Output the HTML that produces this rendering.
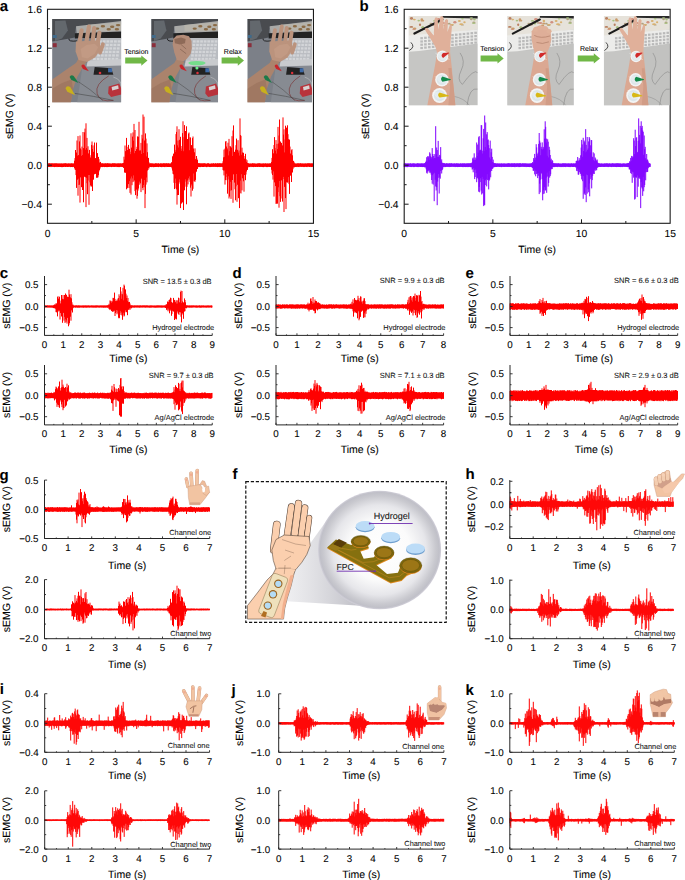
<!DOCTYPE html>
<html><head><meta charset="utf-8"><style>
html,body{margin:0;padding:0;background:#fff;}
svg{display:block;font-family:"Liberation Sans", sans-serif;text-rendering:geometricPrecision;} text{stroke:#000;stroke-width:0.08px;}
</style></head><body>
<svg width="685" height="880" viewBox="0 0 685 880">
<rect width="685" height="880" fill="#fff"/>
<path d="M47.50 163.4V167.0M48.00 163.5V166.8M48.50 163.5V167.0M49.00 163.3V167.0M49.50 163.3V167.0M50.00 163.4V166.9M50.50 163.6V166.7M51.00 163.4V167.1M51.50 163.5V166.7M52.00 163.3V166.9M52.50 163.5V166.6M53.00 163.5V167.0M53.50 163.6V166.8M54.00 163.4V166.6M54.50 163.5V167.1M55.00 163.4V166.8M55.50 163.4V166.9M56.00 163.7V166.7M56.50 163.3V166.8M57.00 163.8V167.1M57.50 163.5V166.8M58.00 163.5V167.0M58.50 163.7V167.0M59.00 163.4V167.0M59.50 163.6V166.9M60.00 163.7V166.9M60.50 163.7V167.0M61.00 163.3V166.8M61.50 163.7V167.1M62.00 163.4V167.1M62.50 163.8V167.1M63.00 163.5V166.8M63.50 163.6V167.0M64.00 163.4V166.7M64.50 163.5V166.7M65.00 163.3V166.8M65.50 163.3V167.0M66.00 163.5V166.7M66.50 163.5V166.7M67.00 163.7V167.0M67.50 163.6V167.0M68.00 163.7V167.0M68.50 163.4V166.8M69.00 163.7V166.8M69.50 163.5V166.7M70.00 163.7V166.6M70.50 163.5V167.1M71.00 163.7V166.6M71.50 163.4V167.0M72.00 163.3V166.9M72.50 163.6V167.1M73.00 163.7V167.0M73.50 163.7V166.8M74.00 163.2V167.1M74.50 160.7V168.1M75.00 158.1V169.5M75.50 150.0V169.9M76.00 156.1V175.1M76.50 152.5V187.9M77.00 140.5V173.3M77.50 155.7V179.7M78.00 136.1V195.7M78.50 155.1V178.7M79.00 156.3V185.0M79.50 141.4V184.6M80.00 135.5V202.6M80.50 148.4V177.4M81.00 149.6V173.6M81.50 155.9V187.2M82.00 146.6V184.5M82.50 155.0V190.0M83.00 132.0V187.7M83.50 148.2V202.3M84.00 148.0V176.4M84.50 132.3V176.5M85.00 128.6V177.1M85.50 149.7V177.2M86.00 123.3V207.1M86.50 148.0V177.8M87.00 137.9V183.2M87.50 149.7V194.2M88.00 146.3V180.6M88.50 153.4V175.0M89.00 156.6V204.8M89.50 149.9V175.0M90.00 155.2V182.3M90.50 157.5V185.4M91.00 158.3V186.5M91.50 144.9V186.4M92.00 141.5V186.0M92.50 149.0V191.0M93.00 145.4V177.3M93.50 151.8V179.7M94.00 157.3V172.9M94.50 142.5V174.3M95.00 158.6V172.2M95.50 158.1V173.9M96.00 159.6V170.8M96.50 142.6V177.8M97.00 156.0V170.5M97.50 153.1V177.7M98.00 157.6V177.3M98.50 156.9V175.2M99.00 159.2V171.4M99.50 162.5V170.0M100.00 163.2V168.6M100.50 161.9V167.1M101.00 163.2V167.1M101.50 163.5V166.9M102.00 163.5V166.9M102.50 163.3V167.1M103.00 163.6V166.9M103.50 163.6V166.8M104.00 163.5V166.9M104.50 163.5V167.1M105.00 163.7V167.0M105.50 163.3V167.0M106.00 163.5V166.8M106.50 163.6V167.1M107.00 163.3V167.0M107.50 163.3V167.1M108.00 163.3V166.8M108.50 163.5V167.0M109.00 163.6V167.0M109.50 163.5V166.8M110.00 163.5V166.7M110.50 163.6V166.8M111.00 163.8V166.7M111.50 163.7V167.1M112.00 163.5V166.8M112.50 163.3V166.7M113.00 163.5V167.0M113.50 163.4V166.8M114.00 163.4V166.9M114.50 163.4V166.9M115.00 163.3V167.0M115.50 163.7V166.7M116.00 163.3V166.7M116.50 163.8V166.7M117.00 163.5V167.1M117.50 163.6V167.0M118.00 163.3V166.7M118.50 163.5V167.1M119.00 163.5V166.9M119.50 163.6V167.1M120.00 163.3V166.7M120.50 163.5V166.8M121.00 163.4V166.7M121.50 163.7V166.8M122.00 163.5V167.0M122.50 163.3V167.0M123.00 163.2V167.1M123.50 162.9V167.8M124.00 156.7V168.0M124.50 159.6V172.5M125.00 145.5V172.3M125.50 151.2V172.8M126.00 151.3V171.6M126.50 137.9V189.3M127.00 146.8V188.4M127.50 150.0V187.8M128.00 152.7V182.6M128.50 144.9V184.1M129.00 149.6V188.0M129.50 148.8V181.1M130.00 151.8V192.9M130.50 154.1V178.5M131.00 133.3V194.6M131.50 147.6V176.5M132.00 152.4V185.2M132.50 136.6V178.4M133.00 132.4V182.1M133.50 140.7V175.4M134.00 123.9V181.3M134.50 153.2V180.2M135.00 130.0V191.1M135.50 151.0V195.1M136.00 151.3V182.0M136.50 149.1V189.6M137.00 146.8V198.7M137.50 136.4V195.9M138.00 144.1V190.6M138.50 136.7V188.5M139.00 121.8V185.0M139.50 150.9V181.6M140.00 149.9V183.7M140.50 150.7V183.0M141.00 142.9V192.1M141.50 154.0V178.7M142.00 134.8V174.9M142.50 138.5V188.0M143.00 114.5V190.2M143.50 153.0V185.0M144.00 116.7V187.3M144.50 140.5V180.0M145.00 146.8V208.1M145.50 133.4V193.9M146.00 138.6V184.6M146.50 156.4V177.5M147.00 143.4V182.3M147.50 152.2V170.5M148.00 157.8V170.0M148.50 158.0V168.1M149.00 162.3V168.4M149.50 163.6V166.8M150.00 163.4V166.8M150.50 163.4V167.0M151.00 163.5V166.6M151.50 163.4V167.1M152.00 163.7V167.0M152.50 163.5V166.8M153.00 163.4V167.1M153.50 163.8V167.1M154.00 163.6V167.1M154.50 163.7V167.0M155.00 163.7V166.8M155.50 163.3V167.0M156.00 163.4V166.9M156.50 163.5V166.9M157.00 163.4V167.0M157.50 163.7V166.8M158.00 163.5V166.9M158.50 163.3V167.1M159.00 163.7V166.8M159.50 163.7V166.6M160.00 163.8V166.7M160.50 163.4V167.0M161.00 163.4V166.8M161.50 163.7V167.1M162.00 163.3V167.1M162.50 163.8V166.8M163.00 163.4V167.0M163.50 163.3V166.9M164.00 163.6V166.6M164.50 163.4V167.1M165.00 163.3V167.0M165.50 163.6V166.7M166.00 163.4V167.1M166.50 163.3V166.7M167.00 163.5V166.9M167.50 163.6V167.0M168.00 163.3V167.0M168.50 163.4V167.0M169.00 163.4V166.9M169.50 163.7V167.0M170.00 163.7V167.0M170.50 163.6V166.9M171.00 163.4V166.9M171.50 162.3V167.1M172.00 162.6V168.4M172.50 156.5V170.6M173.00 155.8V173.8M173.50 153.6V174.3M174.00 155.4V182.8M174.50 144.6V189.1M175.00 149.9V183.1M175.50 151.8V178.6M176.00 134.1V188.4M176.50 131.9V189.4M177.00 126.3V204.6M177.50 145.3V195.1M178.00 140.5V178.7M178.50 147.5V195.0M179.00 129.2V182.0M179.50 139.8V179.4M180.00 142.3V183.6M180.50 136.8V208.1M181.00 146.0V201.9M181.50 150.8V203.6M182.00 148.6V190.8M182.50 133.1V202.4M183.00 121.3V202.1M183.50 151.2V210.0M184.00 137.2V183.2M184.50 125.1V190.3M185.00 132.8V186.7M185.50 131.0V179.3M186.00 152.1V181.7M186.50 126.3V204.3M187.00 152.4V186.8M187.50 139.0V180.6M188.00 150.2V184.4M188.50 133.6V178.1M189.00 132.5V179.6M189.50 150.2V176.4M190.00 137.2V181.9M190.50 137.7V187.7M191.00 147.4V196.5M191.50 145.1V184.4M192.00 154.2V185.7M192.50 138.1V190.7M193.00 136.5V188.8M193.50 148.5V173.5M194.00 152.8V181.3M194.50 152.3V181.1M195.00 148.4V181.8M195.50 159.1V179.9M196.00 160.0V172.1M196.50 156.0V171.4M197.00 158.6V168.5M197.50 160.0V169.0M198.00 163.2V167.1M198.50 163.2V167.1M199.00 163.4V166.8M199.50 163.3V167.1M200.00 163.3V166.6M200.50 163.6V167.1M201.00 163.3V166.7M201.50 163.6V166.8M202.00 163.4V166.6M202.50 163.6V167.0M203.00 163.3V166.6M203.50 163.5V167.0M204.00 163.3V166.8M204.50 163.3V166.7M205.00 163.7V166.7M205.50 163.5V166.7M206.00 163.7V166.7M206.50 163.8V167.1M207.00 163.6V167.1M207.50 163.4V166.7M208.00 163.3V166.6M208.50 163.3V166.6M209.00 163.7V166.9M209.50 163.8V167.0M210.00 163.7V167.1M210.50 163.8V166.9M211.00 163.7V166.8M211.50 163.5V166.8M212.00 163.6V167.0M212.50 163.7V166.7M213.00 163.4V166.8M213.50 163.3V166.8M214.00 163.5V166.6M214.50 163.8V166.7M215.00 163.5V167.0M215.50 163.3V166.8M216.00 163.4V166.8M216.50 163.8V166.8M217.00 163.4V167.0M217.50 163.3V167.1M218.00 163.5V166.9M218.50 163.5V166.9M219.00 163.4V166.9M219.50 163.3V166.8M220.00 163.5V167.1M220.50 163.4V166.9M221.00 163.5V167.0M221.50 163.5V166.7M222.00 163.6V166.9M222.50 163.2V167.1M223.00 161.3V170.1M223.50 157.3V170.5M224.00 149.6V175.4M224.50 156.9V170.5M225.00 148.6V184.6M225.50 141.7V180.0M226.00 141.0V180.2M226.50 146.5V173.8M227.00 148.1V177.1M227.50 149.3V193.7M228.00 142.7V179.5M228.50 155.4V176.3M229.00 138.9V198.5M229.50 151.2V196.6M230.00 146.0V190.7M230.50 146.6V181.8M231.00 153.3V198.9M231.50 147.5V190.3M232.00 136.2V176.2M232.50 156.0V180.0M233.00 130.5V202.8M233.50 125.4V174.3M234.00 155.3V174.2M234.50 151.8V182.6M235.00 154.0V189.3M235.50 149.7V200.3M236.00 145.2V186.3M236.50 138.6V174.0M237.00 154.3V201.8M237.50 149.8V184.8M238.00 140.2V176.3M238.50 152.6V198.2M239.00 150.5V178.1M239.50 155.6V208.1M240.00 118.4V193.0M240.50 135.1V180.6M241.00 135.8V193.5M241.50 154.8V174.2M242.00 147.7V190.4M242.50 152.5V178.3M243.00 152.7V171.6M243.50 152.9V181.3M244.00 156.0V191.7M244.50 159.0V175.0M245.00 158.3V172.6M245.50 153.8V180.2M246.00 159.1V174.5M246.50 161.9V171.5M247.00 160.2V169.4M247.50 163.0V169.9M248.00 163.2V167.5M248.50 163.3V166.8M249.00 163.6V166.8M249.50 163.8V167.1M250.00 163.4V166.6M250.50 163.7V166.7M251.00 163.6V167.1M251.50 163.7V166.7M252.00 163.6V166.9M252.50 163.3V166.9M253.00 163.3V166.9M253.50 163.6V167.1M254.00 163.5V166.9M254.50 163.5V166.8M255.00 163.6V166.6M255.50 163.7V167.0M256.00 163.7V166.7M256.50 163.7V166.8M257.00 163.8V166.8M257.50 163.5V167.0M258.00 163.3V166.7M258.50 163.4V166.7M259.00 163.6V166.9M259.50 163.3V167.0M260.00 163.3V166.6M260.50 163.6V166.9M261.00 163.8V166.6M261.50 163.6V166.9M262.00 163.7V166.6M262.50 163.6V167.0M263.00 163.5V167.1M263.50 163.5V167.1M264.00 163.5V166.9M264.50 163.6V166.6M265.00 163.8V167.0M265.50 163.3V166.6M266.00 163.7V166.8M266.50 163.6V167.1M267.00 163.7V166.8M267.50 163.5V167.1M268.00 163.6V167.0M268.50 163.8V166.8M269.00 163.3V166.7M269.50 163.6V167.0M270.00 163.5V166.9M270.50 163.5V167.0M271.00 163.2V167.1M271.50 161.9V169.8M272.00 157.9V173.5M272.50 149.2V175.0M273.00 153.6V179.6M273.50 153.4V171.4M274.00 145.0V196.6M274.50 137.1V182.4M275.00 147.9V177.9M275.50 150.7V186.1M276.00 140.1V203.9M276.50 153.6V203.6M277.00 143.9V201.2M277.50 149.0V203.7M278.00 126.9V192.1M278.50 143.5V187.3M279.00 135.5V207.7M279.50 119.5V181.0M280.00 143.1V196.2M280.50 141.5V201.9M281.00 151.0V198.5M281.50 142.9V180.4M282.00 153.2V179.4M282.50 145.4V201.6M283.00 117.4V179.0M283.50 134.6V176.9M284.00 129.3V212.0M284.50 152.4V186.9M285.00 139.5V180.9M285.50 125.7V198.1M286.00 149.2V209.1M286.50 127.7V182.3M287.00 127.8V177.8M287.50 125.3V182.5M288.00 134.2V182.5M288.50 139.2V177.1M289.00 147.8V184.1M289.50 139.6V193.9M290.00 146.6V176.0M290.50 153.5V175.3M291.00 157.5V172.4M291.50 150.2V182.0M292.00 149.2V172.8M292.50 155.3V172.2M293.00 160.7V169.2M293.50 161.0V167.3M294.00 161.8V167.5M294.50 163.2V167.1M295.00 163.4V166.8M295.50 163.6V167.0M296.00 163.7V166.8M296.50 163.7V166.9M297.00 163.4V167.1M297.50 163.4V166.7M298.00 163.6V166.9M298.50 163.4V167.0M299.00 163.3V167.1M299.50 163.7V166.7M300.00 163.3V166.7M300.50 163.3V166.7M301.00 163.5V166.7M301.50 163.7V166.8M302.00 163.4V167.0M302.50 163.6V166.7M303.00 163.6V166.7M303.50 163.7V166.9M304.00 163.5V167.1M304.50 163.7V166.9M305.00 163.5V166.7M305.50 163.6V166.7M306.00 163.3V166.8M306.50 163.8V166.9M307.00 163.5V167.1M307.50 163.4V166.7M308.00 163.3V166.6M308.50 163.4V166.6M309.00 163.3V166.7M309.50 163.4V167.0M310.00 163.4V166.7M310.50 163.6V166.7M311.00 163.4V167.1M311.50 163.5V167.0M312.00 163.4V166.7M312.50 163.6V166.8M313.00 163.4V166.8" fill="none" stroke="#ff0000" stroke-width="1.0"/>
<rect x="47.50" y="9.30" width="265.95" height="214.00" fill="none" stroke="#1a1a1a" stroke-width="1.1"/>
<text x="41.90" y="12.90" font-size="10.3" text-anchor="end" font-weight="normal" fill="#000" >1.6</text>
<line x1="47.50" y1="48.20" x2="51.90" y2="48.20" stroke="#1a1a1a" stroke-width="1"/>
<text x="41.90" y="51.90" font-size="10.3" text-anchor="end" font-weight="normal" fill="#000" >1.2</text>
<line x1="47.50" y1="87.20" x2="51.90" y2="87.20" stroke="#1a1a1a" stroke-width="1"/>
<text x="41.90" y="90.90" font-size="10.3" text-anchor="end" font-weight="normal" fill="#000" >0.8</text>
<line x1="47.50" y1="126.20" x2="51.90" y2="126.20" stroke="#1a1a1a" stroke-width="1"/>
<text x="41.90" y="129.90" font-size="10.3" text-anchor="end" font-weight="normal" fill="#000" >0.4</text>
<line x1="47.50" y1="165.20" x2="51.90" y2="165.20" stroke="#1a1a1a" stroke-width="1"/>
<text x="41.90" y="168.90" font-size="10.3" text-anchor="end" font-weight="normal" fill="#000" >0.0</text>
<line x1="47.50" y1="204.20" x2="51.90" y2="204.20" stroke="#1a1a1a" stroke-width="1"/>
<text x="41.90" y="207.90" font-size="10.3" text-anchor="end" font-weight="normal" fill="#000" >−0.4</text>
<line x1="47.50" y1="28.70" x2="49.90" y2="28.70" stroke="#1a1a1a" stroke-width="1"/>
<line x1="47.50" y1="67.70" x2="49.90" y2="67.70" stroke="#1a1a1a" stroke-width="1"/>
<line x1="47.50" y1="106.70" x2="49.90" y2="106.70" stroke="#1a1a1a" stroke-width="1"/>
<line x1="47.50" y1="145.70" x2="49.90" y2="145.70" stroke="#1a1a1a" stroke-width="1"/>
<line x1="47.50" y1="184.70" x2="49.90" y2="184.70" stroke="#1a1a1a" stroke-width="1"/>
<text x="47.50" y="237.40" font-size="10.3" text-anchor="middle" font-weight="normal" fill="#000" >0</text>
<line x1="136.15" y1="223.30" x2="136.15" y2="219.30" stroke="#1a1a1a" stroke-width="1"/>
<text x="136.15" y="237.40" font-size="10.3" text-anchor="middle" font-weight="normal" fill="#000" >5</text>
<line x1="224.80" y1="223.30" x2="224.80" y2="219.30" stroke="#1a1a1a" stroke-width="1"/>
<text x="224.80" y="237.40" font-size="10.3" text-anchor="middle" font-weight="normal" fill="#000" >10</text>
<text x="313.45" y="237.40" font-size="10.3" text-anchor="middle" font-weight="normal" fill="#000" >15</text>
<line x1="91.83" y1="223.30" x2="91.83" y2="221.00" stroke="#1a1a1a" stroke-width="1"/>
<line x1="180.47" y1="223.30" x2="180.47" y2="221.00" stroke="#1a1a1a" stroke-width="1"/>
<line x1="269.12" y1="223.30" x2="269.12" y2="221.00" stroke="#1a1a1a" stroke-width="1"/>
<text x="180.47" y="252.60" font-size="10.4" text-anchor="middle" font-weight="normal" fill="#000" >Time (s)</text>
<text transform="translate(12.50,116.3) rotate(-90)" font-size="10.4" text-anchor="middle">sEMG (V)</text>
<text x="-0.30" y="10.90" font-size="15" text-anchor="start" font-weight="bold" fill="#000" >a</text>
<path d="M404.20 163.5V166.9M404.70 163.5V167.1M405.20 163.3V167.1M405.70 163.5V166.8M406.20 163.5V166.6M406.70 163.7V167.1M407.20 163.7V167.1M407.70 163.4V167.1M408.20 163.8V166.8M408.70 163.4V166.6M409.20 163.7V166.8M409.70 163.7V166.7M410.20 163.4V166.7M410.70 163.3V167.0M411.20 163.8V167.1M411.70 163.7V166.9M412.20 163.5V166.7M412.70 163.5V166.6M413.20 163.7V167.1M413.70 163.3V166.9M414.20 163.4V167.1M414.70 163.7V166.9M415.20 163.7V166.7M415.70 163.7V166.7M416.20 163.8V166.7M416.70 163.6V166.9M417.20 163.3V167.1M417.70 163.4V166.9M418.20 163.3V166.7M418.70 163.7V167.1M419.20 163.5V166.7M419.70 163.6V166.8M420.20 163.6V166.8M420.70 163.6V167.0M421.20 163.4V166.9M421.70 163.5V166.8M422.20 163.4V167.1M422.70 163.7V167.0M423.20 163.4V167.0M423.70 163.8V166.9M424.20 163.2V167.1M424.70 163.2V167.1M425.20 163.2V167.6M425.70 162.0V167.1M426.20 160.7V169.3M426.70 157.2V172.8M427.20 161.5V173.6M427.70 156.2V171.5M428.20 157.6V170.8M428.70 156.3V170.4M429.20 159.8V172.5M429.70 152.3V170.5M430.20 153.6V173.1M430.70 156.3V171.9M431.20 158.9V174.6M431.70 157.2V180.0M432.20 148.1V183.7M432.70 154.0V175.2M433.20 158.7V184.6M433.70 156.0V173.8M434.20 154.1V201.2M434.70 158.0V172.8M435.20 158.1V179.8M435.70 126.2V186.5M436.20 154.2V190.5M436.70 147.5V187.1M437.20 150.0V205.2M437.70 156.9V181.6M438.20 140.9V177.8M438.70 156.6V174.1M439.20 157.4V193.5M439.70 154.9V177.5M440.20 155.6V178.7M440.70 147.1V170.9M441.20 161.2V170.4M441.70 159.4V173.5M442.20 163.0V170.1M442.70 162.7V169.2M443.20 163.2V167.1M443.70 163.2V167.1M444.20 163.2V167.1M444.70 163.3V166.6M445.20 163.6V167.1M445.70 163.8V167.0M446.20 163.3V167.0M446.70 163.3V166.6M447.20 163.5V166.9M447.70 163.6V166.8M448.20 163.4V166.7M448.70 163.8V166.9M449.20 163.3V167.1M449.70 163.4V166.8M450.20 163.3V166.6M450.70 163.7V167.0M451.20 163.3V166.8M451.70 163.3V166.7M452.20 163.5V166.6M452.70 163.7V166.7M453.20 163.8V166.8M453.70 163.5V166.8M454.20 163.4V166.6M454.70 163.5V166.9M455.20 163.6V167.1M455.70 163.7V166.8M456.20 163.5V166.8M456.70 163.3V166.9M457.20 163.5V166.8M457.70 163.6V167.1M458.20 163.4V167.0M458.70 163.7V166.9M459.20 163.7V166.8M459.70 163.8V167.0M460.20 163.3V167.0M460.70 163.5V166.7M461.20 163.6V166.9M461.70 163.6V166.8M462.20 163.7V167.0M462.70 163.3V167.1M463.20 163.5V166.6M463.70 163.6V167.1M464.20 163.3V166.9M464.70 163.5V167.0M465.20 163.7V167.0M465.70 163.6V167.1M466.20 163.5V167.0M466.70 163.5V166.9M467.20 163.5V167.1M467.70 163.4V166.8M468.20 163.5V167.1M468.70 163.4V167.0M469.20 163.3V166.7M469.70 163.5V166.9M470.20 163.5V167.1M470.70 163.2V167.1M471.20 163.2V167.1M471.70 163.2V167.3M472.20 162.1V169.6M472.70 158.4V169.0M473.20 157.5V172.3M473.70 159.6V168.1M474.20 153.3V170.1M474.70 160.1V179.1M475.20 157.5V177.0M475.70 159.8V169.6M476.20 158.5V173.1M476.70 142.5V182.2M477.20 156.0V178.1M477.70 144.5V177.7M478.20 152.6V179.3M478.70 137.2V191.7M479.20 136.1V186.9M479.70 150.3V192.3M480.20 150.6V182.1M480.70 149.7V178.3M481.20 125.1V190.6M481.70 125.3V194.5M482.20 150.7V176.9M482.70 153.5V193.4M483.20 138.3V178.9M483.70 128.9V206.1M484.20 151.1V204.6M484.70 115.5V205.2M485.20 147.1V185.1M485.70 122.5V180.3M486.20 149.9V179.1M486.70 134.3V186.4M487.20 132.1V174.2M487.70 140.1V180.1M488.20 139.5V179.7M488.70 145.1V189.4M489.20 148.2V180.6M489.70 157.4V179.5M490.20 140.6V172.1M490.70 159.3V177.3M491.20 152.3V169.6M491.70 148.7V171.0M492.20 156.9V168.5M492.70 162.0V168.9M493.20 159.6V167.7M493.70 162.8V167.1M494.20 163.2V167.1M494.70 163.2V167.1M495.20 163.3V166.7M495.70 163.3V167.0M496.20 163.7V167.0M496.70 163.5V167.0M497.20 163.5V166.8M497.70 163.5V166.7M498.20 163.5V166.8M498.70 163.7V166.7M499.20 163.6V166.8M499.70 163.5V167.0M500.20 163.7V166.9M500.70 163.6V166.7M501.20 163.7V167.1M501.70 163.3V167.1M502.20 163.7V166.7M502.70 163.7V166.8M503.20 163.6V166.6M503.70 163.6V167.0M504.20 163.3V166.7M504.70 163.8V167.0M505.20 163.6V166.8M505.70 163.7V166.8M506.20 163.7V166.7M506.70 163.7V166.9M507.20 163.4V166.8M507.70 163.6V166.9M508.20 163.3V167.0M508.70 163.3V166.7M509.20 163.4V166.8M509.70 163.5V166.9M510.20 163.5V166.8M510.70 163.8V166.6M511.20 163.3V167.1M511.70 163.5V166.7M512.20 163.3V166.9M512.70 163.5V167.0M513.20 163.7V166.7M513.70 163.4V167.0M514.20 163.3V166.8M514.70 163.3V167.1M515.20 163.5V167.1M515.70 163.7V166.6M516.20 163.4V166.7M516.70 163.5V167.0M517.20 163.4V166.7M517.70 163.4V166.6M518.20 163.5V167.1M518.70 163.5V166.8M519.20 163.3V167.0M519.70 163.4V167.1M520.20 163.3V166.9M520.70 163.3V166.9M521.20 163.7V166.8M521.70 163.7V166.6M522.20 163.5V166.8M522.70 163.3V166.6M523.20 163.4V166.7M523.70 163.6V166.8M524.20 163.3V167.0M524.70 163.5V166.7M525.20 163.8V166.8M525.70 163.3V166.8M526.20 163.4V167.1M526.70 163.8V166.8M527.20 163.6V166.7M527.70 163.6V167.0M528.20 163.7V167.0M528.70 163.6V167.0M529.20 163.7V167.0M529.70 163.6V167.1M530.20 163.3V166.9M530.70 163.8V166.8M531.20 163.3V167.0M531.70 163.2V167.1M532.20 163.2V167.7M532.70 162.0V168.1M533.20 163.2V170.8M533.70 158.1V170.7M534.20 159.7V169.5M534.70 153.9V174.4M535.20 160.3V170.5M535.70 157.6V176.3M536.20 144.2V170.8M536.70 147.4V174.0M537.20 153.7V173.5M537.70 155.7V178.1M538.20 152.5V173.0M538.70 143.9V175.8M539.20 133.0V194.1M539.70 140.7V183.7M540.20 142.6V192.4M540.70 155.2V179.7M541.20 146.8V172.8M541.70 148.8V173.6M542.20 142.4V179.0M542.70 149.5V200.3M543.20 146.9V194.1M543.70 148.5V190.3M544.20 129.3V193.6M544.70 138.7V187.2M545.20 121.3V190.4M545.70 126.8V190.3M546.20 142.6V177.7M546.70 138.6V192.8M547.20 155.8V172.6M547.70 139.3V176.6M548.20 141.7V186.6M548.70 157.4V182.9M549.20 146.8V171.2M549.70 149.8V177.6M550.20 155.0V176.0M550.70 160.1V174.3M551.20 158.7V168.5M551.70 161.7V169.3M552.20 160.1V169.0M552.70 160.9V167.1M553.20 163.2V167.1M553.70 163.2V167.1M554.20 163.3V166.7M554.70 163.4V167.1M555.20 163.4V166.8M555.70 163.4V166.8M556.20 163.6V167.0M556.70 163.4V166.7M557.20 163.4V166.6M557.70 163.7V167.1M558.20 163.3V166.7M558.70 163.4V166.7M559.20 163.5V166.8M559.70 163.8V166.8M560.20 163.5V167.1M560.70 163.7V166.8M561.20 163.8V166.7M561.70 163.7V167.1M562.20 163.3V166.7M562.70 163.5V166.9M563.20 163.5V167.1M563.70 163.3V166.6M564.20 163.6V166.9M564.70 163.4V166.9M565.20 163.3V166.7M565.70 163.5V167.1M566.20 163.7V166.7M566.70 163.5V166.7M567.20 163.5V166.7M567.70 163.7V166.8M568.20 163.4V166.9M568.70 163.5V166.9M569.20 163.6V167.1M569.70 163.5V166.9M570.20 163.8V166.7M570.70 163.5V167.1M571.20 163.4V166.6M571.70 163.4V166.7M572.20 163.5V166.7M572.70 163.8V167.0M573.20 163.5V166.9M573.70 163.4V166.9M574.20 163.6V166.8M574.70 163.5V166.7M575.20 163.7V167.0M575.70 163.2V167.4M576.20 161.0V167.2M576.70 160.7V170.8M577.20 160.9V171.2M577.70 157.0V168.7M578.20 161.5V174.6M578.70 160.5V174.7M579.20 158.1V169.7M579.70 160.3V172.1M580.20 159.8V173.6M580.70 155.3V173.8M581.20 147.6V175.8M581.70 139.9V179.4M582.20 144.4V175.5M582.70 156.8V181.2M583.20 137.8V198.8M583.70 151.0V176.1M584.20 140.6V194.2M584.70 142.2V193.1M585.20 152.4V195.0M585.70 129.1V187.4M586.20 144.9V202.2M586.70 151.5V174.6M587.20 137.0V193.6M587.70 149.8V175.2M588.20 148.4V189.4M588.70 141.4V192.3M589.20 137.0V183.5M589.70 138.4V196.3M590.20 152.5V179.2M590.70 145.3V174.7M591.20 140.0V177.4M591.70 140.2V188.4M592.20 156.7V180.1M592.70 157.2V175.8M593.20 152.3V172.8M593.70 160.1V173.9M594.20 153.4V174.0M594.70 161.1V170.3M595.20 157.5V168.6M595.70 158.7V170.7M596.20 160.2V169.4M596.70 160.9V170.2M597.20 159.5V168.0M597.70 162.5V167.1M598.20 163.2V167.1M598.70 163.2V167.1M599.20 163.5V166.9M599.70 163.4V166.9M600.20 163.5V167.0M600.70 163.8V167.0M601.20 163.7V166.7M601.70 163.4V166.9M602.20 163.6V166.6M602.70 163.8V166.8M603.20 163.7V167.0M603.70 163.7V166.8M604.20 163.6V167.0M604.70 163.4V166.9M605.20 163.7V166.7M605.70 163.5V166.8M606.20 163.4V166.7M606.70 163.4V166.8M607.20 163.6V166.7M607.70 163.4V166.9M608.20 163.5V167.1M608.70 163.8V166.9M609.20 163.6V166.7M609.70 163.3V166.7M610.20 163.6V166.8M610.70 163.7V166.8M611.20 163.8V166.9M611.70 163.5V167.1M612.20 163.3V166.8M612.70 163.3V166.7M613.20 163.7V166.9M613.70 163.4V166.9M614.20 163.8V166.8M614.70 163.5V166.8M615.20 163.4V167.0M615.70 163.7V166.9M616.20 163.4V167.0M616.70 163.4V167.1M617.20 163.4V166.8M617.70 163.3V166.9M618.20 163.5V166.9M618.70 163.4V167.0M619.20 163.5V167.0M619.70 163.6V167.0M620.20 163.3V166.9M620.70 163.7V167.1M621.20 163.7V166.7M621.70 163.8V166.8M622.20 163.6V167.1M622.70 163.7V166.8M623.20 163.4V166.6M623.70 163.6V166.7M624.20 163.4V166.8M624.70 163.7V166.7M625.20 163.7V167.0M625.70 163.7V166.6M626.20 163.7V166.6M626.70 163.4V167.0M627.20 163.5V166.8M627.70 163.2V167.1M628.20 162.9V167.1M628.70 163.0V167.1M629.20 163.2V169.4M629.70 161.3V169.3M630.20 161.8V169.4M630.70 157.9V173.2M631.20 160.9V171.4M631.70 155.9V173.9M632.20 156.3V182.8M632.70 157.7V171.8M633.20 156.8V172.3M633.70 138.2V177.7M634.20 140.6V176.5M634.70 154.1V199.6M635.20 129.7V198.8M635.70 146.0V177.0M636.20 138.0V177.9M636.70 137.2V177.1M637.20 153.1V197.1M637.70 151.9V175.5M638.20 140.8V186.7M638.70 118.4V177.8M639.20 140.4V178.6M639.70 134.9V177.4M640.20 125.9V179.0M640.70 143.4V208.1M641.20 121.3V182.1M641.70 127.8V187.4M642.20 125.9V188.6M642.70 130.5V195.9M643.20 131.8V176.9M643.70 154.8V191.3M644.20 135.5V187.2M644.70 149.1V185.0M645.20 146.8V172.4M645.70 158.2V180.3M646.20 160.4V169.1M646.70 154.0V172.2M647.20 159.5V172.0M647.70 159.8V171.8M648.20 161.5V168.2M648.70 163.2V167.4M649.20 163.2V167.1M649.70 163.4V166.8M650.20 163.7V166.9" fill="none" stroke="#8000ff" stroke-width="1.0"/>
<rect x="404.20" y="9.30" width="265.95" height="214.00" fill="none" stroke="#1a1a1a" stroke-width="1.1"/>
<text x="398.60" y="12.90" font-size="10.3" text-anchor="end" font-weight="normal" fill="#000" >1.6</text>
<line x1="404.20" y1="48.20" x2="408.60" y2="48.20" stroke="#1a1a1a" stroke-width="1"/>
<text x="398.60" y="51.90" font-size="10.3" text-anchor="end" font-weight="normal" fill="#000" >1.2</text>
<line x1="404.20" y1="87.20" x2="408.60" y2="87.20" stroke="#1a1a1a" stroke-width="1"/>
<text x="398.60" y="90.90" font-size="10.3" text-anchor="end" font-weight="normal" fill="#000" >0.8</text>
<line x1="404.20" y1="126.20" x2="408.60" y2="126.20" stroke="#1a1a1a" stroke-width="1"/>
<text x="398.60" y="129.90" font-size="10.3" text-anchor="end" font-weight="normal" fill="#000" >0.4</text>
<line x1="404.20" y1="165.20" x2="408.60" y2="165.20" stroke="#1a1a1a" stroke-width="1"/>
<text x="398.60" y="168.90" font-size="10.3" text-anchor="end" font-weight="normal" fill="#000" >0.0</text>
<line x1="404.20" y1="204.20" x2="408.60" y2="204.20" stroke="#1a1a1a" stroke-width="1"/>
<text x="398.60" y="207.90" font-size="10.3" text-anchor="end" font-weight="normal" fill="#000" >−0.4</text>
<line x1="404.20" y1="28.70" x2="406.60" y2="28.70" stroke="#1a1a1a" stroke-width="1"/>
<line x1="404.20" y1="67.70" x2="406.60" y2="67.70" stroke="#1a1a1a" stroke-width="1"/>
<line x1="404.20" y1="106.70" x2="406.60" y2="106.70" stroke="#1a1a1a" stroke-width="1"/>
<line x1="404.20" y1="145.70" x2="406.60" y2="145.70" stroke="#1a1a1a" stroke-width="1"/>
<line x1="404.20" y1="184.70" x2="406.60" y2="184.70" stroke="#1a1a1a" stroke-width="1"/>
<text x="404.20" y="237.40" font-size="10.3" text-anchor="middle" font-weight="normal" fill="#000" >0</text>
<line x1="492.85" y1="223.30" x2="492.85" y2="219.30" stroke="#1a1a1a" stroke-width="1"/>
<text x="492.85" y="237.40" font-size="10.3" text-anchor="middle" font-weight="normal" fill="#000" >5</text>
<line x1="581.50" y1="223.30" x2="581.50" y2="219.30" stroke="#1a1a1a" stroke-width="1"/>
<text x="581.50" y="237.40" font-size="10.3" text-anchor="middle" font-weight="normal" fill="#000" >10</text>
<text x="670.15" y="237.40" font-size="10.3" text-anchor="middle" font-weight="normal" fill="#000" >15</text>
<line x1="448.52" y1="223.30" x2="448.52" y2="221.00" stroke="#1a1a1a" stroke-width="1"/>
<line x1="537.17" y1="223.30" x2="537.17" y2="221.00" stroke="#1a1a1a" stroke-width="1"/>
<line x1="625.83" y1="223.30" x2="625.83" y2="221.00" stroke="#1a1a1a" stroke-width="1"/>
<text x="537.17" y="252.60" font-size="10.4" text-anchor="middle" font-weight="normal" fill="#000" >Time (s)</text>
<text transform="translate(369.20,116.3) rotate(-90)" font-size="10.4" text-anchor="middle">sEMG (V)</text>
<text x="359.40" y="11.20" font-size="15" text-anchor="start" font-weight="bold" fill="#000" >b</text>
<defs><filter id="soft" x="-5%" y="-5%" width="110%" height="110%"><feGaussianBlur stdDeviation="0.35"/></filter></defs>
<clipPath id="ca1"><rect x="0" y="0" width="69.2" height="83.6"/></clipPath>
<g transform="translate(52.1,18.9) scale(1.0000,1.0000)" clip-path="url(#ca1)"><g filter="url(#soft)">
<rect x="0" y="0" width="69.2" height="83.6" fill="#7c8088"/>
<polygon points="30.9,44.2 69.2,44.2 69.2,83.6 25.1,83.6" fill="#878b92"/>
<polygon points="-0.0,0.0 69.2,0.0 69.2,5.6 23.9,7.9 22.8,18.5 14.6,20.2 -0.0,22.5" fill="#484b50"/>
<polygon points="2.9,2.1 13.4,1.5 15.8,11.5 9.9,19.6 2.9,22.0" fill="#63676d"/>
<rect x="0.6" y="16.1" width="4" height="3" fill="#3f6a8a"/>
<rect x="0.6" y="24.3" width="4" height="4" fill="#8a2d3a"/>
<polygon points="23.9,7.4 69.2,2.1 69.2,14.4 25.1,15.5" fill="#a9a9a7"/>
<polygon points="34.4,6.2 69.2,3.3 69.2,11.5 34.4,12.6" fill="#b6b3ab"/>
<ellipse cx="50.8" cy="7.4" rx="2.2" ry="1.2" fill="#8a6a45"/>
<ellipse cx="60.1" cy="7.9" rx="2.2" ry="1.2" fill="#8a6a45"/>
<ellipse cx="66.0" cy="6.2" rx="2.2" ry="1.2" fill="#8a6a45"/>
<ellipse cx="45.0" cy="9.7" rx="2.2" ry="1.2" fill="#8a6a45"/>
<ellipse cx="56.6" cy="10.3" rx="2.2" ry="1.2" fill="#8a6a45"/>
<ellipse cx="64.8" cy="10.3" rx="2.2" ry="1.2" fill="#8a6a45"/>
<polygon points="22.8,14.4 69.2,12.6 69.2,20.2 30.9,19.0 22.8,19.6" fill="#202124"/>
<polygon points="40.3,19.0 69.2,19.0 69.2,44.2 37.9,46.5 35.6,41.8" fill="#b9bcc1"/>
<rect x="43.2" y="21.4" width="2.8" height="2.3" fill="#d3d5d8"/>
<rect x="46.9" y="21.4" width="2.8" height="2.3" fill="#d3d5d8"/>
<rect x="50.7" y="21.4" width="2.8" height="2.3" fill="#d3d5d8"/>
<rect x="54.4" y="21.4" width="2.8" height="2.3" fill="#d3d5d8"/>
<rect x="58.1" y="21.4" width="2.8" height="2.3" fill="#d3d5d8"/>
<rect x="61.9" y="21.4" width="2.8" height="2.3" fill="#d3d5d8"/>
<rect x="65.6" y="21.4" width="2.8" height="2.3" fill="#d3d5d8"/>
<rect x="42.7" y="24.9" width="2.8" height="2.3" fill="#d3d5d8"/>
<rect x="46.5" y="24.9" width="2.8" height="2.3" fill="#d3d5d8"/>
<rect x="50.2" y="24.9" width="2.8" height="2.3" fill="#d3d5d8"/>
<rect x="53.9" y="24.9" width="2.8" height="2.3" fill="#d3d5d8"/>
<rect x="57.7" y="24.9" width="2.8" height="2.3" fill="#d3d5d8"/>
<rect x="61.4" y="24.9" width="2.8" height="2.3" fill="#d3d5d8"/>
<rect x="65.2" y="24.9" width="2.8" height="2.3" fill="#d3d5d8"/>
<rect x="42.3" y="28.4" width="2.8" height="2.3" fill="#d3d5d8"/>
<rect x="46.0" y="28.4" width="2.8" height="2.3" fill="#d3d5d8"/>
<rect x="49.7" y="28.4" width="2.8" height="2.3" fill="#d3d5d8"/>
<rect x="53.5" y="28.4" width="2.8" height="2.3" fill="#d3d5d8"/>
<rect x="57.2" y="28.4" width="2.8" height="2.3" fill="#d3d5d8"/>
<rect x="61.0" y="28.4" width="2.8" height="2.3" fill="#d3d5d8"/>
<rect x="64.7" y="28.4" width="2.8" height="2.3" fill="#d3d5d8"/>
<rect x="41.8" y="31.9" width="2.8" height="2.3" fill="#d3d5d8"/>
<rect x="45.5" y="31.9" width="2.8" height="2.3" fill="#d3d5d8"/>
<rect x="49.3" y="31.9" width="2.8" height="2.3" fill="#d3d5d8"/>
<rect x="53.0" y="31.9" width="2.8" height="2.3" fill="#d3d5d8"/>
<rect x="56.7" y="31.9" width="2.8" height="2.3" fill="#d3d5d8"/>
<rect x="60.5" y="31.9" width="2.8" height="2.3" fill="#d3d5d8"/>
<rect x="64.2" y="31.9" width="2.8" height="2.3" fill="#d3d5d8"/>
<rect x="41.3" y="35.4" width="2.8" height="2.3" fill="#d3d5d8"/>
<rect x="45.1" y="35.4" width="2.8" height="2.3" fill="#d3d5d8"/>
<rect x="48.8" y="35.4" width="2.8" height="2.3" fill="#d3d5d8"/>
<rect x="52.5" y="35.4" width="2.8" height="2.3" fill="#d3d5d8"/>
<rect x="56.3" y="35.4" width="2.8" height="2.3" fill="#d3d5d8"/>
<rect x="60.0" y="35.4" width="2.8" height="2.3" fill="#d3d5d8"/>
<rect x="63.8" y="35.4" width="2.8" height="2.3" fill="#d3d5d8"/>
<rect x="40.9" y="38.9" width="2.8" height="2.3" fill="#d3d5d8"/>
<rect x="44.6" y="38.9" width="2.8" height="2.3" fill="#d3d5d8"/>
<rect x="48.3" y="38.9" width="2.8" height="2.3" fill="#d3d5d8"/>
<rect x="52.1" y="38.9" width="2.8" height="2.3" fill="#d3d5d8"/>
<rect x="55.8" y="38.9" width="2.8" height="2.3" fill="#d3d5d8"/>
<rect x="59.5" y="38.9" width="2.8" height="2.3" fill="#d3d5d8"/>
<rect x="63.3" y="38.9" width="2.8" height="2.3" fill="#d3d5d8"/>
<polygon points="35.6,41.8 69.2,40.1 69.2,46.5 34.4,47.7" fill="#c9cbce"/>
<polygon points="42.6,48.2 59.0,49.4 61.3,55.8 41.4,55.8" fill="#232323"/>
<circle cx="47.9" cy="54.1" r="1.3" fill="#e0303a"/>
<rect x="56.0" y="49.4" width="4" height="4" fill="#3d6aa8"/>
<polygon points="56.6,67.5 67.1,64.6 69.2,69.8 69.2,75.7 59.0,78.0 56.0,74.5" fill="#b8323a"/>
<polygon points="59.5,68.1 66.0,66.3 66.6,69.8 60.1,71.6" fill="#d8d2d2"/>
<path d="M56.6,57.0 Q42.6,65.2 45.0,74.5 T61.3,81.5" fill="none" stroke="#7a2a2a" stroke-width="0.6"/>
<path d="M61.3,58.2 Q69.2,60.5 69.2,67.5" fill="none" stroke="#cfd0d2" stroke-width="0.5"/>
<path d="M22.8,74.5 Q40.3,76.9 61.3,81.5" fill="none" stroke="#3a3a3a" stroke-width="0.5"/>
<path d="M26.3,62.8 Q37.9,69.8 50.8,81.5" fill="none" stroke="#444" stroke-width="0.5"/>
<path d="M16.9,19.6 Q15.8,23.1 25.1,22.0" fill="none" stroke="#1a1a1a" stroke-width="0.9"/>
<polygon points="-0.0,60.5 8.7,54.7 16.9,48.8 23.9,44.2 26.5,39.5 34.4,43.0 30.9,48.2 25.1,58.2 21.0,69.8 18.7,83.6 -0.0,83.6" fill="#ab836c"/>
<polygon points="-0.0,69.8 9.9,64.0 19.3,60.5 21.0,69.8 18.7,83.6 -0.0,83.6" fill="#a07862"/>
<polygon points="23.9,22.5 47.3,21.4 48.7,30.1 43.2,38.3 35.0,43.0 26.5,41.2 23.5,32.5" fill="#bb937d"/>
<line x1="27.2" y1="24.3" x2="29.5" y2="11.5" stroke="#bb937d" stroke-width="4.2" stroke-linecap="round"/>
<line x1="34.4" y1="22.5" x2="36.8" y2="7.7" stroke="#bb937d" stroke-width="4.2" stroke-linecap="round"/>
<line x1="40.5" y1="23.1" x2="42.1" y2="9.1" stroke="#bb937d" stroke-width="4.2" stroke-linecap="round"/>
<line x1="45.5" y1="24.9" x2="47.3" y2="13.8" stroke="#bb937d" stroke-width="4.2" stroke-linecap="round"/>
<line x1="47.9" y1="33.6" x2="50.8" y2="25.5" stroke="#bb937d" stroke-width="4" stroke-linecap="round"/>
<polygon points="28.6,30.1 34.4,26.0 42.6,24.9 46.1,28.4 42.6,34.8 35.6,39.5 29.8,38.3" fill="#c29a84"/>
<path d="M29.2,47.1 Q29.8,44.7 32.1,45.9 L36.8,52.3 L30.9,50.0 Z" fill="#c8252c"/>
<path d="M17.5,58.2 Q18.7,55.2 21.6,57.0 L26.5,64.0 L19.3,61.1 Z" fill="#1f7a4a"/>
<path d="M13.4,69.3 Q14.6,66.3 18.1,68.1 L23.0,76.3 L15.2,72.8 Z" fill="#c8b01e"/>
</g></g>
<clipPath id="ca2"><rect x="0" y="0" width="69.2" height="83.6"/></clipPath>
<g transform="translate(151.2,18.9) scale(0.9668,1.0000)" clip-path="url(#ca2)"><g filter="url(#soft)">
<rect x="0" y="0" width="69.2" height="83.6" fill="#7c8088"/>
<polygon points="30.9,44.2 69.2,44.2 69.2,83.6 25.1,83.6" fill="#878b92"/>
<polygon points="-0.0,0.0 69.2,0.0 69.2,5.6 23.9,7.9 22.8,18.5 14.6,20.2 -0.0,22.5" fill="#484b50"/>
<polygon points="2.9,2.1 13.4,1.5 15.8,11.5 9.9,19.6 2.9,22.0" fill="#63676d"/>
<rect x="0.6" y="16.1" width="4" height="3" fill="#3f6a8a"/>
<rect x="0.6" y="24.3" width="4" height="4" fill="#8a2d3a"/>
<polygon points="23.9,7.4 69.2,2.1 69.2,14.4 25.1,15.5" fill="#a9a9a7"/>
<polygon points="34.4,6.2 69.2,3.3 69.2,11.5 34.4,12.6" fill="#b6b3ab"/>
<ellipse cx="50.8" cy="7.4" rx="2.2" ry="1.2" fill="#8a6a45"/>
<ellipse cx="60.1" cy="7.9" rx="2.2" ry="1.2" fill="#8a6a45"/>
<ellipse cx="66.0" cy="6.2" rx="2.2" ry="1.2" fill="#8a6a45"/>
<ellipse cx="45.0" cy="9.7" rx="2.2" ry="1.2" fill="#8a6a45"/>
<ellipse cx="56.6" cy="10.3" rx="2.2" ry="1.2" fill="#8a6a45"/>
<ellipse cx="64.8" cy="10.3" rx="2.2" ry="1.2" fill="#8a6a45"/>
<polygon points="22.8,14.4 69.2,12.6 69.2,20.2 30.9,19.0 22.8,19.6" fill="#202124"/>
<polygon points="40.3,19.0 69.2,19.0 69.2,44.2 37.9,46.5 35.6,41.8" fill="#b9bcc1"/>
<rect x="43.2" y="21.4" width="2.8" height="2.3" fill="#d3d5d8"/>
<rect x="46.9" y="21.4" width="2.8" height="2.3" fill="#d3d5d8"/>
<rect x="50.7" y="21.4" width="2.8" height="2.3" fill="#d3d5d8"/>
<rect x="54.4" y="21.4" width="2.8" height="2.3" fill="#d3d5d8"/>
<rect x="58.1" y="21.4" width="2.8" height="2.3" fill="#d3d5d8"/>
<rect x="61.9" y="21.4" width="2.8" height="2.3" fill="#d3d5d8"/>
<rect x="65.6" y="21.4" width="2.8" height="2.3" fill="#d3d5d8"/>
<rect x="42.7" y="24.9" width="2.8" height="2.3" fill="#d3d5d8"/>
<rect x="46.5" y="24.9" width="2.8" height="2.3" fill="#d3d5d8"/>
<rect x="50.2" y="24.9" width="2.8" height="2.3" fill="#d3d5d8"/>
<rect x="53.9" y="24.9" width="2.8" height="2.3" fill="#d3d5d8"/>
<rect x="57.7" y="24.9" width="2.8" height="2.3" fill="#d3d5d8"/>
<rect x="61.4" y="24.9" width="2.8" height="2.3" fill="#d3d5d8"/>
<rect x="65.2" y="24.9" width="2.8" height="2.3" fill="#d3d5d8"/>
<rect x="42.3" y="28.4" width="2.8" height="2.3" fill="#d3d5d8"/>
<rect x="46.0" y="28.4" width="2.8" height="2.3" fill="#d3d5d8"/>
<rect x="49.7" y="28.4" width="2.8" height="2.3" fill="#d3d5d8"/>
<rect x="53.5" y="28.4" width="2.8" height="2.3" fill="#d3d5d8"/>
<rect x="57.2" y="28.4" width="2.8" height="2.3" fill="#d3d5d8"/>
<rect x="61.0" y="28.4" width="2.8" height="2.3" fill="#d3d5d8"/>
<rect x="64.7" y="28.4" width="2.8" height="2.3" fill="#d3d5d8"/>
<rect x="41.8" y="31.9" width="2.8" height="2.3" fill="#d3d5d8"/>
<rect x="45.5" y="31.9" width="2.8" height="2.3" fill="#d3d5d8"/>
<rect x="49.3" y="31.9" width="2.8" height="2.3" fill="#d3d5d8"/>
<rect x="53.0" y="31.9" width="2.8" height="2.3" fill="#d3d5d8"/>
<rect x="56.7" y="31.9" width="2.8" height="2.3" fill="#d3d5d8"/>
<rect x="60.5" y="31.9" width="2.8" height="2.3" fill="#d3d5d8"/>
<rect x="64.2" y="31.9" width="2.8" height="2.3" fill="#d3d5d8"/>
<rect x="41.3" y="35.4" width="2.8" height="2.3" fill="#d3d5d8"/>
<rect x="45.1" y="35.4" width="2.8" height="2.3" fill="#d3d5d8"/>
<rect x="48.8" y="35.4" width="2.8" height="2.3" fill="#d3d5d8"/>
<rect x="52.5" y="35.4" width="2.8" height="2.3" fill="#d3d5d8"/>
<rect x="56.3" y="35.4" width="2.8" height="2.3" fill="#d3d5d8"/>
<rect x="60.0" y="35.4" width="2.8" height="2.3" fill="#d3d5d8"/>
<rect x="63.8" y="35.4" width="2.8" height="2.3" fill="#d3d5d8"/>
<rect x="40.9" y="38.9" width="2.8" height="2.3" fill="#d3d5d8"/>
<rect x="44.6" y="38.9" width="2.8" height="2.3" fill="#d3d5d8"/>
<rect x="48.3" y="38.9" width="2.8" height="2.3" fill="#d3d5d8"/>
<rect x="52.1" y="38.9" width="2.8" height="2.3" fill="#d3d5d8"/>
<rect x="55.8" y="38.9" width="2.8" height="2.3" fill="#d3d5d8"/>
<rect x="59.5" y="38.9" width="2.8" height="2.3" fill="#d3d5d8"/>
<rect x="63.3" y="38.9" width="2.8" height="2.3" fill="#d3d5d8"/>
<polygon points="35.6,41.8 69.2,40.1 69.2,46.5 34.4,47.7" fill="#c9cbce"/>
<polygon points="42.6,48.2 59.0,49.4 61.3,55.8 41.4,55.8" fill="#232323"/>
<circle cx="47.9" cy="54.1" r="1.3" fill="#e0303a"/>
<rect x="56.0" y="49.4" width="4" height="4" fill="#3d6aa8"/>
<polygon points="56.6,67.5 67.1,64.6 69.2,69.8 69.2,75.7 59.0,78.0 56.0,74.5" fill="#b8323a"/>
<polygon points="59.5,68.1 66.0,66.3 66.6,69.8 60.1,71.6" fill="#d8d2d2"/>
<path d="M56.6,57.0 Q42.6,65.2 45.0,74.5 T61.3,81.5" fill="none" stroke="#7a2a2a" stroke-width="0.6"/>
<path d="M61.3,58.2 Q69.2,60.5 69.2,67.5" fill="none" stroke="#cfd0d2" stroke-width="0.5"/>
<path d="M22.8,74.5 Q40.3,76.9 61.3,81.5" fill="none" stroke="#3a3a3a" stroke-width="0.5"/>
<path d="M26.3,62.8 Q37.9,69.8 50.8,81.5" fill="none" stroke="#444" stroke-width="0.5"/>
<path d="M16.9,19.6 Q15.8,23.1 25.1,22.0" fill="none" stroke="#1a1a1a" stroke-width="0.9"/>
<polygon points="-0.0,60.5 8.7,54.7 16.9,48.8 23.9,44.2 26.5,39.5 34.4,43.0 30.9,48.2 25.1,58.2 21.0,69.8 18.7,83.6 -0.0,83.6" fill="#ab836c"/>
<polygon points="-0.0,69.8 9.9,64.0 19.3,60.5 21.0,69.8 18.7,83.6 -0.0,83.6" fill="#a07862"/>
<polygon points="26.5,41.2 23.9,33.6 22.2,25.5 22.8,20.2 26.3,16.7 33.3,15.9 39.1,17.3 41.7,22.0 42.0,29.0 40.9,34.8 36.8,40.1 33.3,42.4" fill="#b48c78"/>
<polygon points="23.9,20.2 30.9,18.5 35.6,20.2 35.0,24.3 29.8,25.7 24.5,24.3" fill="#8e6a58"/>
<path d="M30.9,25.7 L36.2,30.1 M29.8,30.1 L36.2,34.8" stroke="#6e5040" stroke-width="0.5"/>
<ellipse cx="47.3" cy="44.2" rx="9" ry="2.2" fill="#5fe07a" opacity="0.8"/>
<circle cx="47.3" cy="49.1" r="1.6" fill="#6cf08a"/>
<path d="M29.2,47.1 Q29.8,44.7 32.1,45.9 L36.8,52.3 L30.9,50.0 Z" fill="#c8252c"/>
<path d="M17.5,58.2 Q18.7,55.2 21.6,57.0 L26.5,64.0 L19.3,61.1 Z" fill="#1f7a4a"/>
<path d="M13.4,69.3 Q14.6,66.3 18.1,68.1 L23.0,76.3 L15.2,72.8 Z" fill="#c8b01e"/>
</g></g>
<clipPath id="ca3"><rect x="0" y="0" width="69.2" height="83.6"/></clipPath>
<g transform="translate(247.3,18.9) scale(0.9364,1.0000)" clip-path="url(#ca3)"><g filter="url(#soft)">
<rect x="0" y="0" width="69.2" height="83.6" fill="#7c8088"/>
<polygon points="30.9,44.2 69.2,44.2 69.2,83.6 25.1,83.6" fill="#878b92"/>
<polygon points="-0.0,0.0 69.2,0.0 69.2,5.6 23.9,7.9 22.8,18.5 14.6,20.2 -0.0,22.5" fill="#484b50"/>
<polygon points="2.9,2.1 13.4,1.5 15.8,11.5 9.9,19.6 2.9,22.0" fill="#63676d"/>
<rect x="0.6" y="16.1" width="4" height="3" fill="#3f6a8a"/>
<rect x="0.6" y="24.3" width="4" height="4" fill="#8a2d3a"/>
<polygon points="23.9,7.4 69.2,2.1 69.2,14.4 25.1,15.5" fill="#a9a9a7"/>
<polygon points="34.4,6.2 69.2,3.3 69.2,11.5 34.4,12.6" fill="#b6b3ab"/>
<ellipse cx="50.8" cy="7.4" rx="2.2" ry="1.2" fill="#8a6a45"/>
<ellipse cx="60.1" cy="7.9" rx="2.2" ry="1.2" fill="#8a6a45"/>
<ellipse cx="66.0" cy="6.2" rx="2.2" ry="1.2" fill="#8a6a45"/>
<ellipse cx="45.0" cy="9.7" rx="2.2" ry="1.2" fill="#8a6a45"/>
<ellipse cx="56.6" cy="10.3" rx="2.2" ry="1.2" fill="#8a6a45"/>
<ellipse cx="64.8" cy="10.3" rx="2.2" ry="1.2" fill="#8a6a45"/>
<polygon points="22.8,14.4 69.2,12.6 69.2,20.2 30.9,19.0 22.8,19.6" fill="#202124"/>
<polygon points="40.3,19.0 69.2,19.0 69.2,44.2 37.9,46.5 35.6,41.8" fill="#b9bcc1"/>
<rect x="43.2" y="21.4" width="2.8" height="2.3" fill="#d3d5d8"/>
<rect x="46.9" y="21.4" width="2.8" height="2.3" fill="#d3d5d8"/>
<rect x="50.7" y="21.4" width="2.8" height="2.3" fill="#d3d5d8"/>
<rect x="54.4" y="21.4" width="2.8" height="2.3" fill="#d3d5d8"/>
<rect x="58.1" y="21.4" width="2.8" height="2.3" fill="#d3d5d8"/>
<rect x="61.9" y="21.4" width="2.8" height="2.3" fill="#d3d5d8"/>
<rect x="65.6" y="21.4" width="2.8" height="2.3" fill="#d3d5d8"/>
<rect x="42.7" y="24.9" width="2.8" height="2.3" fill="#d3d5d8"/>
<rect x="46.5" y="24.9" width="2.8" height="2.3" fill="#d3d5d8"/>
<rect x="50.2" y="24.9" width="2.8" height="2.3" fill="#d3d5d8"/>
<rect x="53.9" y="24.9" width="2.8" height="2.3" fill="#d3d5d8"/>
<rect x="57.7" y="24.9" width="2.8" height="2.3" fill="#d3d5d8"/>
<rect x="61.4" y="24.9" width="2.8" height="2.3" fill="#d3d5d8"/>
<rect x="65.2" y="24.9" width="2.8" height="2.3" fill="#d3d5d8"/>
<rect x="42.3" y="28.4" width="2.8" height="2.3" fill="#d3d5d8"/>
<rect x="46.0" y="28.4" width="2.8" height="2.3" fill="#d3d5d8"/>
<rect x="49.7" y="28.4" width="2.8" height="2.3" fill="#d3d5d8"/>
<rect x="53.5" y="28.4" width="2.8" height="2.3" fill="#d3d5d8"/>
<rect x="57.2" y="28.4" width="2.8" height="2.3" fill="#d3d5d8"/>
<rect x="61.0" y="28.4" width="2.8" height="2.3" fill="#d3d5d8"/>
<rect x="64.7" y="28.4" width="2.8" height="2.3" fill="#d3d5d8"/>
<rect x="41.8" y="31.9" width="2.8" height="2.3" fill="#d3d5d8"/>
<rect x="45.5" y="31.9" width="2.8" height="2.3" fill="#d3d5d8"/>
<rect x="49.3" y="31.9" width="2.8" height="2.3" fill="#d3d5d8"/>
<rect x="53.0" y="31.9" width="2.8" height="2.3" fill="#d3d5d8"/>
<rect x="56.7" y="31.9" width="2.8" height="2.3" fill="#d3d5d8"/>
<rect x="60.5" y="31.9" width="2.8" height="2.3" fill="#d3d5d8"/>
<rect x="64.2" y="31.9" width="2.8" height="2.3" fill="#d3d5d8"/>
<rect x="41.3" y="35.4" width="2.8" height="2.3" fill="#d3d5d8"/>
<rect x="45.1" y="35.4" width="2.8" height="2.3" fill="#d3d5d8"/>
<rect x="48.8" y="35.4" width="2.8" height="2.3" fill="#d3d5d8"/>
<rect x="52.5" y="35.4" width="2.8" height="2.3" fill="#d3d5d8"/>
<rect x="56.3" y="35.4" width="2.8" height="2.3" fill="#d3d5d8"/>
<rect x="60.0" y="35.4" width="2.8" height="2.3" fill="#d3d5d8"/>
<rect x="63.8" y="35.4" width="2.8" height="2.3" fill="#d3d5d8"/>
<rect x="40.9" y="38.9" width="2.8" height="2.3" fill="#d3d5d8"/>
<rect x="44.6" y="38.9" width="2.8" height="2.3" fill="#d3d5d8"/>
<rect x="48.3" y="38.9" width="2.8" height="2.3" fill="#d3d5d8"/>
<rect x="52.1" y="38.9" width="2.8" height="2.3" fill="#d3d5d8"/>
<rect x="55.8" y="38.9" width="2.8" height="2.3" fill="#d3d5d8"/>
<rect x="59.5" y="38.9" width="2.8" height="2.3" fill="#d3d5d8"/>
<rect x="63.3" y="38.9" width="2.8" height="2.3" fill="#d3d5d8"/>
<polygon points="35.6,41.8 69.2,40.1 69.2,46.5 34.4,47.7" fill="#c9cbce"/>
<polygon points="42.6,48.2 59.0,49.4 61.3,55.8 41.4,55.8" fill="#232323"/>
<circle cx="47.9" cy="54.1" r="1.3" fill="#e0303a"/>
<rect x="56.0" y="49.4" width="4" height="4" fill="#3d6aa8"/>
<polygon points="56.6,67.5 67.1,64.6 69.2,69.8 69.2,75.7 59.0,78.0 56.0,74.5" fill="#b8323a"/>
<polygon points="59.5,68.1 66.0,66.3 66.6,69.8 60.1,71.6" fill="#d8d2d2"/>
<path d="M56.6,57.0 Q42.6,65.2 45.0,74.5 T61.3,81.5" fill="none" stroke="#7a2a2a" stroke-width="0.6"/>
<path d="M61.3,58.2 Q69.2,60.5 69.2,67.5" fill="none" stroke="#cfd0d2" stroke-width="0.5"/>
<path d="M22.8,74.5 Q40.3,76.9 61.3,81.5" fill="none" stroke="#3a3a3a" stroke-width="0.5"/>
<path d="M26.3,62.8 Q37.9,69.8 50.8,81.5" fill="none" stroke="#444" stroke-width="0.5"/>
<path d="M16.9,19.6 Q15.8,23.1 25.1,22.0" fill="none" stroke="#1a1a1a" stroke-width="0.9"/>
<polygon points="-0.0,60.5 8.7,54.7 16.9,48.8 23.9,44.2 26.5,39.5 34.4,43.0 30.9,48.2 25.1,58.2 21.0,69.8 18.7,83.6 -0.0,83.6" fill="#ab836c"/>
<polygon points="-0.0,69.8 9.9,64.0 19.3,60.5 21.0,69.8 18.7,83.6 -0.0,83.6" fill="#a07862"/>
<polygon points="23.9,22.5 47.3,21.4 48.7,30.1 43.2,38.3 35.0,43.0 26.5,41.2 23.5,32.5" fill="#bb937d"/>
<line x1="27.2" y1="24.3" x2="29.5" y2="11.5" stroke="#bb937d" stroke-width="4.2" stroke-linecap="round"/>
<line x1="34.4" y1="22.5" x2="36.8" y2="7.7" stroke="#bb937d" stroke-width="4.2" stroke-linecap="round"/>
<line x1="40.5" y1="23.1" x2="42.1" y2="9.1" stroke="#bb937d" stroke-width="4.2" stroke-linecap="round"/>
<line x1="45.5" y1="24.9" x2="47.3" y2="13.8" stroke="#bb937d" stroke-width="4.2" stroke-linecap="round"/>
<line x1="47.9" y1="33.6" x2="50.8" y2="25.5" stroke="#bb937d" stroke-width="4" stroke-linecap="round"/>
<polygon points="28.6,30.1 34.4,26.0 42.6,24.9 46.1,28.4 42.6,34.8 35.6,39.5 29.8,38.3" fill="#c29a84"/>
<path d="M29.2,47.1 Q29.8,44.7 32.1,45.9 L36.8,52.3 L30.9,50.0 Z" fill="#c8252c"/>
<path d="M17.5,58.2 Q18.7,55.2 21.6,57.0 L26.5,64.0 L19.3,61.1 Z" fill="#1f7a4a"/>
<path d="M13.4,69.3 Q14.6,66.3 18.1,68.1 L23.0,76.3 L15.2,72.8 Z" fill="#c8b01e"/>
</g></g>
<path d="M125.2,57.6 H141.3 V55.4 L147.5,60.6 L141.3,65.8 V63.6 H125.2 Z" fill="#70b847"/>
<text x="136.40" y="53.60" font-size="7" text-anchor="middle" font-weight="normal" fill="#000" >Tension</text>
<path d="M221.6,57.6 H237.8 V55.4 L244.0,60.6 L237.8,65.8 V63.6 H221.6 Z" fill="#70b847"/>
<text x="232.80" y="53.60" font-size="7" text-anchor="middle" font-weight="normal" fill="#000" >Relax</text>
<clipPath id="cb1"><rect x="0" y="0" width="69.1" height="89.3"/></clipPath>
<g transform="translate(408.6,16.1) scale(1.0014,1.0000)" clip-path="url(#cb1)"><g filter="url(#soft)">
<rect x="0" y="0" width="69.1" height="89.3" fill="#c2c2c0"/>
<polygon points="-0.0,34.4 30.3,34.4 28.0,89.3 -0.0,89.3" fill="#c6c6c4"/>
<polygon points="-0.0,-0.0 69.1,-0.0 69.1,13.4 9.3,20.4 -0.0,21.0" fill="#e6e2da"/>
<polygon points="33.8,-0.0 69.1,-0.0 69.1,2.3 33.8,1.7" fill="#2a2a2a"/>
<ellipse cx="43.0" cy="8.9" rx="1.9" ry="1.1" fill="#b0a080"/>
<ellipse cx="62.6" cy="2.0" rx="1.8" ry="0.8" fill="#a8c080"/>
<ellipse cx="5.7" cy="3.5" rx="1.5" ry="0.8" fill="#d8b070"/>
<ellipse cx="37.9" cy="7.4" rx="1.7" ry="0.9" fill="#c99a6a"/>
<ellipse cx="14.2" cy="11.4" rx="1.2" ry="1.2" fill="#a8c080"/>
<ellipse cx="11.4" cy="8.7" rx="1.1" ry="1.3" fill="#b98060"/>
<ellipse cx="2.7" cy="10.8" rx="1.9" ry="0.9" fill="#b98060"/>
<ellipse cx="65.2" cy="6.3" rx="1.6" ry="0.8" fill="#b0a080"/>
<ellipse cx="65.7" cy="3.4" rx="1.3" ry="0.9" fill="#a8c080"/>
<ellipse cx="13.2" cy="3.4" rx="1.3" ry="1.2" fill="#c99a6a"/>
<ellipse cx="40.6" cy="7.6" rx="1.3" ry="0.9" fill="#b0a080"/>
<ellipse cx="55.8" cy="6.1" rx="1.2" ry="1.0" fill="#d8b070"/>
<ellipse cx="13.8" cy="4.6" rx="1.9" ry="0.9" fill="#c99a6a"/>
<ellipse cx="28.7" cy="7.4" rx="1.4" ry="1.0" fill="#a8c080"/>
<ellipse cx="2.9" cy="2.3" rx="1.6" ry="1.3" fill="#b98060"/>
<ellipse cx="10.1" cy="4.5" rx="1.3" ry="0.9" fill="#a8c080"/>
<ellipse cx="36.6" cy="9.5" rx="1.6" ry="1.2" fill="#c99a6a"/>
<ellipse cx="26.3" cy="4.8" rx="1.9" ry="0.8" fill="#a8c080"/>
<ellipse cx="24.6" cy="8.2" rx="1.3" ry="1.3" fill="#b98060"/>
<ellipse cx="38.0" cy="4.8" rx="1.3" ry="1.2" fill="#d8b070"/>
<ellipse cx="43.3" cy="8.7" rx="2.0" ry="0.8" fill="#d8b070"/>
<ellipse cx="5.5" cy="13.1" rx="1.9" ry="0.7" fill="#d09080"/>
<ellipse cx="50.7" cy="4.9" rx="1.5" ry="1.0" fill="#d8b070"/>
<ellipse cx="6.0" cy="12.3" rx="1.8" ry="0.9" fill="#c99a6a"/>
<ellipse cx="15.8" cy="12.5" rx="1.9" ry="1.1" fill="#d09080"/>
<ellipse cx="53.8" cy="2.7" rx="1.4" ry="0.7" fill="#a8c080"/>
<ellipse cx="29.8" cy="3.2" rx="1.9" ry="1.3" fill="#d09080"/>
<ellipse cx="32.0" cy="6.7" rx="1.3" ry="0.9" fill="#b0a080"/>
<ellipse cx="33.1" cy="10.9" rx="1.4" ry="1.3" fill="#c99a6a"/>
<ellipse cx="65.1" cy="7.1" rx="1.9" ry="0.8" fill="#a8c080"/>
<ellipse cx="34.5" cy="6.9" rx="1.9" ry="0.9" fill="#d09080"/>
<ellipse cx="53.7" cy="8.8" rx="1.6" ry="0.7" fill="#b0a080"/>
<ellipse cx="22.3" cy="7.7" rx="1.3" ry="1.0" fill="#b0a080"/>
<ellipse cx="52.6" cy="8.1" rx="2.0" ry="0.9" fill="#d8b070"/>
<ellipse cx="14.0" cy="11.2" rx="1.5" ry="0.9" fill="#a8c080"/>
<ellipse cx="46.2" cy="6.1" rx="1.6" ry="1.2" fill="#d09080"/>
<ellipse cx="25.1" cy="8.5" rx="1.9" ry="0.9" fill="#b0a080"/>
<ellipse cx="62.6" cy="3.2" rx="1.4" ry="0.9" fill="#b0a080"/>
<polygon points="-0.0,19.3 69.1,13.4 69.1,27.4 10.5,35.0 -0.0,35.6" fill="#ececea"/>
<rect x="11.7" y="21.0" width="2.6" height="2.2" fill="#b9b9b9"/>
<rect x="15.5" y="20.6" width="2.6" height="2.2" fill="#b9b9b9"/>
<rect x="19.4" y="20.2" width="2.6" height="2.2" fill="#b9b9b9"/>
<rect x="23.2" y="19.9" width="2.6" height="2.2" fill="#b9b9b9"/>
<rect x="27.1" y="19.5" width="2.6" height="2.2" fill="#b9b9b9"/>
<rect x="30.9" y="19.1" width="2.6" height="2.2" fill="#b9b9b9"/>
<rect x="34.8" y="18.7" width="2.6" height="2.2" fill="#b9b9b9"/>
<rect x="38.6" y="18.3" width="2.6" height="2.2" fill="#b9b9b9"/>
<rect x="42.5" y="17.9" width="2.6" height="2.2" fill="#b9b9b9"/>
<rect x="46.3" y="17.5" width="2.6" height="2.2" fill="#b9b9b9"/>
<rect x="50.2" y="17.2" width="2.6" height="2.2" fill="#b9b9b9"/>
<rect x="54.0" y="16.8" width="2.6" height="2.2" fill="#b9b9b9"/>
<rect x="57.9" y="16.4" width="2.6" height="2.2" fill="#b9b9b9"/>
<rect x="61.8" y="16.0" width="2.6" height="2.2" fill="#b9b9b9"/>
<rect x="65.6" y="15.6" width="2.6" height="2.2" fill="#b9b9b9"/>
<rect x="11.7" y="24.3" width="2.6" height="2.2" fill="#b9b9b9"/>
<rect x="15.5" y="23.9" width="2.6" height="2.2" fill="#b9b9b9"/>
<rect x="19.4" y="23.5" width="2.6" height="2.2" fill="#b9b9b9"/>
<rect x="23.2" y="23.1" width="2.6" height="2.2" fill="#b9b9b9"/>
<rect x="27.1" y="22.7" width="2.6" height="2.2" fill="#b9b9b9"/>
<rect x="30.9" y="22.4" width="2.6" height="2.2" fill="#b9b9b9"/>
<rect x="34.8" y="22.0" width="2.6" height="2.2" fill="#b9b9b9"/>
<rect x="38.6" y="21.6" width="2.6" height="2.2" fill="#b9b9b9"/>
<rect x="42.5" y="21.2" width="2.6" height="2.2" fill="#b9b9b9"/>
<rect x="46.3" y="20.8" width="2.6" height="2.2" fill="#b9b9b9"/>
<rect x="50.2" y="20.4" width="2.6" height="2.2" fill="#b9b9b9"/>
<rect x="54.0" y="20.0" width="2.6" height="2.2" fill="#b9b9b9"/>
<rect x="57.9" y="19.7" width="2.6" height="2.2" fill="#b9b9b9"/>
<rect x="61.8" y="19.3" width="2.6" height="2.2" fill="#b9b9b9"/>
<rect x="65.6" y="18.9" width="2.6" height="2.2" fill="#b9b9b9"/>
<rect x="11.7" y="27.5" width="2.6" height="2.2" fill="#b9b9b9"/>
<rect x="15.5" y="27.2" width="2.6" height="2.2" fill="#b9b9b9"/>
<rect x="19.4" y="26.8" width="2.6" height="2.2" fill="#b9b9b9"/>
<rect x="23.2" y="26.4" width="2.6" height="2.2" fill="#b9b9b9"/>
<rect x="27.1" y="26.0" width="2.6" height="2.2" fill="#b9b9b9"/>
<rect x="30.9" y="25.6" width="2.6" height="2.2" fill="#b9b9b9"/>
<rect x="34.8" y="25.2" width="2.6" height="2.2" fill="#b9b9b9"/>
<rect x="38.6" y="24.9" width="2.6" height="2.2" fill="#b9b9b9"/>
<rect x="42.5" y="24.5" width="2.6" height="2.2" fill="#b9b9b9"/>
<rect x="46.3" y="24.1" width="2.6" height="2.2" fill="#b9b9b9"/>
<rect x="50.2" y="23.7" width="2.6" height="2.2" fill="#b9b9b9"/>
<rect x="54.0" y="23.3" width="2.6" height="2.2" fill="#b9b9b9"/>
<rect x="57.9" y="22.9" width="2.6" height="2.2" fill="#b9b9b9"/>
<rect x="61.8" y="22.5" width="2.6" height="2.2" fill="#b9b9b9"/>
<rect x="65.6" y="22.2" width="2.6" height="2.2" fill="#b9b9b9"/>
<rect x="11.7" y="30.8" width="2.6" height="2.2" fill="#b9b9b9"/>
<rect x="15.5" y="30.4" width="2.6" height="2.2" fill="#b9b9b9"/>
<rect x="19.4" y="30.0" width="2.6" height="2.2" fill="#b9b9b9"/>
<rect x="23.2" y="29.7" width="2.6" height="2.2" fill="#b9b9b9"/>
<rect x="27.1" y="29.3" width="2.6" height="2.2" fill="#b9b9b9"/>
<rect x="30.9" y="28.9" width="2.6" height="2.2" fill="#b9b9b9"/>
<rect x="34.8" y="28.5" width="2.6" height="2.2" fill="#b9b9b9"/>
<rect x="38.6" y="28.1" width="2.6" height="2.2" fill="#b9b9b9"/>
<rect x="42.5" y="27.7" width="2.6" height="2.2" fill="#b9b9b9"/>
<rect x="46.3" y="27.4" width="2.6" height="2.2" fill="#b9b9b9"/>
<rect x="50.2" y="27.0" width="2.6" height="2.2" fill="#b9b9b9"/>
<rect x="54.0" y="26.6" width="2.6" height="2.2" fill="#b9b9b9"/>
<rect x="57.9" y="26.2" width="2.6" height="2.2" fill="#b9b9b9"/>
<rect x="61.8" y="25.8" width="2.6" height="2.2" fill="#b9b9b9"/>
<rect x="65.6" y="25.4" width="2.6" height="2.2" fill="#b9b9b9"/>
<path d="M5.8,17.5 L33.8,3.5" stroke="#1c1c1c" stroke-width="2.2" stroke-linecap="round"/>
<path d="M2.3,26.3 Q7.0,30.9 0.6,34.4" fill="none" stroke="#1c1c1c" stroke-width="0.8"/>
<path d="M51.4,36.8 Q57.2,45.0 52.5,54.3 T53.7,68.3 Q65.4,52.0 69.1,56.6" fill="none" stroke="#7d7d7d" stroke-width="0.5"/>
<path d="M44.4,80.0 Q56.0,82.3 60.7,89.3" fill="none" stroke="#8a8a8a" stroke-width="0.5"/>
<path d="M58.4,89.3 Q60.7,70.6 69.1,73.0" fill="none" stroke="#7a7a7a" stroke-width="0.5"/>
<polygon points="18.7,89.3 22.2,70.6 25.9,52.0 28.6,36.2 41.4,36.2 43.2,52.0 44.9,70.6 46.7,89.3" fill="#dba892"/>
<polygon points="39.7,89.3 41.4,70.6 39.7,52.0 42.6,52.0 44.9,70.6 46.7,89.3" fill="#d19c86"/>
<polygon points="28.6,36.8 26.8,30.9 22.7,23.9 16.9,14.6 16.3,12.3 18.7,11.7 25.1,19.3 25.9,2.9 27.1,1.2 28.9,1.7 29.8,13.4 31.7,0.6 33.3,-0.0 34.8,1.2 35.0,13.4 36.4,4.1 37.9,2.9 39.4,4.1 38.7,15.8 41.4,8.7 42.9,8.7 43.2,11.1 42.0,25.1 41.4,36.8" fill="#e0b09a"/>
<circle cx="33.8" cy="40.3" r="5.8" fill="#f3f4f4"/>
<circle cx="33.8" cy="40.3" r="4.6" fill="#dde6ea"/>
<line x1="26.9" y1="36.8" x2="32.9" y2="43.8" stroke="#f6f8f8" stroke-width="0.4"/>
<line x1="28.2" y1="36.8" x2="34.2" y2="43.8" stroke="#f6f8f8" stroke-width="0.4"/>
<line x1="29.5" y1="36.8" x2="35.5" y2="43.8" stroke="#f6f8f8" stroke-width="0.4"/>
<line x1="30.8" y1="36.8" x2="36.8" y2="43.8" stroke="#f6f8f8" stroke-width="0.4"/>
<line x1="32.1" y1="36.8" x2="38.1" y2="43.8" stroke="#f6f8f8" stroke-width="0.4"/>
<line x1="33.4" y1="36.8" x2="39.4" y2="43.8" stroke="#f6f8f8" stroke-width="0.4"/>
<line x1="34.7" y1="36.8" x2="40.7" y2="43.8" stroke="#f6f8f8" stroke-width="0.4"/>
<circle cx="33.3" cy="63.6" r="6.8" fill="#f3f4f4"/>
<circle cx="33.3" cy="63.6" r="5.3" fill="#dde6ea"/>
<line x1="26.4" y1="60.1" x2="32.4" y2="67.1" stroke="#f6f8f8" stroke-width="0.4"/>
<line x1="27.7" y1="60.1" x2="33.7" y2="67.1" stroke="#f6f8f8" stroke-width="0.4"/>
<line x1="29.0" y1="60.1" x2="35.0" y2="67.1" stroke="#f6f8f8" stroke-width="0.4"/>
<line x1="30.3" y1="60.1" x2="36.3" y2="67.1" stroke="#f6f8f8" stroke-width="0.4"/>
<line x1="31.6" y1="60.1" x2="37.6" y2="67.1" stroke="#f6f8f8" stroke-width="0.4"/>
<line x1="32.9" y1="60.1" x2="38.9" y2="67.1" stroke="#f6f8f8" stroke-width="0.4"/>
<line x1="34.2" y1="60.1" x2="40.2" y2="67.1" stroke="#f6f8f8" stroke-width="0.4"/>
<circle cx="30.9" cy="79.4" r="7.4" fill="#f3f4f4"/>
<circle cx="30.9" cy="79.4" r="5.7" fill="#dde6ea"/>
<line x1="24.0" y1="75.9" x2="30.0" y2="82.9" stroke="#f6f8f8" stroke-width="0.4"/>
<line x1="25.3" y1="75.9" x2="31.3" y2="82.9" stroke="#f6f8f8" stroke-width="0.4"/>
<line x1="26.6" y1="75.9" x2="32.6" y2="82.9" stroke="#f6f8f8" stroke-width="0.4"/>
<line x1="27.9" y1="75.9" x2="33.9" y2="82.9" stroke="#f6f8f8" stroke-width="0.4"/>
<line x1="29.2" y1="75.9" x2="35.2" y2="82.9" stroke="#f6f8f8" stroke-width="0.4"/>
<line x1="30.5" y1="75.9" x2="36.5" y2="82.9" stroke="#f6f8f8" stroke-width="0.4"/>
<line x1="31.8" y1="75.9" x2="37.8" y2="82.9" stroke="#f6f8f8" stroke-width="0.4"/>
<path d="M34.4,36.8 Q31.5,39.3 34.4,41.9 L40.3,37.1 L40.3,36.4 Z" fill="#d22a2a"/>
<path d="M33.8,60.5 Q30.9,63.1 33.8,65.6 L42.0,63.8 L42.0,63.1 Z" fill="#138a4a"/>
<path d="M30.9,76.3 Q28.0,78.8 30.9,81.4 L40.3,80.1 L40.3,79.4 Z" fill="#d8b818"/>
</g></g>
<clipPath id="cb2"><rect x="0" y="0" width="69.1" height="89.3"/></clipPath>
<g transform="translate(507.2,16.1) scale(0.9653,1.0011)" clip-path="url(#cb2)"><g filter="url(#soft)">
<rect x="0" y="0" width="69.1" height="89.3" fill="#c2c2c0"/>
<polygon points="-0.0,34.4 30.3,34.4 28.0,89.3 -0.0,89.3" fill="#c6c6c4"/>
<polygon points="-0.0,-0.0 69.1,-0.0 69.1,13.4 9.3,20.4 -0.0,21.0" fill="#e6e2da"/>
<polygon points="33.8,-0.0 69.1,-0.0 69.1,2.3 33.8,1.7" fill="#2a2a2a"/>
<ellipse cx="43.0" cy="8.9" rx="1.9" ry="1.1" fill="#b0a080"/>
<ellipse cx="62.6" cy="2.0" rx="1.8" ry="0.8" fill="#a8c080"/>
<ellipse cx="5.7" cy="3.5" rx="1.5" ry="0.8" fill="#d8b070"/>
<ellipse cx="37.9" cy="7.4" rx="1.7" ry="0.9" fill="#c99a6a"/>
<ellipse cx="14.2" cy="11.4" rx="1.2" ry="1.2" fill="#a8c080"/>
<ellipse cx="11.4" cy="8.7" rx="1.1" ry="1.3" fill="#b98060"/>
<ellipse cx="2.7" cy="10.8" rx="1.9" ry="0.9" fill="#b98060"/>
<ellipse cx="65.2" cy="6.3" rx="1.6" ry="0.8" fill="#b0a080"/>
<ellipse cx="65.7" cy="3.4" rx="1.3" ry="0.9" fill="#a8c080"/>
<ellipse cx="13.2" cy="3.4" rx="1.3" ry="1.2" fill="#c99a6a"/>
<ellipse cx="40.6" cy="7.6" rx="1.3" ry="0.9" fill="#b0a080"/>
<ellipse cx="55.8" cy="6.1" rx="1.2" ry="1.0" fill="#d8b070"/>
<ellipse cx="13.8" cy="4.6" rx="1.9" ry="0.9" fill="#c99a6a"/>
<ellipse cx="28.7" cy="7.4" rx="1.4" ry="1.0" fill="#a8c080"/>
<ellipse cx="2.9" cy="2.3" rx="1.6" ry="1.3" fill="#b98060"/>
<ellipse cx="10.1" cy="4.5" rx="1.3" ry="0.9" fill="#a8c080"/>
<ellipse cx="36.6" cy="9.5" rx="1.6" ry="1.2" fill="#c99a6a"/>
<ellipse cx="26.3" cy="4.8" rx="1.9" ry="0.8" fill="#a8c080"/>
<ellipse cx="24.6" cy="8.2" rx="1.3" ry="1.3" fill="#b98060"/>
<ellipse cx="38.0" cy="4.8" rx="1.3" ry="1.2" fill="#d8b070"/>
<ellipse cx="43.3" cy="8.7" rx="2.0" ry="0.8" fill="#d8b070"/>
<ellipse cx="5.5" cy="13.1" rx="1.9" ry="0.7" fill="#d09080"/>
<ellipse cx="50.7" cy="4.9" rx="1.5" ry="1.0" fill="#d8b070"/>
<ellipse cx="6.0" cy="12.3" rx="1.8" ry="0.9" fill="#c99a6a"/>
<ellipse cx="15.8" cy="12.5" rx="1.9" ry="1.1" fill="#d09080"/>
<ellipse cx="53.8" cy="2.7" rx="1.4" ry="0.7" fill="#a8c080"/>
<ellipse cx="29.8" cy="3.2" rx="1.9" ry="1.3" fill="#d09080"/>
<ellipse cx="32.0" cy="6.7" rx="1.3" ry="0.9" fill="#b0a080"/>
<ellipse cx="33.1" cy="10.9" rx="1.4" ry="1.3" fill="#c99a6a"/>
<ellipse cx="65.1" cy="7.1" rx="1.9" ry="0.8" fill="#a8c080"/>
<ellipse cx="34.5" cy="6.9" rx="1.9" ry="0.9" fill="#d09080"/>
<ellipse cx="53.7" cy="8.8" rx="1.6" ry="0.7" fill="#b0a080"/>
<ellipse cx="22.3" cy="7.7" rx="1.3" ry="1.0" fill="#b0a080"/>
<ellipse cx="52.6" cy="8.1" rx="2.0" ry="0.9" fill="#d8b070"/>
<ellipse cx="14.0" cy="11.2" rx="1.5" ry="0.9" fill="#a8c080"/>
<ellipse cx="46.2" cy="6.1" rx="1.6" ry="1.2" fill="#d09080"/>
<ellipse cx="25.1" cy="8.5" rx="1.9" ry="0.9" fill="#b0a080"/>
<ellipse cx="62.6" cy="3.2" rx="1.4" ry="0.9" fill="#b0a080"/>
<polygon points="-0.0,19.3 69.1,13.4 69.1,27.4 10.5,35.0 -0.0,35.6" fill="#ececea"/>
<rect x="11.7" y="21.0" width="2.6" height="2.2" fill="#b9b9b9"/>
<rect x="15.5" y="20.6" width="2.6" height="2.2" fill="#b9b9b9"/>
<rect x="19.4" y="20.2" width="2.6" height="2.2" fill="#b9b9b9"/>
<rect x="23.2" y="19.9" width="2.6" height="2.2" fill="#b9b9b9"/>
<rect x="27.1" y="19.5" width="2.6" height="2.2" fill="#b9b9b9"/>
<rect x="30.9" y="19.1" width="2.6" height="2.2" fill="#b9b9b9"/>
<rect x="34.8" y="18.7" width="2.6" height="2.2" fill="#b9b9b9"/>
<rect x="38.6" y="18.3" width="2.6" height="2.2" fill="#b9b9b9"/>
<rect x="42.5" y="17.9" width="2.6" height="2.2" fill="#b9b9b9"/>
<rect x="46.3" y="17.5" width="2.6" height="2.2" fill="#b9b9b9"/>
<rect x="50.2" y="17.2" width="2.6" height="2.2" fill="#b9b9b9"/>
<rect x="54.0" y="16.8" width="2.6" height="2.2" fill="#b9b9b9"/>
<rect x="57.9" y="16.4" width="2.6" height="2.2" fill="#b9b9b9"/>
<rect x="61.8" y="16.0" width="2.6" height="2.2" fill="#b9b9b9"/>
<rect x="65.6" y="15.6" width="2.6" height="2.2" fill="#b9b9b9"/>
<rect x="11.7" y="24.3" width="2.6" height="2.2" fill="#b9b9b9"/>
<rect x="15.5" y="23.9" width="2.6" height="2.2" fill="#b9b9b9"/>
<rect x="19.4" y="23.5" width="2.6" height="2.2" fill="#b9b9b9"/>
<rect x="23.2" y="23.1" width="2.6" height="2.2" fill="#b9b9b9"/>
<rect x="27.1" y="22.7" width="2.6" height="2.2" fill="#b9b9b9"/>
<rect x="30.9" y="22.4" width="2.6" height="2.2" fill="#b9b9b9"/>
<rect x="34.8" y="22.0" width="2.6" height="2.2" fill="#b9b9b9"/>
<rect x="38.6" y="21.6" width="2.6" height="2.2" fill="#b9b9b9"/>
<rect x="42.5" y="21.2" width="2.6" height="2.2" fill="#b9b9b9"/>
<rect x="46.3" y="20.8" width="2.6" height="2.2" fill="#b9b9b9"/>
<rect x="50.2" y="20.4" width="2.6" height="2.2" fill="#b9b9b9"/>
<rect x="54.0" y="20.0" width="2.6" height="2.2" fill="#b9b9b9"/>
<rect x="57.9" y="19.7" width="2.6" height="2.2" fill="#b9b9b9"/>
<rect x="61.8" y="19.3" width="2.6" height="2.2" fill="#b9b9b9"/>
<rect x="65.6" y="18.9" width="2.6" height="2.2" fill="#b9b9b9"/>
<rect x="11.7" y="27.5" width="2.6" height="2.2" fill="#b9b9b9"/>
<rect x="15.5" y="27.2" width="2.6" height="2.2" fill="#b9b9b9"/>
<rect x="19.4" y="26.8" width="2.6" height="2.2" fill="#b9b9b9"/>
<rect x="23.2" y="26.4" width="2.6" height="2.2" fill="#b9b9b9"/>
<rect x="27.1" y="26.0" width="2.6" height="2.2" fill="#b9b9b9"/>
<rect x="30.9" y="25.6" width="2.6" height="2.2" fill="#b9b9b9"/>
<rect x="34.8" y="25.2" width="2.6" height="2.2" fill="#b9b9b9"/>
<rect x="38.6" y="24.9" width="2.6" height="2.2" fill="#b9b9b9"/>
<rect x="42.5" y="24.5" width="2.6" height="2.2" fill="#b9b9b9"/>
<rect x="46.3" y="24.1" width="2.6" height="2.2" fill="#b9b9b9"/>
<rect x="50.2" y="23.7" width="2.6" height="2.2" fill="#b9b9b9"/>
<rect x="54.0" y="23.3" width="2.6" height="2.2" fill="#b9b9b9"/>
<rect x="57.9" y="22.9" width="2.6" height="2.2" fill="#b9b9b9"/>
<rect x="61.8" y="22.5" width="2.6" height="2.2" fill="#b9b9b9"/>
<rect x="65.6" y="22.2" width="2.6" height="2.2" fill="#b9b9b9"/>
<rect x="11.7" y="30.8" width="2.6" height="2.2" fill="#b9b9b9"/>
<rect x="15.5" y="30.4" width="2.6" height="2.2" fill="#b9b9b9"/>
<rect x="19.4" y="30.0" width="2.6" height="2.2" fill="#b9b9b9"/>
<rect x="23.2" y="29.7" width="2.6" height="2.2" fill="#b9b9b9"/>
<rect x="27.1" y="29.3" width="2.6" height="2.2" fill="#b9b9b9"/>
<rect x="30.9" y="28.9" width="2.6" height="2.2" fill="#b9b9b9"/>
<rect x="34.8" y="28.5" width="2.6" height="2.2" fill="#b9b9b9"/>
<rect x="38.6" y="28.1" width="2.6" height="2.2" fill="#b9b9b9"/>
<rect x="42.5" y="27.7" width="2.6" height="2.2" fill="#b9b9b9"/>
<rect x="46.3" y="27.4" width="2.6" height="2.2" fill="#b9b9b9"/>
<rect x="50.2" y="27.0" width="2.6" height="2.2" fill="#b9b9b9"/>
<rect x="54.0" y="26.6" width="2.6" height="2.2" fill="#b9b9b9"/>
<rect x="57.9" y="26.2" width="2.6" height="2.2" fill="#b9b9b9"/>
<rect x="61.8" y="25.8" width="2.6" height="2.2" fill="#b9b9b9"/>
<rect x="65.6" y="25.4" width="2.6" height="2.2" fill="#b9b9b9"/>
<path d="M5.8,17.5 L33.8,3.5" stroke="#1c1c1c" stroke-width="2.2" stroke-linecap="round"/>
<path d="M2.3,26.3 Q7.0,30.9 0.6,34.4" fill="none" stroke="#1c1c1c" stroke-width="0.8"/>
<path d="M51.4,36.8 Q57.2,45.0 52.5,54.3 T53.7,68.3 Q65.4,52.0 69.1,56.6" fill="none" stroke="#7d7d7d" stroke-width="0.5"/>
<path d="M44.4,80.0 Q56.0,82.3 60.7,89.3" fill="none" stroke="#8a8a8a" stroke-width="0.5"/>
<path d="M58.4,89.3 Q60.7,70.6 69.1,73.0" fill="none" stroke="#7a7a7a" stroke-width="0.5"/>
<polygon points="18.7,89.3 22.2,70.6 25.9,52.0 28.6,36.2 41.4,36.2 43.2,52.0 44.9,70.6 46.7,89.3" fill="#dba892"/>
<polygon points="39.7,89.3 41.4,70.6 39.7,52.0 42.6,52.0 44.9,70.6 46.7,89.3" fill="#d19c86"/>
<polygon points="28.6,36.8 26.6,30.4 25.1,22.2 25.4,15.2 28.6,10.8 35.0,9.4 41.1,10.6 44.9,15.2 45.8,22.8 44.1,30.4 41.4,36.8" fill="#deae98"/>
<ellipse cx="29.4" cy="13.4" rx="2.6" ry="2.2" fill="#e0b29a"/>
<ellipse cx="34.4" cy="11.7" rx="2.6" ry="2.2" fill="#e0b29a"/>
<ellipse cx="39.4" cy="12.3" rx="2.6" ry="2.2" fill="#e0b29a"/>
<ellipse cx="43.4" cy="15.2" rx="2.6" ry="2.2" fill="#e0b29a"/>
<path d="M28.0,19.3 Q35.0,22.8 44.4,19.8 M30.3,26.3 Q36.2,28.6 43.2,25.7" fill="none" stroke="#a87560" stroke-width="0.6"/>
<circle cx="33.8" cy="40.3" r="5.8" fill="#f3f4f4"/>
<circle cx="33.8" cy="40.3" r="4.6" fill="#dde6ea"/>
<line x1="26.9" y1="36.8" x2="32.9" y2="43.8" stroke="#f6f8f8" stroke-width="0.4"/>
<line x1="28.2" y1="36.8" x2="34.2" y2="43.8" stroke="#f6f8f8" stroke-width="0.4"/>
<line x1="29.5" y1="36.8" x2="35.5" y2="43.8" stroke="#f6f8f8" stroke-width="0.4"/>
<line x1="30.8" y1="36.8" x2="36.8" y2="43.8" stroke="#f6f8f8" stroke-width="0.4"/>
<line x1="32.1" y1="36.8" x2="38.1" y2="43.8" stroke="#f6f8f8" stroke-width="0.4"/>
<line x1="33.4" y1="36.8" x2="39.4" y2="43.8" stroke="#f6f8f8" stroke-width="0.4"/>
<line x1="34.7" y1="36.8" x2="40.7" y2="43.8" stroke="#f6f8f8" stroke-width="0.4"/>
<circle cx="33.3" cy="63.6" r="6.8" fill="#f3f4f4"/>
<circle cx="33.3" cy="63.6" r="5.3" fill="#dde6ea"/>
<line x1="26.4" y1="60.1" x2="32.4" y2="67.1" stroke="#f6f8f8" stroke-width="0.4"/>
<line x1="27.7" y1="60.1" x2="33.7" y2="67.1" stroke="#f6f8f8" stroke-width="0.4"/>
<line x1="29.0" y1="60.1" x2="35.0" y2="67.1" stroke="#f6f8f8" stroke-width="0.4"/>
<line x1="30.3" y1="60.1" x2="36.3" y2="67.1" stroke="#f6f8f8" stroke-width="0.4"/>
<line x1="31.6" y1="60.1" x2="37.6" y2="67.1" stroke="#f6f8f8" stroke-width="0.4"/>
<line x1="32.9" y1="60.1" x2="38.9" y2="67.1" stroke="#f6f8f8" stroke-width="0.4"/>
<line x1="34.2" y1="60.1" x2="40.2" y2="67.1" stroke="#f6f8f8" stroke-width="0.4"/>
<circle cx="30.9" cy="79.4" r="7.4" fill="#f3f4f4"/>
<circle cx="30.9" cy="79.4" r="5.7" fill="#dde6ea"/>
<line x1="24.0" y1="75.9" x2="30.0" y2="82.9" stroke="#f6f8f8" stroke-width="0.4"/>
<line x1="25.3" y1="75.9" x2="31.3" y2="82.9" stroke="#f6f8f8" stroke-width="0.4"/>
<line x1="26.6" y1="75.9" x2="32.6" y2="82.9" stroke="#f6f8f8" stroke-width="0.4"/>
<line x1="27.9" y1="75.9" x2="33.9" y2="82.9" stroke="#f6f8f8" stroke-width="0.4"/>
<line x1="29.2" y1="75.9" x2="35.2" y2="82.9" stroke="#f6f8f8" stroke-width="0.4"/>
<line x1="30.5" y1="75.9" x2="36.5" y2="82.9" stroke="#f6f8f8" stroke-width="0.4"/>
<line x1="31.8" y1="75.9" x2="37.8" y2="82.9" stroke="#f6f8f8" stroke-width="0.4"/>
<path d="M34.4,36.8 Q31.5,39.3 34.4,41.9 L40.3,37.1 L40.3,36.4 Z" fill="#d22a2a"/>
<path d="M33.8,60.5 Q30.9,63.1 33.8,65.6 L42.0,63.8 L42.0,63.1 Z" fill="#138a4a"/>
<path d="M30.9,76.3 Q28.0,78.8 30.9,81.4 L40.3,80.1 L40.3,79.4 Z" fill="#d8b818"/>
</g></g>
<clipPath id="cb3"><rect x="0" y="0" width="69.1" height="89.3"/></clipPath>
<g transform="translate(603.8,16.1) scale(0.9551,1.0011)" clip-path="url(#cb3)"><g filter="url(#soft)">
<rect x="0" y="0" width="69.1" height="89.3" fill="#c2c2c0"/>
<polygon points="-0.0,34.4 30.3,34.4 28.0,89.3 -0.0,89.3" fill="#c6c6c4"/>
<polygon points="-0.0,-0.0 69.1,-0.0 69.1,13.4 9.3,20.4 -0.0,21.0" fill="#e6e2da"/>
<polygon points="33.8,-0.0 69.1,-0.0 69.1,2.3 33.8,1.7" fill="#2a2a2a"/>
<ellipse cx="43.0" cy="8.9" rx="1.9" ry="1.1" fill="#b0a080"/>
<ellipse cx="62.6" cy="2.0" rx="1.8" ry="0.8" fill="#a8c080"/>
<ellipse cx="5.7" cy="3.5" rx="1.5" ry="0.8" fill="#d8b070"/>
<ellipse cx="37.9" cy="7.4" rx="1.7" ry="0.9" fill="#c99a6a"/>
<ellipse cx="14.2" cy="11.4" rx="1.2" ry="1.2" fill="#a8c080"/>
<ellipse cx="11.4" cy="8.7" rx="1.1" ry="1.3" fill="#b98060"/>
<ellipse cx="2.7" cy="10.8" rx="1.9" ry="0.9" fill="#b98060"/>
<ellipse cx="65.2" cy="6.3" rx="1.6" ry="0.8" fill="#b0a080"/>
<ellipse cx="65.7" cy="3.4" rx="1.3" ry="0.9" fill="#a8c080"/>
<ellipse cx="13.2" cy="3.4" rx="1.3" ry="1.2" fill="#c99a6a"/>
<ellipse cx="40.6" cy="7.6" rx="1.3" ry="0.9" fill="#b0a080"/>
<ellipse cx="55.8" cy="6.1" rx="1.2" ry="1.0" fill="#d8b070"/>
<ellipse cx="13.8" cy="4.6" rx="1.9" ry="0.9" fill="#c99a6a"/>
<ellipse cx="28.7" cy="7.4" rx="1.4" ry="1.0" fill="#a8c080"/>
<ellipse cx="2.9" cy="2.3" rx="1.6" ry="1.3" fill="#b98060"/>
<ellipse cx="10.1" cy="4.5" rx="1.3" ry="0.9" fill="#a8c080"/>
<ellipse cx="36.6" cy="9.5" rx="1.6" ry="1.2" fill="#c99a6a"/>
<ellipse cx="26.3" cy="4.8" rx="1.9" ry="0.8" fill="#a8c080"/>
<ellipse cx="24.6" cy="8.2" rx="1.3" ry="1.3" fill="#b98060"/>
<ellipse cx="38.0" cy="4.8" rx="1.3" ry="1.2" fill="#d8b070"/>
<ellipse cx="43.3" cy="8.7" rx="2.0" ry="0.8" fill="#d8b070"/>
<ellipse cx="5.5" cy="13.1" rx="1.9" ry="0.7" fill="#d09080"/>
<ellipse cx="50.7" cy="4.9" rx="1.5" ry="1.0" fill="#d8b070"/>
<ellipse cx="6.0" cy="12.3" rx="1.8" ry="0.9" fill="#c99a6a"/>
<ellipse cx="15.8" cy="12.5" rx="1.9" ry="1.1" fill="#d09080"/>
<ellipse cx="53.8" cy="2.7" rx="1.4" ry="0.7" fill="#a8c080"/>
<ellipse cx="29.8" cy="3.2" rx="1.9" ry="1.3" fill="#d09080"/>
<ellipse cx="32.0" cy="6.7" rx="1.3" ry="0.9" fill="#b0a080"/>
<ellipse cx="33.1" cy="10.9" rx="1.4" ry="1.3" fill="#c99a6a"/>
<ellipse cx="65.1" cy="7.1" rx="1.9" ry="0.8" fill="#a8c080"/>
<ellipse cx="34.5" cy="6.9" rx="1.9" ry="0.9" fill="#d09080"/>
<ellipse cx="53.7" cy="8.8" rx="1.6" ry="0.7" fill="#b0a080"/>
<ellipse cx="22.3" cy="7.7" rx="1.3" ry="1.0" fill="#b0a080"/>
<ellipse cx="52.6" cy="8.1" rx="2.0" ry="0.9" fill="#d8b070"/>
<ellipse cx="14.0" cy="11.2" rx="1.5" ry="0.9" fill="#a8c080"/>
<ellipse cx="46.2" cy="6.1" rx="1.6" ry="1.2" fill="#d09080"/>
<ellipse cx="25.1" cy="8.5" rx="1.9" ry="0.9" fill="#b0a080"/>
<ellipse cx="62.6" cy="3.2" rx="1.4" ry="0.9" fill="#b0a080"/>
<polygon points="-0.0,19.3 69.1,13.4 69.1,27.4 10.5,35.0 -0.0,35.6" fill="#ececea"/>
<rect x="11.7" y="21.0" width="2.6" height="2.2" fill="#b9b9b9"/>
<rect x="15.5" y="20.6" width="2.6" height="2.2" fill="#b9b9b9"/>
<rect x="19.4" y="20.2" width="2.6" height="2.2" fill="#b9b9b9"/>
<rect x="23.2" y="19.9" width="2.6" height="2.2" fill="#b9b9b9"/>
<rect x="27.1" y="19.5" width="2.6" height="2.2" fill="#b9b9b9"/>
<rect x="30.9" y="19.1" width="2.6" height="2.2" fill="#b9b9b9"/>
<rect x="34.8" y="18.7" width="2.6" height="2.2" fill="#b9b9b9"/>
<rect x="38.6" y="18.3" width="2.6" height="2.2" fill="#b9b9b9"/>
<rect x="42.5" y="17.9" width="2.6" height="2.2" fill="#b9b9b9"/>
<rect x="46.3" y="17.5" width="2.6" height="2.2" fill="#b9b9b9"/>
<rect x="50.2" y="17.2" width="2.6" height="2.2" fill="#b9b9b9"/>
<rect x="54.0" y="16.8" width="2.6" height="2.2" fill="#b9b9b9"/>
<rect x="57.9" y="16.4" width="2.6" height="2.2" fill="#b9b9b9"/>
<rect x="61.8" y="16.0" width="2.6" height="2.2" fill="#b9b9b9"/>
<rect x="65.6" y="15.6" width="2.6" height="2.2" fill="#b9b9b9"/>
<rect x="11.7" y="24.3" width="2.6" height="2.2" fill="#b9b9b9"/>
<rect x="15.5" y="23.9" width="2.6" height="2.2" fill="#b9b9b9"/>
<rect x="19.4" y="23.5" width="2.6" height="2.2" fill="#b9b9b9"/>
<rect x="23.2" y="23.1" width="2.6" height="2.2" fill="#b9b9b9"/>
<rect x="27.1" y="22.7" width="2.6" height="2.2" fill="#b9b9b9"/>
<rect x="30.9" y="22.4" width="2.6" height="2.2" fill="#b9b9b9"/>
<rect x="34.8" y="22.0" width="2.6" height="2.2" fill="#b9b9b9"/>
<rect x="38.6" y="21.6" width="2.6" height="2.2" fill="#b9b9b9"/>
<rect x="42.5" y="21.2" width="2.6" height="2.2" fill="#b9b9b9"/>
<rect x="46.3" y="20.8" width="2.6" height="2.2" fill="#b9b9b9"/>
<rect x="50.2" y="20.4" width="2.6" height="2.2" fill="#b9b9b9"/>
<rect x="54.0" y="20.0" width="2.6" height="2.2" fill="#b9b9b9"/>
<rect x="57.9" y="19.7" width="2.6" height="2.2" fill="#b9b9b9"/>
<rect x="61.8" y="19.3" width="2.6" height="2.2" fill="#b9b9b9"/>
<rect x="65.6" y="18.9" width="2.6" height="2.2" fill="#b9b9b9"/>
<rect x="11.7" y="27.5" width="2.6" height="2.2" fill="#b9b9b9"/>
<rect x="15.5" y="27.2" width="2.6" height="2.2" fill="#b9b9b9"/>
<rect x="19.4" y="26.8" width="2.6" height="2.2" fill="#b9b9b9"/>
<rect x="23.2" y="26.4" width="2.6" height="2.2" fill="#b9b9b9"/>
<rect x="27.1" y="26.0" width="2.6" height="2.2" fill="#b9b9b9"/>
<rect x="30.9" y="25.6" width="2.6" height="2.2" fill="#b9b9b9"/>
<rect x="34.8" y="25.2" width="2.6" height="2.2" fill="#b9b9b9"/>
<rect x="38.6" y="24.9" width="2.6" height="2.2" fill="#b9b9b9"/>
<rect x="42.5" y="24.5" width="2.6" height="2.2" fill="#b9b9b9"/>
<rect x="46.3" y="24.1" width="2.6" height="2.2" fill="#b9b9b9"/>
<rect x="50.2" y="23.7" width="2.6" height="2.2" fill="#b9b9b9"/>
<rect x="54.0" y="23.3" width="2.6" height="2.2" fill="#b9b9b9"/>
<rect x="57.9" y="22.9" width="2.6" height="2.2" fill="#b9b9b9"/>
<rect x="61.8" y="22.5" width="2.6" height="2.2" fill="#b9b9b9"/>
<rect x="65.6" y="22.2" width="2.6" height="2.2" fill="#b9b9b9"/>
<rect x="11.7" y="30.8" width="2.6" height="2.2" fill="#b9b9b9"/>
<rect x="15.5" y="30.4" width="2.6" height="2.2" fill="#b9b9b9"/>
<rect x="19.4" y="30.0" width="2.6" height="2.2" fill="#b9b9b9"/>
<rect x="23.2" y="29.7" width="2.6" height="2.2" fill="#b9b9b9"/>
<rect x="27.1" y="29.3" width="2.6" height="2.2" fill="#b9b9b9"/>
<rect x="30.9" y="28.9" width="2.6" height="2.2" fill="#b9b9b9"/>
<rect x="34.8" y="28.5" width="2.6" height="2.2" fill="#b9b9b9"/>
<rect x="38.6" y="28.1" width="2.6" height="2.2" fill="#b9b9b9"/>
<rect x="42.5" y="27.7" width="2.6" height="2.2" fill="#b9b9b9"/>
<rect x="46.3" y="27.4" width="2.6" height="2.2" fill="#b9b9b9"/>
<rect x="50.2" y="27.0" width="2.6" height="2.2" fill="#b9b9b9"/>
<rect x="54.0" y="26.6" width="2.6" height="2.2" fill="#b9b9b9"/>
<rect x="57.9" y="26.2" width="2.6" height="2.2" fill="#b9b9b9"/>
<rect x="61.8" y="25.8" width="2.6" height="2.2" fill="#b9b9b9"/>
<rect x="65.6" y="25.4" width="2.6" height="2.2" fill="#b9b9b9"/>
<path d="M5.8,17.5 L33.8,3.5" stroke="#1c1c1c" stroke-width="2.2" stroke-linecap="round"/>
<path d="M2.3,26.3 Q7.0,30.9 0.6,34.4" fill="none" stroke="#1c1c1c" stroke-width="0.8"/>
<path d="M51.4,36.8 Q57.2,45.0 52.5,54.3 T53.7,68.3 Q65.4,52.0 69.1,56.6" fill="none" stroke="#7d7d7d" stroke-width="0.5"/>
<path d="M44.4,80.0 Q56.0,82.3 60.7,89.3" fill="none" stroke="#8a8a8a" stroke-width="0.5"/>
<path d="M58.4,89.3 Q60.7,70.6 69.1,73.0" fill="none" stroke="#7a7a7a" stroke-width="0.5"/>
<polygon points="18.7,89.3 22.2,70.6 25.9,52.0 28.6,36.2 41.4,36.2 43.2,52.0 44.9,70.6 46.7,89.3" fill="#dba892"/>
<polygon points="39.7,89.3 41.4,70.6 39.7,52.0 42.6,52.0 44.9,70.6 46.7,89.3" fill="#d19c86"/>
<polygon points="28.6,36.8 26.8,30.9 22.7,23.9 16.9,14.6 16.3,12.3 18.7,11.7 25.1,19.3 25.9,2.9 27.1,1.2 28.9,1.7 29.8,13.4 31.7,0.6 33.3,-0.0 34.8,1.2 35.0,13.4 36.4,4.1 37.9,2.9 39.4,4.1 38.7,15.8 41.4,8.7 42.9,8.7 43.2,11.1 42.0,25.1 41.4,36.8" fill="#e0b09a"/>
<circle cx="33.8" cy="40.3" r="5.8" fill="#f3f4f4"/>
<circle cx="33.8" cy="40.3" r="4.6" fill="#dde6ea"/>
<line x1="26.9" y1="36.8" x2="32.9" y2="43.8" stroke="#f6f8f8" stroke-width="0.4"/>
<line x1="28.2" y1="36.8" x2="34.2" y2="43.8" stroke="#f6f8f8" stroke-width="0.4"/>
<line x1="29.5" y1="36.8" x2="35.5" y2="43.8" stroke="#f6f8f8" stroke-width="0.4"/>
<line x1="30.8" y1="36.8" x2="36.8" y2="43.8" stroke="#f6f8f8" stroke-width="0.4"/>
<line x1="32.1" y1="36.8" x2="38.1" y2="43.8" stroke="#f6f8f8" stroke-width="0.4"/>
<line x1="33.4" y1="36.8" x2="39.4" y2="43.8" stroke="#f6f8f8" stroke-width="0.4"/>
<line x1="34.7" y1="36.8" x2="40.7" y2="43.8" stroke="#f6f8f8" stroke-width="0.4"/>
<circle cx="33.3" cy="63.6" r="6.8" fill="#f3f4f4"/>
<circle cx="33.3" cy="63.6" r="5.3" fill="#dde6ea"/>
<line x1="26.4" y1="60.1" x2="32.4" y2="67.1" stroke="#f6f8f8" stroke-width="0.4"/>
<line x1="27.7" y1="60.1" x2="33.7" y2="67.1" stroke="#f6f8f8" stroke-width="0.4"/>
<line x1="29.0" y1="60.1" x2="35.0" y2="67.1" stroke="#f6f8f8" stroke-width="0.4"/>
<line x1="30.3" y1="60.1" x2="36.3" y2="67.1" stroke="#f6f8f8" stroke-width="0.4"/>
<line x1="31.6" y1="60.1" x2="37.6" y2="67.1" stroke="#f6f8f8" stroke-width="0.4"/>
<line x1="32.9" y1="60.1" x2="38.9" y2="67.1" stroke="#f6f8f8" stroke-width="0.4"/>
<line x1="34.2" y1="60.1" x2="40.2" y2="67.1" stroke="#f6f8f8" stroke-width="0.4"/>
<circle cx="30.9" cy="79.4" r="7.4" fill="#f3f4f4"/>
<circle cx="30.9" cy="79.4" r="5.7" fill="#dde6ea"/>
<line x1="24.0" y1="75.9" x2="30.0" y2="82.9" stroke="#f6f8f8" stroke-width="0.4"/>
<line x1="25.3" y1="75.9" x2="31.3" y2="82.9" stroke="#f6f8f8" stroke-width="0.4"/>
<line x1="26.6" y1="75.9" x2="32.6" y2="82.9" stroke="#f6f8f8" stroke-width="0.4"/>
<line x1="27.9" y1="75.9" x2="33.9" y2="82.9" stroke="#f6f8f8" stroke-width="0.4"/>
<line x1="29.2" y1="75.9" x2="35.2" y2="82.9" stroke="#f6f8f8" stroke-width="0.4"/>
<line x1="30.5" y1="75.9" x2="36.5" y2="82.9" stroke="#f6f8f8" stroke-width="0.4"/>
<line x1="31.8" y1="75.9" x2="37.8" y2="82.9" stroke="#f6f8f8" stroke-width="0.4"/>
<path d="M34.4,36.8 Q31.5,39.3 34.4,41.9 L40.3,37.1 L40.3,36.4 Z" fill="#d22a2a"/>
<path d="M33.8,60.5 Q30.9,63.1 33.8,65.6 L42.0,63.8 L42.0,63.1 Z" fill="#138a4a"/>
<path d="M30.9,76.3 Q28.0,78.8 30.9,81.4 L40.3,80.1 L40.3,79.4 Z" fill="#d8b818"/>
</g></g>
<path d="M480.6,55.4 H497.5 V53.2 L503.7,58.4 L497.5,63.6 V61.4 H480.6 Z" fill="#70b847"/>
<text x="492.40" y="50.60" font-size="7" text-anchor="middle" font-weight="normal" fill="#000" >Tension</text>
<path d="M577.7,55.4 H593.8 V53.2 L600.0,58.4 L593.8,63.6 V61.4 H577.7 Z" fill="#70b847"/>
<text x="589.00" y="50.60" font-size="7" text-anchor="middle" font-weight="normal" fill="#000" >Relax</text>
<path d="M44.50 305.5V307.5M45.00 305.7V307.5M45.50 305.4V307.4M46.00 305.6V307.3M46.50 305.6V307.4M47.00 305.5V307.3M47.50 305.4V307.4M48.00 305.6V307.5M48.50 305.6V307.4M49.00 305.5V307.3M49.50 305.6V307.4M50.00 305.4V307.6M50.50 305.6V307.4M51.00 305.7V307.4M51.50 305.5V307.5M52.00 305.6V307.4M52.50 305.7V307.5M53.00 305.3V307.9M53.50 305.4V308.1M54.00 304.9V307.6M54.50 304.7V308.0M55.00 304.4V308.7M55.50 304.8V308.6M56.00 303.3V312.1M56.50 304.0V312.3M57.00 303.1V310.5M57.50 297.1V316.4M58.00 296.2V311.5M58.50 298.7V310.4M59.00 303.2V311.3M59.50 296.7V310.5M60.00 300.6V319.5M60.50 303.7V313.1M61.00 303.2V310.6M61.50 295.0V316.5M62.00 301.3V315.4M62.50 298.8V322.8M63.00 295.0V312.3M63.50 299.2V312.9M64.00 302.5V320.6M64.50 295.0V316.9M65.00 298.5V322.9M65.50 293.5V319.3M66.00 299.2V322.2M66.50 294.8V320.3M67.00 302.1V323.6M67.50 296.7V317.9M68.00 297.0V313.8M68.50 297.1V326.3M69.00 289.7V324.7M69.50 294.4V323.0M70.00 299.1V312.5M70.50 297.4V316.7M71.00 294.2V320.7M71.50 298.3V310.4M72.00 302.3V309.8M72.50 304.8V312.5M73.00 304.6V308.2M73.50 305.4V307.6M74.00 305.7V307.3M74.50 305.7V307.3M75.00 305.5V307.4M75.50 305.5V307.5M76.00 305.7V307.6M76.50 305.4V307.3M77.00 305.5V307.4M77.50 305.6V307.6M78.00 305.7V307.4M78.50 305.4V307.5M79.00 305.6V307.6M79.50 305.5V307.5M80.00 305.7V307.5M80.50 305.6V307.3M81.00 305.7V307.4M81.50 305.7V307.4M82.00 305.5V307.4M82.50 305.6V307.4M83.00 305.6V307.5M83.50 305.6V307.6M84.00 305.4V307.5M84.50 305.7V307.3M85.00 305.5V307.5M85.50 305.5V307.4M86.00 305.6V307.5M86.50 305.6V307.5M87.00 305.5V307.5M87.50 305.7V307.3M88.00 305.4V307.5M88.50 305.5V307.3M89.00 305.7V307.4M89.50 305.6V307.5M90.00 305.7V307.4M90.50 305.7V307.3M91.00 305.5V307.4M91.50 305.5V307.4M92.00 305.6V307.3M92.50 305.6V307.5M93.00 305.5V307.3M93.50 305.7V307.5M94.00 305.5V307.5M94.50 305.7V307.4M95.00 305.6V307.5M95.50 305.6V307.5M96.00 305.4V307.4M96.50 305.6V307.5M97.00 305.4V307.4M97.50 305.6V307.3M98.00 305.5V307.3M98.50 305.7V307.4M99.00 305.6V307.5M99.50 305.6V307.5M100.00 305.7V307.3M100.50 305.5V307.3M101.00 305.6V307.5M101.50 305.5V307.4M102.00 305.7V307.4M102.50 305.5V307.4M103.00 305.7V307.5M103.50 305.6V307.6M104.00 305.4V307.5M104.50 305.6V307.5M105.00 305.6V307.4M105.50 305.6V307.6M106.00 305.5V307.3M106.50 305.6V307.4M107.00 305.4V307.6M107.50 305.4V307.6M108.00 305.1V307.6M108.50 305.1V307.6M109.00 303.8V309.1M109.50 304.8V309.2M110.00 300.4V310.1M110.50 301.4V309.3M111.00 300.8V309.1M111.50 302.9V311.1M112.00 301.5V310.3M112.50 301.5V311.6M113.00 297.8V312.0M113.50 298.1V310.9M114.00 299.6V310.7M114.50 292.6V310.6M115.00 298.9V316.0M115.50 301.1V313.2M116.00 300.9V312.3M116.50 301.1V310.0M117.00 299.7V314.3M117.50 300.8V310.5M118.00 298.5V313.2M118.50 298.1V317.7M119.00 294.3V318.4M119.50 300.4V317.9M120.00 296.0V312.8M120.50 287.1V310.9M121.00 291.4V314.9M121.50 298.8V312.4M122.00 293.8V315.5M122.50 294.4V319.8M123.00 287.8V314.9M123.50 300.3V312.8M124.00 284.6V316.5M124.50 285.8V315.6M125.00 296.8V312.3M125.50 289.4V310.0M126.00 293.7V311.4M126.50 298.0V312.2M127.00 295.5V309.4M127.50 300.9V315.2M128.00 298.0V308.9M128.50 302.1V309.8M129.00 303.2V309.4M129.50 301.9V308.2M130.00 303.5V309.8M130.50 305.4V307.7M131.00 305.2V308.5M131.50 305.4V308.1M132.00 305.4V307.6M132.50 305.5V307.4M133.00 305.6V307.4M133.50 305.7V307.4M134.00 305.5V307.6M134.50 305.5V307.5M135.00 305.5V307.3M135.50 305.6V307.4M136.00 305.5V307.3M136.50 305.6V307.4M137.00 305.5V307.5M137.50 305.5V307.3M138.00 305.5V307.5M138.50 305.6V307.4M139.00 305.6V307.3M139.50 305.5V307.6M140.00 305.6V307.5M140.50 305.5V307.3M141.00 305.4V307.5M141.50 305.7V307.3M142.00 305.7V307.4M142.50 305.5V307.4M143.00 305.4V307.4M143.50 305.6V307.3M144.00 305.4V307.3M144.50 305.5V307.4M145.00 305.6V307.4M145.50 305.6V307.5M146.00 305.4V307.5M146.50 305.5V307.3M147.00 305.5V307.4M147.50 305.5V307.3M148.00 305.6V307.5M148.50 305.7V307.4M149.00 305.7V307.3M149.50 305.7V307.6M150.00 305.4V307.5M150.50 305.6V307.5M151.00 305.5V307.4M151.50 305.5V307.5M152.00 305.7V307.3M152.50 305.6V307.3M153.00 305.6V307.4M153.50 305.7V307.4M154.00 305.6V307.4M154.50 305.6V307.5M155.00 305.7V307.5M155.50 305.7V307.6M156.00 305.5V307.4M156.50 305.6V307.5M157.00 305.5V307.5M157.50 305.5V307.4M158.00 305.4V307.5M158.50 305.5V307.4M159.00 305.6V307.4M159.50 305.5V307.4M160.00 305.6V307.4M160.50 305.5V307.4M161.00 305.7V307.5M161.50 305.5V307.5M162.00 305.5V307.5M162.50 305.6V307.5M163.00 305.7V307.3M163.50 305.6V307.4M164.00 305.6V307.3M164.50 305.5V307.4M165.00 305.4V307.6M165.50 305.4V308.0M166.00 304.5V307.6M166.50 304.3V309.7M167.00 305.3V310.1M167.50 301.5V308.4M168.00 304.3V311.3M168.50 302.1V308.6M169.00 300.2V310.0M169.50 299.6V313.3M170.00 302.7V311.0M170.50 297.7V309.8M171.00 298.1V309.4M171.50 302.0V315.8M172.00 303.0V313.9M172.50 303.1V310.7M173.00 302.3V310.6M173.50 297.9V311.6M174.00 300.1V310.4M174.50 299.9V320.0M175.00 302.0V319.2M175.50 302.3V318.5M176.00 300.4V309.6M176.50 303.6V319.4M177.00 300.3V310.4M177.50 303.5V311.5M178.00 300.5V313.4M178.50 297.7V313.8M179.00 302.7V314.9M179.50 302.3V312.1M180.00 298.2V310.5M180.50 292.0V312.4M181.00 290.6V316.7M181.50 303.1V322.4M182.00 291.0V314.7M182.50 301.4V313.4M183.00 303.1V308.9M183.50 302.4V318.8M184.00 304.0V309.4M184.50 298.4V311.5M185.00 300.0V311.2M185.50 302.3V308.0M186.00 305.4V307.6M186.50 305.4V308.3M187.00 305.4V307.5M187.50 305.5V307.3M188.00 305.6V307.4M188.50 305.7V307.4M189.00 305.4V307.4M189.50 305.6V307.6M190.00 305.5V307.3M190.50 305.6V307.5M191.00 305.7V307.4M191.50 305.5V307.5M192.00 305.5V307.5M192.50 305.6V307.4M193.00 305.5V307.4M193.50 305.5V307.3M194.00 305.6V307.3M194.50 305.6V307.3M195.00 305.7V307.3M195.50 305.6V307.4M196.00 305.6V307.6M196.50 305.5V307.5M197.00 305.7V307.4M197.50 305.7V307.5M198.00 305.6V307.4M198.50 305.7V307.3M199.00 305.6V307.4M199.50 305.4V307.5M200.00 305.6V307.4M200.50 305.7V307.6M201.00 305.6V307.5M201.50 305.5V307.5M202.00 305.7V307.4M202.50 305.6V307.3M203.00 305.5V307.4M203.50 305.5V307.4M204.00 305.7V307.4M204.50 305.7V307.3M205.00 305.7V307.5M205.50 305.7V307.4M206.00 305.6V307.4M206.50 305.7V307.5M207.00 305.6V307.5M207.50 305.5V307.3M208.00 305.7V307.4M208.50 305.5V307.4M209.00 305.6V307.5M209.50 305.7V307.4M210.00 305.6V307.3M210.50 305.7V307.3M211.00 305.5V307.4M211.50 305.5V307.6M212.00 305.6V307.5" fill="none" stroke="#ff0000" stroke-width="1.0"/>
<path d="M44.50,276.00V335.40H212.26" fill="none" stroke="#262626" stroke-width="1"/>
<line x1="44.50" y1="284.60" x2="47.10" y2="284.60" stroke="#262626" stroke-width="0.9"/>
<text x="38.50" y="288.00" font-size="9.8" text-anchor="end" font-weight="normal" fill="#000" >0.5</text>
<line x1="44.50" y1="295.55" x2="46.00" y2="295.55" stroke="#262626" stroke-width="0.9"/>
<line x1="44.50" y1="306.50" x2="47.10" y2="306.50" stroke="#262626" stroke-width="0.9"/>
<text x="38.50" y="309.90" font-size="9.8" text-anchor="end" font-weight="normal" fill="#000" >0.0</text>
<line x1="44.50" y1="317.05" x2="46.00" y2="317.05" stroke="#262626" stroke-width="0.9"/>
<line x1="44.50" y1="327.60" x2="47.10" y2="327.60" stroke="#262626" stroke-width="0.9"/>
<text x="38.50" y="331.00" font-size="9.8" text-anchor="end" font-weight="normal" fill="#000" >−0.5</text>
<line x1="44.50" y1="335.40" x2="44.50" y2="333.30" stroke="#262626" stroke-width="0.9"/>
<text x="44.50" y="347.80" font-size="9.8" text-anchor="middle" font-weight="normal" fill="#000" >0</text>
<line x1="53.82" y1="335.40" x2="53.82" y2="334.40" stroke="#262626" stroke-width="0.9"/>
<line x1="63.14" y1="335.40" x2="63.14" y2="333.30" stroke="#262626" stroke-width="0.9"/>
<text x="63.14" y="347.80" font-size="9.8" text-anchor="middle" font-weight="normal" fill="#000" >1</text>
<line x1="72.46" y1="335.40" x2="72.46" y2="334.40" stroke="#262626" stroke-width="0.9"/>
<line x1="81.78" y1="335.40" x2="81.78" y2="333.30" stroke="#262626" stroke-width="0.9"/>
<text x="81.78" y="347.80" font-size="9.8" text-anchor="middle" font-weight="normal" fill="#000" >2</text>
<line x1="91.10" y1="335.40" x2="91.10" y2="334.40" stroke="#262626" stroke-width="0.9"/>
<line x1="100.42" y1="335.40" x2="100.42" y2="333.30" stroke="#262626" stroke-width="0.9"/>
<text x="100.42" y="347.80" font-size="9.8" text-anchor="middle" font-weight="normal" fill="#000" >3</text>
<line x1="109.74" y1="335.40" x2="109.74" y2="334.40" stroke="#262626" stroke-width="0.9"/>
<line x1="119.06" y1="335.40" x2="119.06" y2="333.30" stroke="#262626" stroke-width="0.9"/>
<text x="119.06" y="347.80" font-size="9.8" text-anchor="middle" font-weight="normal" fill="#000" >4</text>
<line x1="128.38" y1="335.40" x2="128.38" y2="334.40" stroke="#262626" stroke-width="0.9"/>
<line x1="137.70" y1="335.40" x2="137.70" y2="333.30" stroke="#262626" stroke-width="0.9"/>
<text x="137.70" y="347.80" font-size="9.8" text-anchor="middle" font-weight="normal" fill="#000" >5</text>
<line x1="147.02" y1="335.40" x2="147.02" y2="334.40" stroke="#262626" stroke-width="0.9"/>
<line x1="156.34" y1="335.40" x2="156.34" y2="333.30" stroke="#262626" stroke-width="0.9"/>
<text x="156.34" y="347.80" font-size="9.8" text-anchor="middle" font-weight="normal" fill="#000" >6</text>
<line x1="165.66" y1="335.40" x2="165.66" y2="334.40" stroke="#262626" stroke-width="0.9"/>
<line x1="174.98" y1="335.40" x2="174.98" y2="333.30" stroke="#262626" stroke-width="0.9"/>
<text x="174.98" y="347.80" font-size="9.8" text-anchor="middle" font-weight="normal" fill="#000" >7</text>
<line x1="184.30" y1="335.40" x2="184.30" y2="334.40" stroke="#262626" stroke-width="0.9"/>
<line x1="193.62" y1="335.40" x2="193.62" y2="333.30" stroke="#262626" stroke-width="0.9"/>
<text x="193.62" y="347.80" font-size="9.8" text-anchor="middle" font-weight="normal" fill="#000" >8</text>
<line x1="202.94" y1="335.40" x2="202.94" y2="334.40" stroke="#262626" stroke-width="0.9"/>
<line x1="212.26" y1="335.40" x2="212.26" y2="333.30" stroke="#262626" stroke-width="0.9"/>
<text x="212.26" y="347.80" font-size="9.8" text-anchor="middle" font-weight="normal" fill="#000" >9</text>
<text x="128.38" y="362.30" font-size="10.5" text-anchor="middle" font-weight="normal" fill="#000" >Time (s)</text>
<text transform="translate(10.00,305.70) rotate(-90)" font-size="10.5" text-anchor="middle">sEMG (V)</text>
<text x="211.60" y="283.60" font-size="7.5" text-anchor="end" font-weight="normal" fill="#1a1a1a" >SNR = 13.5 ± 0.3 dB</text>
<text x="214.20" y="330.40" font-size="7.4" text-anchor="end" font-weight="normal" fill="#1a1a1a" >Hydrogel electrode</text>
<path d="M44.50 393.1V398.1M45.00 392.7V398.6M45.50 393.0V397.9M46.00 392.9V398.2M46.50 393.1V398.0M47.00 393.1V398.3M47.50 393.3V398.2M48.00 392.6V398.4M48.50 393.2V398.1M49.00 393.3V398.4M49.50 392.9V397.9M50.00 393.0V398.3M50.50 392.9V398.1M51.00 393.2V398.1M51.50 392.6V398.0M52.00 393.0V398.2M52.50 393.3V398.1M53.00 393.3V398.0M53.50 393.1V398.1M54.00 391.9V398.6M54.50 392.6V400.4M55.00 392.6V398.6M55.50 389.1V398.6M56.00 386.6V399.4M56.50 387.4V402.7M57.00 388.6V406.9M57.50 389.5V404.4M58.00 387.9V404.6M58.50 386.4V405.1M59.00 391.3V407.1M59.50 381.5V407.8M60.00 388.0V401.6M60.50 390.9V399.9M61.00 390.2V400.3M61.50 387.3V404.4M62.00 379.7V407.1M62.50 387.1V401.9M63.00 384.6V410.2M63.50 386.7V408.2M64.00 389.8V408.0M64.50 387.9V399.7M65.00 388.0V400.1M65.50 387.0V406.6M66.00 387.7V405.9M66.50 391.8V404.9M67.00 383.7V399.8M67.50 387.4V401.4M68.00 389.0V400.3M68.50 385.3V398.6M69.00 391.4V398.6M69.50 392.6V399.6M70.00 392.6V398.6M70.50 392.6V398.6M71.00 392.6V398.6M71.50 393.3V397.8M72.00 392.9V398.1M72.50 393.4V398.2M73.00 393.1V398.0M73.50 393.0V398.2M74.00 393.0V398.6M74.50 392.7V398.0M75.00 392.7V398.0M75.50 392.6V397.8M76.00 393.2V398.6M76.50 392.9V398.4M77.00 393.3V397.9M77.50 392.6V397.8M78.00 393.3V398.1M78.50 392.7V398.3M79.00 392.6V398.4M79.50 393.1V398.5M80.00 393.2V397.8M80.50 392.6V398.5M81.00 392.9V398.2M81.50 393.3V398.0M82.00 393.4V397.8M82.50 393.0V398.5M83.00 392.6V398.2M83.50 392.9V398.2M84.00 392.8V398.4M84.50 392.6V398.5M85.00 392.9V398.3M85.50 393.3V398.2M86.00 393.1V397.9M86.50 393.3V398.1M87.00 393.3V398.3M87.50 393.2V398.6M88.00 392.9V398.2M88.50 393.1V398.1M89.00 393.3V398.6M89.50 392.7V398.3M90.00 392.9V397.9M90.50 393.0V397.9M91.00 393.2V398.3M91.50 393.3V398.0M92.00 392.8V398.2M92.50 392.7V397.9M93.00 393.4V398.6M93.50 392.9V398.4M94.00 393.0V397.9M94.50 392.6V398.2M95.00 392.7V397.9M95.50 393.2V398.2M96.00 393.2V398.5M96.50 393.2V397.8M97.00 393.3V398.0M97.50 392.6V398.5M98.00 392.9V398.1M98.50 393.4V398.5M99.00 393.3V397.9M99.50 393.1V398.5M100.00 393.3V397.8M100.50 392.7V397.8M101.00 392.8V397.9M101.50 393.2V397.9M102.00 393.1V398.5M102.50 392.7V398.2M103.00 393.4V397.9M103.50 393.2V398.4M104.00 392.7V397.8M104.50 393.2V398.6M105.00 393.3V397.8M105.50 393.2V398.5M106.00 393.2V398.4M106.50 393.3V398.3M107.00 393.3V398.3M107.50 392.8V398.5M108.00 393.1V398.6M108.50 393.1V398.6M109.00 392.7V398.6M109.50 393.3V398.0M110.00 392.8V398.5M110.50 392.6V399.3M111.00 392.6V398.6M111.50 389.6V403.1M112.00 385.8V402.2M112.50 390.7V403.5M113.00 391.5V410.9M113.50 392.0V400.4M114.00 384.0V398.8M114.50 387.2V398.6M115.00 392.1V400.0M115.50 392.2V398.7M116.00 388.5V406.8M116.50 391.8V399.5M117.00 389.0V399.3M117.50 392.0V400.6M118.00 391.8V400.1M118.50 388.0V401.3M119.00 389.0V401.2M119.50 390.5V415.3M120.00 384.9V407.5M120.50 378.5V416.6M121.00 378.0V409.0M121.50 386.9V416.7M122.00 386.2V403.7M122.50 389.3V402.8M123.00 391.5V403.8M123.50 386.4V403.6M124.00 391.0V398.6M124.50 392.6V398.6M125.00 392.6V398.6M125.50 392.6V398.6M126.00 392.6V397.8M126.50 392.7V397.9M127.00 392.6V398.4M127.50 393.2V398.4M128.00 393.0V398.1M128.50 392.9V398.2M129.00 392.9V398.4M129.50 393.4V398.3M130.00 392.8V398.5M130.50 393.0V398.2M131.00 393.3V397.9M131.50 392.7V397.8M132.00 392.7V397.9M132.50 393.1V398.3M133.00 393.4V398.1M133.50 392.8V398.1M134.00 393.3V397.8M134.50 392.6V397.9M135.00 392.9V398.3M135.50 393.2V398.2M136.00 392.9V397.9M136.50 393.2V398.5M137.00 393.3V398.2M137.50 393.0V398.4M138.00 392.7V398.4M138.50 392.9V398.2M139.00 393.4V398.3M139.50 393.1V398.4M140.00 393.1V397.9M140.50 393.1V398.5M141.00 393.0V398.3M141.50 393.4V398.0M142.00 393.2V398.2M142.50 393.3V398.6M143.00 393.2V397.8M143.50 393.2V398.2M144.00 392.9V398.5M144.50 393.4V398.6M145.00 392.7V398.2M145.50 392.9V398.0M146.00 393.3V397.8M146.50 392.6V398.5M147.00 393.1V398.3M147.50 393.0V398.3M148.00 393.3V398.4M148.50 393.3V398.3M149.00 392.9V398.5M149.50 392.9V397.9M150.00 392.7V398.1M150.50 393.0V398.4M151.00 392.6V397.9M151.50 393.0V398.0M152.00 392.7V398.1M152.50 392.7V398.4M153.00 393.1V398.4M153.50 392.9V397.9M154.00 393.2V397.9M154.50 392.7V398.1M155.00 393.2V398.4M155.50 392.6V397.9M156.00 392.9V398.0M156.50 392.8V398.4M157.00 392.8V398.3M157.50 393.3V398.5M158.00 393.3V398.3M158.50 392.6V398.0M159.00 393.0V398.3M159.50 392.9V398.0M160.00 393.1V398.5M160.50 392.8V397.9M161.00 392.9V398.5M161.50 392.9V398.5M162.00 393.2V398.0M162.50 392.7V398.0M163.00 393.3V397.9M163.50 392.7V398.5M164.00 393.3V398.4M164.50 393.3V398.3M165.00 393.4V398.3M165.50 392.8V398.2M166.00 392.9V397.9M166.50 393.0V398.4M167.00 393.1V398.4M167.50 392.9V398.4M168.00 392.8V398.0M168.50 392.7V398.5M169.00 393.1V398.4M169.50 393.1V398.3M170.00 393.2V398.2M170.50 393.2V398.5M171.00 392.9V398.3M171.50 393.0V398.2M172.00 392.6V398.6M172.50 392.6V398.6M173.00 392.4V398.6M173.50 391.6V399.2M174.00 387.1V404.2M174.50 392.2V400.7M175.00 389.5V409.7M175.50 385.3V402.7M176.00 387.5V401.4M176.50 386.9V405.1M177.00 388.9V405.1M177.50 388.1V403.9M178.00 390.2V402.1M178.50 382.9V410.3M179.00 383.8V406.4M179.50 390.7V409.4M180.00 388.9V401.1M180.50 391.1V401.5M181.00 383.1V407.3M181.50 382.4V410.7M182.00 380.6V411.9M182.50 387.4V414.1M183.00 380.6V405.9M183.50 390.5V399.2M184.00 390.9V403.1M184.50 391.5V402.6M185.00 392.6V401.3M185.50 392.5V398.6M186.00 392.6V399.4M186.50 393.4V398.2M187.00 393.2V398.3M187.50 393.3V398.0M188.00 392.8V398.3M188.50 393.3V398.6M189.00 393.4V398.1M189.50 392.8V398.3M190.00 392.9V398.5M190.50 393.4V398.2M191.00 393.2V398.3M191.50 393.0V398.3M192.00 392.8V398.2M192.50 393.1V398.2M193.00 393.3V398.5M193.50 393.1V398.2M194.00 392.7V398.5M194.50 392.6V398.4M195.00 393.0V398.1M195.50 392.8V398.3M196.00 393.4V398.2M196.50 392.9V398.1M197.00 392.7V398.4M197.50 392.7V398.0M198.00 392.9V398.2M198.50 393.1V398.0M199.00 393.4V398.5M199.50 393.2V398.1M200.00 393.2V398.2M200.50 393.0V398.5M201.00 393.4V398.1M201.50 392.7V398.4M202.00 393.4V398.1M202.50 392.6V398.6M203.00 393.2V398.4M203.50 393.2V397.8M204.00 392.7V397.9M204.50 392.6V398.1M205.00 392.7V398.2M205.50 392.7V398.4M206.00 393.3V397.8M206.50 393.3V398.3M207.00 393.3V397.8M207.50 393.1V397.8M208.00 393.2V398.3M208.50 393.2V398.4M209.00 393.2V398.1M209.50 393.1V398.5M210.00 393.4V398.5M210.50 393.4V398.6M211.00 393.0V398.4M211.50 393.0V398.3M212.00 392.9V397.9" fill="none" stroke="#ff0000" stroke-width="1.0"/>
<path d="M44.50,365.00V424.90H212.26" fill="none" stroke="#262626" stroke-width="1"/>
<line x1="44.50" y1="373.80" x2="47.10" y2="373.80" stroke="#262626" stroke-width="0.9"/>
<text x="38.50" y="377.20" font-size="9.8" text-anchor="end" font-weight="normal" fill="#000" >0.5</text>
<line x1="44.50" y1="384.70" x2="46.00" y2="384.70" stroke="#262626" stroke-width="0.9"/>
<line x1="44.50" y1="395.60" x2="47.10" y2="395.60" stroke="#262626" stroke-width="0.9"/>
<text x="38.50" y="399.00" font-size="9.8" text-anchor="end" font-weight="normal" fill="#000" >0.0</text>
<line x1="44.50" y1="406.15" x2="46.00" y2="406.15" stroke="#262626" stroke-width="0.9"/>
<line x1="44.50" y1="416.70" x2="47.10" y2="416.70" stroke="#262626" stroke-width="0.9"/>
<text x="38.50" y="420.10" font-size="9.8" text-anchor="end" font-weight="normal" fill="#000" >−0.5</text>
<line x1="44.50" y1="424.90" x2="44.50" y2="422.80" stroke="#262626" stroke-width="0.9"/>
<text x="44.50" y="437.40" font-size="9.8" text-anchor="middle" font-weight="normal" fill="#000" >0</text>
<line x1="53.82" y1="424.90" x2="53.82" y2="423.90" stroke="#262626" stroke-width="0.9"/>
<line x1="63.14" y1="424.90" x2="63.14" y2="422.80" stroke="#262626" stroke-width="0.9"/>
<text x="63.14" y="437.40" font-size="9.8" text-anchor="middle" font-weight="normal" fill="#000" >1</text>
<line x1="72.46" y1="424.90" x2="72.46" y2="423.90" stroke="#262626" stroke-width="0.9"/>
<line x1="81.78" y1="424.90" x2="81.78" y2="422.80" stroke="#262626" stroke-width="0.9"/>
<text x="81.78" y="437.40" font-size="9.8" text-anchor="middle" font-weight="normal" fill="#000" >2</text>
<line x1="91.10" y1="424.90" x2="91.10" y2="423.90" stroke="#262626" stroke-width="0.9"/>
<line x1="100.42" y1="424.90" x2="100.42" y2="422.80" stroke="#262626" stroke-width="0.9"/>
<text x="100.42" y="437.40" font-size="9.8" text-anchor="middle" font-weight="normal" fill="#000" >3</text>
<line x1="109.74" y1="424.90" x2="109.74" y2="423.90" stroke="#262626" stroke-width="0.9"/>
<line x1="119.06" y1="424.90" x2="119.06" y2="422.80" stroke="#262626" stroke-width="0.9"/>
<text x="119.06" y="437.40" font-size="9.8" text-anchor="middle" font-weight="normal" fill="#000" >4</text>
<line x1="128.38" y1="424.90" x2="128.38" y2="423.90" stroke="#262626" stroke-width="0.9"/>
<line x1="137.70" y1="424.90" x2="137.70" y2="422.80" stroke="#262626" stroke-width="0.9"/>
<text x="137.70" y="437.40" font-size="9.8" text-anchor="middle" font-weight="normal" fill="#000" >5</text>
<line x1="147.02" y1="424.90" x2="147.02" y2="423.90" stroke="#262626" stroke-width="0.9"/>
<line x1="156.34" y1="424.90" x2="156.34" y2="422.80" stroke="#262626" stroke-width="0.9"/>
<text x="156.34" y="437.40" font-size="9.8" text-anchor="middle" font-weight="normal" fill="#000" >6</text>
<line x1="165.66" y1="424.90" x2="165.66" y2="423.90" stroke="#262626" stroke-width="0.9"/>
<line x1="174.98" y1="424.90" x2="174.98" y2="422.80" stroke="#262626" stroke-width="0.9"/>
<text x="174.98" y="437.40" font-size="9.8" text-anchor="middle" font-weight="normal" fill="#000" >7</text>
<line x1="184.30" y1="424.90" x2="184.30" y2="423.90" stroke="#262626" stroke-width="0.9"/>
<line x1="193.62" y1="424.90" x2="193.62" y2="422.80" stroke="#262626" stroke-width="0.9"/>
<text x="193.62" y="437.40" font-size="9.8" text-anchor="middle" font-weight="normal" fill="#000" >8</text>
<line x1="202.94" y1="424.90" x2="202.94" y2="423.90" stroke="#262626" stroke-width="0.9"/>
<line x1="212.26" y1="424.90" x2="212.26" y2="422.80" stroke="#262626" stroke-width="0.9"/>
<text x="212.26" y="437.40" font-size="9.8" text-anchor="middle" font-weight="normal" fill="#000" >9</text>
<text x="128.38" y="453.30" font-size="10.5" text-anchor="middle" font-weight="normal" fill="#000" >Time (s)</text>
<text transform="translate(10.00,394.95) rotate(-90)" font-size="10.5" text-anchor="middle">sEMG (V)</text>
<text x="213.60" y="377.80" font-size="7.5" text-anchor="end" font-weight="normal" fill="#1a1a1a" >SNR = 9.7 ± 0.3 dB</text>
<text x="214.20" y="420.00" font-size="7.4" text-anchor="end" font-weight="normal" fill="#1a1a1a" >Ag/AgCl electrode</text>
<path d="M276.00 304.6V308.5M276.50 304.5V308.5M277.00 304.4V308.1M277.50 304.9V308.4M278.00 304.6V308.4M278.50 304.5V308.2M279.00 304.5V308.3M279.50 304.7V308.2M280.00 304.8V308.4M280.50 304.6V308.6M281.00 304.8V308.5M281.50 304.9V308.4M282.00 304.9V308.6M282.50 304.4V308.2M283.00 304.5V308.2M283.50 304.8V308.1M284.00 304.7V308.1M284.50 304.5V308.4M285.00 304.7V308.5M285.50 304.8V308.2M286.00 304.7V308.0M286.50 304.4V308.1M287.00 304.9V308.5M287.50 304.5V308.3M288.00 304.7V308.1M288.50 305.0V308.4M289.00 304.8V308.1M289.50 304.4V308.1M290.00 304.7V308.5M290.50 304.5V308.1M291.00 304.5V308.4M291.50 304.6V308.6M292.00 304.5V308.4M292.50 304.5V308.3M293.00 304.6V308.5M293.50 304.6V308.3M294.00 304.9V308.5M294.50 304.7V308.3M295.00 304.8V308.4M295.50 304.7V308.6M296.00 304.6V308.4M296.50 304.5V308.3M297.00 304.6V308.5M297.50 304.5V308.5M298.00 304.4V308.4M298.50 304.6V308.2M299.00 304.8V308.3M299.50 304.7V308.6M300.00 304.9V308.3M300.50 304.5V308.3M301.00 304.4V308.1M301.50 304.5V308.3M302.00 304.6V308.1M302.50 304.7V308.5M303.00 304.5V308.4M303.50 304.7V308.1M304.00 304.5V308.3M304.50 304.5V308.4M305.00 304.7V308.6M305.50 304.9V308.6M306.00 304.9V308.6M306.50 304.6V308.3M307.00 304.4V308.6M307.50 304.4V308.6M308.00 302.7V310.0M308.50 304.4V309.3M309.00 304.3V311.4M309.50 303.9V309.7M310.00 303.1V309.4M310.50 298.7V309.8M311.00 298.4V308.6M311.50 301.1V309.6M312.00 301.8V310.0M312.50 303.9V309.3M313.00 297.0V308.6M313.50 303.5V310.5M314.00 302.4V310.8M314.50 303.2V310.8M315.00 299.5V313.4M315.50 301.0V313.0M316.00 301.3V309.6M316.50 301.1V308.8M317.00 302.5V308.6M317.50 302.7V310.4M318.00 304.0V309.6M318.50 302.3V308.8M319.00 304.4V309.0M319.50 303.2V309.1M320.00 303.5V309.1M320.50 304.4V308.6M321.00 304.8V308.2M321.50 304.6V308.3M322.00 304.9V308.2M322.50 304.4V308.3M323.00 304.5V308.3M323.50 304.9V308.4M324.00 304.8V308.1M324.50 304.6V308.5M325.00 304.9V308.6M325.50 304.9V308.1M326.00 304.8V308.5M326.50 304.5V308.5M327.00 304.7V308.6M327.50 304.9V308.6M328.00 304.9V308.1M328.50 304.5V308.5M329.00 304.5V308.2M329.50 304.4V308.4M330.00 304.8V308.1M330.50 304.4V308.1M331.00 304.8V308.3M331.50 304.4V308.5M332.00 304.4V308.4M332.50 304.9V308.5M333.00 304.8V308.6M333.50 304.4V308.1M334.00 304.5V308.2M334.50 304.9V308.6M335.00 304.7V308.2M335.50 304.6V308.1M336.00 304.7V308.4M336.50 304.4V308.1M337.00 304.4V308.1M337.50 304.8V308.2M338.00 304.9V308.1M338.50 304.6V308.3M339.00 304.8V308.4M339.50 304.9V308.5M340.00 304.4V308.3M340.50 304.7V308.3M341.00 304.7V308.3M341.50 304.8V308.2M342.00 304.5V308.3M342.50 304.9V308.1M343.00 304.4V308.3M343.50 304.5V308.4M344.00 304.6V308.3M344.50 304.6V308.3M345.00 304.6V308.6M345.50 304.9V308.2M346.00 304.4V308.6M346.50 304.5V308.6M347.00 304.9V308.5M347.50 304.9V308.6M348.00 304.7V308.3M348.50 304.6V308.2M349.00 304.6V308.6M349.50 304.7V308.3M350.00 304.4V308.6M350.50 304.2V308.6M351.00 303.6V308.6M351.50 304.4V308.6M352.00 301.8V309.1M352.50 304.4V309.1M353.00 299.4V311.3M353.50 303.3V316.7M354.00 303.6V310.4M354.50 298.0V311.5M355.00 303.4V312.9M355.50 299.8V312.1M356.00 300.7V311.3M356.50 300.3V313.2M357.00 301.1V312.8M357.50 299.7V318.3M358.00 295.8V311.7M358.50 300.0V310.9M359.00 298.1V320.3M359.50 301.3V318.8M360.00 303.2V314.0M360.50 296.4V316.9M361.00 296.7V310.9M361.50 302.1V311.7M362.00 300.8V310.1M362.50 303.7V310.4M363.00 301.7V311.1M363.50 300.6V317.9M364.00 298.3V317.3M364.50 298.3V313.3M365.00 301.1V317.3M365.50 304.1V311.5M366.00 304.4V313.8M366.50 304.4V310.6M367.00 304.4V309.9M367.50 304.4V308.6M368.00 304.4V308.6M368.50 304.4V309.3M369.00 304.8V308.4M369.50 304.8V308.3M370.00 304.7V308.3M370.50 304.7V308.2M371.00 304.9V308.3M371.50 304.4V308.6M372.00 304.9V308.4M372.50 304.9V308.2M373.00 304.4V308.3M373.50 304.9V308.4M374.00 304.6V308.4M374.50 304.4V308.4M375.00 304.7V308.2M375.50 304.6V308.5M376.00 304.6V308.3M376.50 304.8V308.6M377.00 304.4V308.4M377.50 304.5V308.2M378.00 304.9V308.1M378.50 304.6V308.6M379.00 304.5V308.5M379.50 304.4V308.3M380.00 304.7V308.2M380.50 304.5V308.5M381.00 304.6V308.5M381.50 304.4V308.1M382.00 304.8V308.3M382.50 304.5V308.2M383.00 304.7V308.4M383.50 304.8V308.5M384.00 304.9V308.3M384.50 304.6V308.6M385.00 304.6V308.4M385.50 304.6V308.4M386.00 304.7V308.2M386.50 304.9V308.6M387.00 304.5V308.4M387.50 304.5V308.2M388.00 304.8V308.4M388.50 304.7V308.4M389.00 304.4V308.3M389.50 304.7V308.5M390.00 304.4V308.4M390.50 304.6V308.6M391.00 304.4V308.1M391.50 304.4V308.1M392.00 304.6V308.3M392.50 304.4V308.2M393.00 304.9V308.6M393.50 304.7V308.3M394.00 304.7V308.2M394.50 304.9V308.4M395.00 304.8V308.3M395.50 304.4V308.6M396.00 304.8V308.2M396.50 304.9V308.4M397.00 304.8V308.1M397.50 304.4V308.4M398.00 304.4V308.2M398.50 304.8V308.4M399.00 304.5V308.2M399.50 304.6V308.4M400.00 304.7V308.2M400.50 304.7V308.1M401.00 304.9V308.1M401.50 304.5V308.2M402.00 304.5V308.1M402.50 304.4V308.1M403.00 304.5V308.4M403.50 304.4V308.6M404.00 304.9V308.1M404.50 304.8V308.1M405.00 304.4V308.1M405.50 304.5V308.6M406.00 304.5V308.6M406.50 304.4V308.6M407.00 304.4V308.6M407.50 302.3V309.9M408.00 299.8V310.7M408.50 304.0V308.9M409.00 297.3V309.1M409.50 302.9V314.8M410.00 296.6V311.2M410.50 296.0V310.4M411.00 296.3V311.8M411.50 300.3V312.9M412.00 298.1V310.1M412.50 301.7V311.6M413.00 296.9V315.5M413.50 296.0V309.5M414.00 302.1V313.1M414.50 296.2V309.9M415.00 293.6V310.2M415.50 300.8V315.2M416.00 298.0V312.5M416.50 295.2V310.3M417.00 295.8V317.9M417.50 295.5V317.0M418.00 302.6V312.5M418.50 301.7V311.1M419.00 294.8V313.4M419.50 295.4V314.7M420.00 301.1V312.6M420.50 291.0V309.7M421.00 296.6V312.0M421.50 301.9V318.5M422.00 301.0V311.3M422.50 304.4V309.1M423.00 303.7V309.4M423.50 304.0V308.6M424.00 303.9V309.8M424.50 304.4V308.6M425.00 304.5V308.1M425.50 304.5V308.1M426.00 304.8V308.3M426.50 304.6V308.4M427.00 304.7V308.6M427.50 304.9V308.2M428.00 304.7V308.4M428.50 304.6V308.6M429.00 304.7V308.4M429.50 304.5V308.1M430.00 304.7V308.3M430.50 304.6V308.4M431.00 304.9V308.2M431.50 304.8V308.1M432.00 304.5V308.6M432.50 304.5V308.2M433.00 304.6V308.1M433.50 304.8V308.2M434.00 304.6V308.4M434.50 304.6V308.1M435.00 304.6V308.5M435.50 304.4V308.3M436.00 304.7V308.6M436.50 304.9V308.4M437.00 304.9V308.5M437.50 304.5V308.1M438.00 304.9V308.6M438.50 304.8V308.4M439.00 304.6V308.3M439.50 304.9V308.5M440.00 304.8V308.3M440.50 304.5V308.6M441.00 304.8V308.2M441.50 304.5V308.3M442.00 304.4V308.3M442.50 304.9V308.2M443.00 304.4V308.4M443.50 304.4V308.5" fill="none" stroke="#ff0000" stroke-width="1.0"/>
<path d="M276.00,276.00V335.40H443.60" fill="none" stroke="#262626" stroke-width="1"/>
<line x1="276.00" y1="284.60" x2="278.60" y2="284.60" stroke="#262626" stroke-width="0.9"/>
<text x="270.00" y="288.00" font-size="9.8" text-anchor="end" font-weight="normal" fill="#000" >0.5</text>
<line x1="276.00" y1="295.55" x2="277.50" y2="295.55" stroke="#262626" stroke-width="0.9"/>
<line x1="276.00" y1="306.50" x2="278.60" y2="306.50" stroke="#262626" stroke-width="0.9"/>
<text x="270.00" y="309.90" font-size="9.8" text-anchor="end" font-weight="normal" fill="#000" >0.0</text>
<line x1="276.00" y1="317.05" x2="277.50" y2="317.05" stroke="#262626" stroke-width="0.9"/>
<line x1="276.00" y1="327.60" x2="278.60" y2="327.60" stroke="#262626" stroke-width="0.9"/>
<text x="270.00" y="331.00" font-size="9.8" text-anchor="end" font-weight="normal" fill="#000" >−0.5</text>
<line x1="276.00" y1="335.40" x2="276.00" y2="333.30" stroke="#262626" stroke-width="0.9"/>
<text x="276.00" y="347.80" font-size="9.8" text-anchor="middle" font-weight="normal" fill="#000" >0</text>
<line x1="286.48" y1="335.40" x2="286.48" y2="334.40" stroke="#262626" stroke-width="0.9"/>
<line x1="296.95" y1="335.40" x2="296.95" y2="333.30" stroke="#262626" stroke-width="0.9"/>
<text x="296.95" y="347.80" font-size="9.8" text-anchor="middle" font-weight="normal" fill="#000" >1</text>
<line x1="307.43" y1="335.40" x2="307.43" y2="334.40" stroke="#262626" stroke-width="0.9"/>
<line x1="317.90" y1="335.40" x2="317.90" y2="333.30" stroke="#262626" stroke-width="0.9"/>
<text x="317.90" y="347.80" font-size="9.8" text-anchor="middle" font-weight="normal" fill="#000" >2</text>
<line x1="328.38" y1="335.40" x2="328.38" y2="334.40" stroke="#262626" stroke-width="0.9"/>
<line x1="338.85" y1="335.40" x2="338.85" y2="333.30" stroke="#262626" stroke-width="0.9"/>
<text x="338.85" y="347.80" font-size="9.8" text-anchor="middle" font-weight="normal" fill="#000" >3</text>
<line x1="349.33" y1="335.40" x2="349.33" y2="334.40" stroke="#262626" stroke-width="0.9"/>
<line x1="359.80" y1="335.40" x2="359.80" y2="333.30" stroke="#262626" stroke-width="0.9"/>
<text x="359.80" y="347.80" font-size="9.8" text-anchor="middle" font-weight="normal" fill="#000" >4</text>
<line x1="370.28" y1="335.40" x2="370.28" y2="334.40" stroke="#262626" stroke-width="0.9"/>
<line x1="380.75" y1="335.40" x2="380.75" y2="333.30" stroke="#262626" stroke-width="0.9"/>
<text x="380.75" y="347.80" font-size="9.8" text-anchor="middle" font-weight="normal" fill="#000" >5</text>
<line x1="391.23" y1="335.40" x2="391.23" y2="334.40" stroke="#262626" stroke-width="0.9"/>
<line x1="401.70" y1="335.40" x2="401.70" y2="333.30" stroke="#262626" stroke-width="0.9"/>
<text x="401.70" y="347.80" font-size="9.8" text-anchor="middle" font-weight="normal" fill="#000" >6</text>
<line x1="412.18" y1="335.40" x2="412.18" y2="334.40" stroke="#262626" stroke-width="0.9"/>
<line x1="422.65" y1="335.40" x2="422.65" y2="333.30" stroke="#262626" stroke-width="0.9"/>
<text x="422.65" y="347.80" font-size="9.8" text-anchor="middle" font-weight="normal" fill="#000" >7</text>
<line x1="433.12" y1="335.40" x2="433.12" y2="334.40" stroke="#262626" stroke-width="0.9"/>
<line x1="443.60" y1="335.40" x2="443.60" y2="333.30" stroke="#262626" stroke-width="0.9"/>
<text x="443.60" y="347.80" font-size="9.8" text-anchor="middle" font-weight="normal" fill="#000" >8</text>
<text x="359.80" y="362.30" font-size="10.5" text-anchor="middle" font-weight="normal" fill="#000" >Time (s)</text>
<text transform="translate(241.50,305.70) rotate(-90)" font-size="10.5" text-anchor="middle">sEMG (V)</text>
<text x="444.60" y="283.20" font-size="7.5" text-anchor="end" font-weight="normal" fill="#1a1a1a" >SNR = 9.9 ± 0.3 dB</text>
<text x="445.40" y="330.40" font-size="7.4" text-anchor="end" font-weight="normal" fill="#1a1a1a" >Hydrogel electrode</text>
<path d="M276.00 392.0V399.2M276.50 392.5V398.4M277.00 391.9V398.7M277.50 392.6V399.1M278.00 392.4V399.2M278.50 392.2V399.2M279.00 392.8V399.2M279.50 392.4V399.0M280.00 392.6V398.5M280.50 392.6V398.4M281.00 391.9V398.4M281.50 392.7V398.9M282.00 392.7V398.5M282.50 392.7V398.5M283.00 392.9V399.0M283.50 392.3V398.6M284.00 392.0V398.8M284.50 392.7V399.3M285.00 392.7V399.1M285.50 392.1V398.3M286.00 392.1V398.7M286.50 392.4V399.2M287.00 392.5V398.5M287.50 392.9V399.2M288.00 392.5V399.0M288.50 392.3V399.3M289.00 392.0V399.2M289.50 392.4V399.2M290.00 392.6V398.4M290.50 392.3V398.3M291.00 391.9V398.6M291.50 392.5V398.6M292.00 392.6V398.8M292.50 392.1V398.3M293.00 392.6V398.5M293.50 391.9V398.7M294.00 392.5V399.2M294.50 392.5V398.7M295.00 392.5V398.5M295.50 392.2V398.6M296.00 392.4V398.9M296.50 392.1V399.0M297.00 392.4V399.2M297.50 392.0V399.2M298.00 392.2V398.7M298.50 392.6V399.2M299.00 392.4V399.0M299.50 392.5V398.6M300.00 392.9V399.0M300.50 392.6V398.8M301.00 392.2V399.1M301.50 392.0V398.9M302.00 392.7V399.2M302.50 392.9V398.7M303.00 392.0V399.1M303.50 392.3V399.2M304.00 392.8V398.3M304.50 392.6V399.2M305.00 392.9V398.6M305.50 392.4V398.5M306.00 392.0V398.4M306.50 392.8V399.3M307.00 392.9V398.5M307.50 392.5V399.2M308.00 392.6V398.9M308.50 391.9V400.6M309.00 390.1V400.5M309.50 391.9V399.3M310.00 391.9V399.3M310.50 389.1V399.9M311.00 388.3V405.6M311.50 389.9V403.2M312.00 389.9V410.9M312.50 390.8V400.1M313.00 390.4V408.4M313.50 388.6V399.7M314.00 383.6V409.9M314.50 386.0V410.0M315.00 380.1V403.1M315.50 391.2V408.2M316.00 384.5V413.7M316.50 386.5V405.8M317.00 382.9V404.7M317.50 384.6V407.9M318.00 385.1V402.2M318.50 391.5V405.7M319.00 390.5V400.8M319.50 385.3V402.1M320.00 387.2V401.2M320.50 386.5V409.2M321.00 387.0V399.5M321.50 391.3V400.9M322.00 391.9V402.1M322.50 391.9V400.3M323.00 391.5V399.6M323.50 391.9V399.3M324.00 392.8V398.7M324.50 392.8V398.7M325.00 392.9V398.8M325.50 392.1V399.2M326.00 392.0V398.5M326.50 392.1V398.6M327.00 392.2V398.8M327.50 392.2V398.7M328.00 391.9V398.7M328.50 392.1V398.4M329.00 392.2V398.5M329.50 392.5V398.7M330.00 392.2V398.9M330.50 392.7V399.2M331.00 392.9V398.8M331.50 392.8V398.4M332.00 392.7V399.2M332.50 392.9V399.0M333.00 392.3V399.1M333.50 392.1V398.4M334.00 392.0V398.4M334.50 392.8V398.5M335.00 392.2V398.9M335.50 392.2V398.5M336.00 392.4V398.6M336.50 391.9V398.9M337.00 392.2V398.7M337.50 392.8V398.4M338.00 392.7V399.0M338.50 392.7V398.8M339.00 392.6V398.4M339.50 392.6V398.8M340.00 392.0V399.1M340.50 392.5V398.6M341.00 392.7V398.6M341.50 392.4V399.3M342.00 392.9V398.5M342.50 392.5V398.8M343.00 392.9V398.3M343.50 392.4V398.3M344.00 392.1V399.0M344.50 392.5V399.3M345.00 392.4V399.2M345.50 392.7V398.3M346.00 392.5V398.8M346.50 392.2V398.4M347.00 392.2V398.6M347.50 392.0V399.1M348.00 392.1V398.3M348.50 392.9V398.3M349.00 392.5V398.3M349.50 392.8V398.3M350.00 391.9V398.7M350.50 392.7V398.4M351.00 392.6V398.4M351.50 392.1V399.2M352.00 392.1V398.3M352.50 392.3V399.1M353.00 392.5V399.1M353.50 392.9V398.8M354.00 392.2V398.7M354.50 392.8V399.3M355.00 392.1V398.6M355.50 392.2V398.4M356.00 391.9V399.3M356.50 391.0V399.5M357.00 390.5V399.3M357.50 391.9V407.3M358.00 388.9V410.8M358.50 391.6V401.0M359.00 385.3V411.2M359.50 391.9V408.3M360.00 389.5V408.5M360.50 385.7V410.6M361.00 391.9V413.7M361.50 382.7V402.0M362.00 384.7V413.5M362.50 388.8V401.8M363.00 390.2V401.9M363.50 388.1V411.3M364.00 387.9V399.7M364.50 391.9V410.4M365.00 390.7V401.6M365.50 391.9V401.4M366.00 391.9V402.3M366.50 391.9V399.3M367.00 391.5V400.4M367.50 391.9V399.3M368.00 392.4V398.8M368.50 392.5V398.9M369.00 392.4V399.1M369.50 392.6V398.7M370.00 392.9V399.0M370.50 392.9V399.2M371.00 392.4V398.9M371.50 392.5V398.8M372.00 392.8V398.4M372.50 392.4V398.6M373.00 392.4V398.8M373.50 391.9V398.9M374.00 392.9V398.9M374.50 392.6V398.5M375.00 392.6V399.2M375.50 392.1V398.7M376.00 392.0V398.8M376.50 392.8V399.0M377.00 392.0V399.0M377.50 392.6V398.8M378.00 392.8V398.5M378.50 392.9V399.3M379.00 392.2V398.8M379.50 392.2V399.0M380.00 392.5V398.5M380.50 392.4V398.8M381.00 392.5V398.5M381.50 392.3V398.9M382.00 392.7V398.4M382.50 392.2V399.3M383.00 392.2V399.1M383.50 392.2V398.7M384.00 392.3V398.7M384.50 391.9V398.4M385.00 391.9V398.4M385.50 392.6V398.9M386.00 392.0V399.2M386.50 392.1V398.9M387.00 392.2V398.6M387.50 392.9V398.9M388.00 392.7V398.7M388.50 392.1V399.3M389.00 392.8V399.2M389.50 392.7V398.8M390.00 392.1V399.0M390.50 392.5V399.2M391.00 392.8V399.1M391.50 391.9V399.1M392.00 392.8V398.7M392.50 392.8V398.6M393.00 392.5V398.4M393.50 392.5V399.1M394.00 392.3V398.6M394.50 392.8V398.4M395.00 392.1V398.5M395.50 392.4V398.5M396.00 392.2V398.4M396.50 392.4V398.7M397.00 392.4V398.5M397.50 392.2V399.3M398.00 392.7V398.3M398.50 392.6V398.6M399.00 392.0V398.3M399.50 392.9V398.8M400.00 392.5V398.5M400.50 392.2V398.7M401.00 391.9V398.5M401.50 392.4V398.4M402.00 392.8V399.3M402.50 391.6V399.4M403.00 391.9V399.3M403.50 391.6V400.7M404.00 388.6V403.4M404.50 391.9V402.7M405.00 388.2V402.0M405.50 391.9V403.8M406.00 391.4V399.3M406.50 391.5V400.8M407.00 389.3V403.1M407.50 384.0V408.7M408.00 383.9V406.4M408.50 385.2V409.0M409.00 381.8V407.6M409.50 391.2V407.3M410.00 390.6V411.1M410.50 389.9V409.7M411.00 387.1V400.7M411.50 386.4V404.3M412.00 390.5V402.5M412.50 391.1V402.5M413.00 391.8V399.3M413.50 387.6V399.3M414.00 390.3V400.9M414.50 391.7V399.3M415.00 391.9V399.3M415.50 391.9V398.5M416.00 392.8V398.5M416.50 392.0V398.6M417.00 392.1V399.3M417.50 392.6V399.1M418.00 392.8V398.3M418.50 392.2V398.6M419.00 392.7V398.8M419.50 392.1V398.7M420.00 392.4V399.0M420.50 392.8V398.8M421.00 392.9V398.5M421.50 392.8V398.4M422.00 392.0V398.3M422.50 392.4V398.3M423.00 392.9V399.2M423.50 392.4V399.2M424.00 392.3V398.9M424.50 392.1V398.3M425.00 392.7V399.0M425.50 391.9V398.5M426.00 392.5V399.0M426.50 392.3V399.0M427.00 392.9V398.5M427.50 392.2V399.0M428.00 392.3V399.1M428.50 392.1V398.3M429.00 392.6V398.3M429.50 392.8V399.0M430.00 392.5V399.2M430.50 392.9V398.7M431.00 391.9V398.6M431.50 392.2V399.2M432.00 392.1V398.6M432.50 392.5V399.1M433.00 392.4V398.7M433.50 392.0V398.5M434.00 392.2V398.6M434.50 392.3V399.0M435.00 392.0V399.1M435.50 392.4V398.9M436.00 392.2V399.0M436.50 392.0V398.3M437.00 392.9V399.3M437.50 392.3V398.4M438.00 392.6V398.4M438.50 392.6V398.4M439.00 392.2V398.4M439.50 392.5V398.3M440.00 392.5V398.5M440.50 392.4V398.5M441.00 392.7V398.6M441.50 392.0V399.3M442.00 392.8V399.0M442.50 392.9V398.6M443.00 392.1V399.0M443.50 392.2V398.8" fill="none" stroke="#ff0000" stroke-width="1.0"/>
<path d="M276.00,365.00V424.90H443.60" fill="none" stroke="#262626" stroke-width="1"/>
<line x1="276.00" y1="373.80" x2="278.60" y2="373.80" stroke="#262626" stroke-width="0.9"/>
<text x="270.00" y="377.20" font-size="9.8" text-anchor="end" font-weight="normal" fill="#000" >0.5</text>
<line x1="276.00" y1="384.70" x2="277.50" y2="384.70" stroke="#262626" stroke-width="0.9"/>
<line x1="276.00" y1="395.60" x2="278.60" y2="395.60" stroke="#262626" stroke-width="0.9"/>
<text x="270.00" y="399.00" font-size="9.8" text-anchor="end" font-weight="normal" fill="#000" >0.0</text>
<line x1="276.00" y1="406.15" x2="277.50" y2="406.15" stroke="#262626" stroke-width="0.9"/>
<line x1="276.00" y1="416.70" x2="278.60" y2="416.70" stroke="#262626" stroke-width="0.9"/>
<text x="270.00" y="420.10" font-size="9.8" text-anchor="end" font-weight="normal" fill="#000" >−0.5</text>
<line x1="276.00" y1="424.90" x2="276.00" y2="422.80" stroke="#262626" stroke-width="0.9"/>
<text x="276.00" y="437.40" font-size="9.8" text-anchor="middle" font-weight="normal" fill="#000" >0</text>
<line x1="286.48" y1="424.90" x2="286.48" y2="423.90" stroke="#262626" stroke-width="0.9"/>
<line x1="296.95" y1="424.90" x2="296.95" y2="422.80" stroke="#262626" stroke-width="0.9"/>
<text x="296.95" y="437.40" font-size="9.8" text-anchor="middle" font-weight="normal" fill="#000" >1</text>
<line x1="307.43" y1="424.90" x2="307.43" y2="423.90" stroke="#262626" stroke-width="0.9"/>
<line x1="317.90" y1="424.90" x2="317.90" y2="422.80" stroke="#262626" stroke-width="0.9"/>
<text x="317.90" y="437.40" font-size="9.8" text-anchor="middle" font-weight="normal" fill="#000" >2</text>
<line x1="328.38" y1="424.90" x2="328.38" y2="423.90" stroke="#262626" stroke-width="0.9"/>
<line x1="338.85" y1="424.90" x2="338.85" y2="422.80" stroke="#262626" stroke-width="0.9"/>
<text x="338.85" y="437.40" font-size="9.8" text-anchor="middle" font-weight="normal" fill="#000" >3</text>
<line x1="349.33" y1="424.90" x2="349.33" y2="423.90" stroke="#262626" stroke-width="0.9"/>
<line x1="359.80" y1="424.90" x2="359.80" y2="422.80" stroke="#262626" stroke-width="0.9"/>
<text x="359.80" y="437.40" font-size="9.8" text-anchor="middle" font-weight="normal" fill="#000" >4</text>
<line x1="370.28" y1="424.90" x2="370.28" y2="423.90" stroke="#262626" stroke-width="0.9"/>
<line x1="380.75" y1="424.90" x2="380.75" y2="422.80" stroke="#262626" stroke-width="0.9"/>
<text x="380.75" y="437.40" font-size="9.8" text-anchor="middle" font-weight="normal" fill="#000" >5</text>
<line x1="391.23" y1="424.90" x2="391.23" y2="423.90" stroke="#262626" stroke-width="0.9"/>
<line x1="401.70" y1="424.90" x2="401.70" y2="422.80" stroke="#262626" stroke-width="0.9"/>
<text x="401.70" y="437.40" font-size="9.8" text-anchor="middle" font-weight="normal" fill="#000" >6</text>
<line x1="412.18" y1="424.90" x2="412.18" y2="423.90" stroke="#262626" stroke-width="0.9"/>
<line x1="422.65" y1="424.90" x2="422.65" y2="422.80" stroke="#262626" stroke-width="0.9"/>
<text x="422.65" y="437.40" font-size="9.8" text-anchor="middle" font-weight="normal" fill="#000" >7</text>
<line x1="433.12" y1="424.90" x2="433.12" y2="423.90" stroke="#262626" stroke-width="0.9"/>
<line x1="443.60" y1="424.90" x2="443.60" y2="422.80" stroke="#262626" stroke-width="0.9"/>
<text x="443.60" y="437.40" font-size="9.8" text-anchor="middle" font-weight="normal" fill="#000" >8</text>
<text x="359.80" y="453.30" font-size="10.5" text-anchor="middle" font-weight="normal" fill="#000" >Time (s)</text>
<text transform="translate(241.50,394.95) rotate(-90)" font-size="10.5" text-anchor="middle">sEMG (V)</text>
<text x="444.60" y="377.80" font-size="7.5" text-anchor="end" font-weight="normal" fill="#1a1a1a" >SNR = 7.1 ± 0.3 dB</text>
<text x="445.40" y="420.00" font-size="7.4" text-anchor="end" font-weight="normal" fill="#1a1a1a" >Ag/AgCl electrode</text>
<path d="M510.00 303.4V309.8M510.50 303.2V309.7M511.00 303.3V309.5M511.50 303.7V309.0M512.00 303.4V309.1M512.50 303.3V309.7M513.00 303.9V309.7M513.50 303.4V309.6M514.00 304.0V309.1M514.50 304.0V309.8M515.00 303.9V309.3M515.50 303.4V309.3M516.00 303.5V309.5M516.50 303.8V309.7M517.00 303.5V309.6M517.50 303.4V309.5M518.00 304.0V309.7M518.50 303.2V309.0M519.00 303.8V309.1M519.50 304.0V309.4M520.00 303.7V309.0M520.50 303.7V309.5M521.00 304.0V309.5M521.50 303.5V309.7M522.00 303.2V309.7M522.50 303.8V309.0M523.00 303.8V309.0M523.50 303.3V309.2M524.00 303.6V309.6M524.50 303.7V309.8M525.00 303.5V309.4M525.50 304.0V309.1M526.00 303.5V309.3M526.50 303.6V309.7M527.00 303.5V309.7M527.50 303.8V308.9M528.00 303.9V309.7M528.50 303.9V309.0M529.00 304.1V309.8M529.50 303.9V309.0M530.00 303.8V308.9M530.50 303.4V309.5M531.00 303.7V309.6M531.50 304.1V309.6M532.00 303.5V309.6M532.50 304.0V309.8M533.00 303.2V309.3M533.50 303.8V309.4M534.00 303.5V309.3M534.50 303.6V309.8M535.00 303.5V309.2M535.50 303.3V309.6M536.00 304.1V309.3M536.50 303.8V309.2M537.00 303.8V309.7M537.50 303.6V309.1M538.00 303.2V309.8M538.50 303.2V309.8M539.00 301.1V309.8M539.50 301.5V309.8M540.00 299.1V313.8M540.50 302.8V312.8M541.00 303.2V311.9M541.50 303.2V311.6M542.00 300.0V315.8M542.50 301.9V313.5M543.00 297.9V313.8M543.50 303.2V316.0M544.00 301.9V310.0M544.50 303.2V313.0M545.00 301.0V310.8M545.50 303.2V314.8M546.00 303.2V309.8M546.50 300.8V310.5M547.00 303.2V309.8M547.50 303.2V309.8M548.00 303.3V308.9M548.50 303.3V309.3M549.00 303.4V309.2M549.50 303.2V309.5M550.00 303.6V309.0M550.50 303.6V309.1M551.00 303.5V309.2M551.50 303.9V309.0M552.00 303.9V309.0M552.50 303.9V309.4M553.00 303.3V309.6M553.50 303.8V309.7M554.00 303.8V309.3M554.50 303.6V309.4M555.00 303.7V309.5M555.50 303.9V309.1M556.00 303.8V309.3M556.50 303.9V309.4M557.00 304.0V309.3M557.50 303.7V309.4M558.00 304.0V309.5M558.50 303.7V309.7M559.00 304.0V309.3M559.50 303.4V309.8M560.00 303.4V309.7M560.50 303.7V309.1M561.00 303.9V309.5M561.50 303.5V309.3M562.00 303.9V309.7M562.50 303.8V309.1M563.00 303.3V309.6M563.50 303.5V309.6M564.00 303.5V309.5M564.50 303.8V309.0M565.00 303.3V309.0M565.50 303.4V309.2M566.00 303.4V309.7M566.50 303.4V308.9M567.00 303.3V309.1M567.50 303.9V309.8M568.00 303.3V309.0M568.50 303.3V309.1M569.00 303.5V309.6M569.50 304.1V309.1M570.00 304.0V309.0M570.50 303.3V308.9M571.00 303.8V309.7M571.50 304.1V309.3M572.00 303.3V309.7M572.50 303.4V308.9M573.00 304.1V309.6M573.50 303.7V309.3M574.00 303.5V309.6M574.50 303.9V309.8M575.00 303.8V309.7M575.50 304.0V308.9M576.00 303.6V309.6M576.50 303.5V308.9M577.00 303.3V309.7M577.50 303.3V309.5M578.00 304.1V309.3M578.50 303.9V309.1M579.00 303.7V309.7M579.50 303.5V309.8M580.00 303.8V309.0M580.50 303.4V309.7M581.00 303.6V309.1M581.50 303.2V309.8M582.00 302.8V310.2M582.50 303.2V309.8M583.00 302.7V314.4M583.50 303.2V309.8M584.00 300.8V310.7M584.50 302.7V318.2M585.00 298.9V314.2M585.50 299.3V312.7M586.00 303.2V312.0M586.50 296.8V313.8M587.00 297.9V313.8M587.50 303.2V316.2M588.00 303.0V315.8M588.50 296.2V321.1M589.00 303.1V310.8M589.50 303.2V316.9M590.00 302.0V310.0M590.50 302.2V312.5M591.00 303.2V313.6M591.50 302.8V312.1M592.00 303.2V311.7M592.50 301.0V311.2M593.00 302.7V313.3M593.50 302.8V311.8M594.00 303.2V309.8M594.50 303.2V309.8M595.00 303.3V309.2M595.50 303.4V309.0M596.00 303.6V308.9M596.50 303.6V309.6M597.00 303.9V309.5M597.50 303.4V309.3M598.00 303.9V309.5M598.50 303.3V309.8M599.00 303.2V309.7M599.50 303.8V309.6M600.00 303.4V309.3M600.50 303.3V309.0M601.00 303.4V309.5M601.50 303.9V309.0M602.00 303.5V309.0M602.50 303.8V309.7M603.00 303.4V309.2M603.50 303.7V309.1M604.00 303.4V309.4M604.50 303.5V309.1M605.00 303.3V309.1M605.50 303.5V309.8M606.00 303.3V308.9M606.50 303.6V309.5M607.00 303.7V309.1M607.50 303.9V309.2M608.00 303.5V309.4M608.50 303.3V309.1M609.00 303.5V309.8M609.50 303.8V309.2M610.00 303.8V309.0M610.50 303.9V309.6M611.00 303.8V309.1M611.50 303.3V308.9M612.00 303.8V309.1M612.50 303.8V309.0M613.00 303.5V309.1M613.50 303.5V309.0M614.00 303.3V309.0M614.50 303.4V309.0M615.00 303.7V309.4M615.50 304.0V309.4M616.00 303.5V309.3M616.50 303.4V309.4M617.00 304.1V309.6M617.50 303.2V309.0M618.00 304.0V309.4M618.50 303.5V309.3M619.00 304.0V309.3M619.50 303.8V309.4M620.00 303.3V309.3M620.50 303.2V309.7M621.00 303.9V309.3M621.50 304.0V309.0M622.00 303.6V308.9M622.50 303.4V309.5M623.00 303.2V309.6M623.50 303.3V309.2M624.00 303.2V309.1M624.50 303.3V309.7M625.00 303.4V309.6M625.50 303.9V309.6M626.00 303.9V309.1M626.50 304.0V309.6M627.00 303.4V309.3M627.50 304.1V309.0M628.00 303.4V309.5M628.50 303.9V309.7M629.00 303.6V308.9M629.50 303.2V309.2M630.00 303.7V309.7M630.50 303.3V309.1M631.00 303.3V309.1M631.50 304.1V309.0M632.00 304.0V309.4M632.50 303.9V309.7M633.00 303.8V309.0M633.50 303.7V309.0M634.00 304.1V309.7M634.50 304.0V309.0M635.00 303.9V309.0M635.50 303.7V309.5M636.00 303.8V309.4M636.50 304.1V309.0M637.00 303.2V309.8M637.50 303.2V309.8M638.00 302.0V310.3M638.50 301.2V312.2M639.00 299.8V315.8M639.50 298.7V311.9M640.00 299.6V313.7M640.50 300.8V310.6M641.00 298.0V313.8M641.50 301.0V319.8M642.00 294.5V315.4M642.50 303.2V313.6M643.00 297.4V318.8M643.50 297.1V313.2M644.00 299.4V310.9M644.50 301.2V313.1M645.00 301.1V312.9M645.50 302.6V311.0M646.00 303.2V309.8M646.50 303.2V309.8M647.00 303.2V309.8M647.50 303.8V309.2M648.00 303.2V309.7M648.50 303.9V309.5M649.00 303.2V309.7M649.50 303.7V309.6M650.00 303.9V309.6M650.50 303.9V309.6M651.00 303.8V309.7M651.50 304.0V309.2M652.00 303.9V309.3M652.50 304.1V309.0M653.00 303.9V308.9M653.50 303.5V309.7M654.00 303.2V309.3M654.50 303.8V309.4M655.00 303.8V308.9M655.50 303.8V309.6M656.00 303.9V309.1M656.50 303.8V309.6M657.00 303.8V309.2M657.50 303.9V309.0M658.00 303.3V309.8M658.50 303.4V309.4M659.00 303.8V309.5M659.50 303.6V309.1M660.00 303.5V309.7M660.50 303.5V309.2M661.00 303.2V309.7M661.50 303.5V309.2M662.00 303.9V309.7M662.50 303.9V309.0M663.00 303.9V309.7M663.50 303.4V309.7M664.00 303.3V309.6M664.50 303.6V309.6M665.00 303.6V309.8M665.50 303.8V308.9M666.00 303.4V309.4M666.50 303.3V309.3M667.00 303.6V309.0M667.50 303.7V309.0M668.00 304.1V309.0M668.50 303.5V309.7M669.00 304.1V309.6M669.50 303.6V309.3M670.00 304.1V309.8M670.50 303.5V309.0M671.00 303.7V309.2M671.50 303.8V309.0M672.00 303.2V309.3M672.50 304.0V309.1M673.00 303.8V309.8M673.50 303.6V309.3M674.00 303.3V308.9M674.50 303.5V308.9M675.00 303.6V309.5M675.50 303.5V309.5M676.00 303.7V309.8M676.50 303.4V308.9M677.00 304.1V309.0M677.50 303.7V309.0" fill="none" stroke="#ff0000" stroke-width="1.0"/>
<path d="M510.00,276.00V335.40H677.67" fill="none" stroke="#262626" stroke-width="1"/>
<line x1="510.00" y1="284.60" x2="512.60" y2="284.60" stroke="#262626" stroke-width="0.9"/>
<text x="504.00" y="288.00" font-size="9.8" text-anchor="end" font-weight="normal" fill="#000" >0.5</text>
<line x1="510.00" y1="295.55" x2="511.50" y2="295.55" stroke="#262626" stroke-width="0.9"/>
<line x1="510.00" y1="306.50" x2="512.60" y2="306.50" stroke="#262626" stroke-width="0.9"/>
<text x="504.00" y="309.90" font-size="9.8" text-anchor="end" font-weight="normal" fill="#000" >0.0</text>
<line x1="510.00" y1="317.05" x2="511.50" y2="317.05" stroke="#262626" stroke-width="0.9"/>
<line x1="510.00" y1="327.60" x2="512.60" y2="327.60" stroke="#262626" stroke-width="0.9"/>
<text x="504.00" y="331.00" font-size="9.8" text-anchor="end" font-weight="normal" fill="#000" >−0.5</text>
<line x1="510.00" y1="335.40" x2="510.00" y2="333.30" stroke="#262626" stroke-width="0.9"/>
<text x="510.00" y="347.80" font-size="9.8" text-anchor="middle" font-weight="normal" fill="#000" >0</text>
<line x1="519.32" y1="335.40" x2="519.32" y2="334.40" stroke="#262626" stroke-width="0.9"/>
<line x1="528.63" y1="335.40" x2="528.63" y2="333.30" stroke="#262626" stroke-width="0.9"/>
<text x="528.63" y="347.80" font-size="9.8" text-anchor="middle" font-weight="normal" fill="#000" >1</text>
<line x1="537.95" y1="335.40" x2="537.95" y2="334.40" stroke="#262626" stroke-width="0.9"/>
<line x1="547.26" y1="335.40" x2="547.26" y2="333.30" stroke="#262626" stroke-width="0.9"/>
<text x="547.26" y="347.80" font-size="9.8" text-anchor="middle" font-weight="normal" fill="#000" >2</text>
<line x1="556.58" y1="335.40" x2="556.58" y2="334.40" stroke="#262626" stroke-width="0.9"/>
<line x1="565.89" y1="335.40" x2="565.89" y2="333.30" stroke="#262626" stroke-width="0.9"/>
<text x="565.89" y="347.80" font-size="9.8" text-anchor="middle" font-weight="normal" fill="#000" >3</text>
<line x1="575.21" y1="335.40" x2="575.21" y2="334.40" stroke="#262626" stroke-width="0.9"/>
<line x1="584.52" y1="335.40" x2="584.52" y2="333.30" stroke="#262626" stroke-width="0.9"/>
<text x="584.52" y="347.80" font-size="9.8" text-anchor="middle" font-weight="normal" fill="#000" >4</text>
<line x1="593.84" y1="335.40" x2="593.84" y2="334.40" stroke="#262626" stroke-width="0.9"/>
<line x1="603.15" y1="335.40" x2="603.15" y2="333.30" stroke="#262626" stroke-width="0.9"/>
<text x="603.15" y="347.80" font-size="9.8" text-anchor="middle" font-weight="normal" fill="#000" >5</text>
<line x1="612.47" y1="335.40" x2="612.47" y2="334.40" stroke="#262626" stroke-width="0.9"/>
<line x1="621.78" y1="335.40" x2="621.78" y2="333.30" stroke="#262626" stroke-width="0.9"/>
<text x="621.78" y="347.80" font-size="9.8" text-anchor="middle" font-weight="normal" fill="#000" >6</text>
<line x1="631.10" y1="335.40" x2="631.10" y2="334.40" stroke="#262626" stroke-width="0.9"/>
<line x1="640.41" y1="335.40" x2="640.41" y2="333.30" stroke="#262626" stroke-width="0.9"/>
<text x="640.41" y="347.80" font-size="9.8" text-anchor="middle" font-weight="normal" fill="#000" >7</text>
<line x1="649.73" y1="335.40" x2="649.73" y2="334.40" stroke="#262626" stroke-width="0.9"/>
<line x1="659.04" y1="335.40" x2="659.04" y2="333.30" stroke="#262626" stroke-width="0.9"/>
<text x="659.04" y="347.80" font-size="9.8" text-anchor="middle" font-weight="normal" fill="#000" >8</text>
<line x1="668.36" y1="335.40" x2="668.36" y2="334.40" stroke="#262626" stroke-width="0.9"/>
<line x1="677.67" y1="335.40" x2="677.67" y2="333.30" stroke="#262626" stroke-width="0.9"/>
<text x="677.67" y="347.80" font-size="9.8" text-anchor="middle" font-weight="normal" fill="#000" >9</text>
<text x="593.84" y="362.30" font-size="10.5" text-anchor="middle" font-weight="normal" fill="#000" >Time (s)</text>
<text transform="translate(475.50,305.70) rotate(-90)" font-size="10.5" text-anchor="middle">sEMG (V)</text>
<text x="678.80" y="283.20" font-size="7.5" text-anchor="end" font-weight="normal" fill="#1a1a1a" >SNR = 6.6 ± 0.3 dB</text>
<text x="679.20" y="330.40" font-size="7.4" text-anchor="end" font-weight="normal" fill="#1a1a1a" >Hydrogel electrode</text>
<path d="M510.00 391.0V400.8M510.50 390.3V400.2M511.00 391.1V400.3M511.50 390.7V399.7M512.00 391.5V401.2M512.50 390.9V400.3M513.00 390.7V400.5M513.50 390.5V400.5M514.00 391.5V399.7M514.50 391.2V400.2M515.00 390.0V400.4M515.50 391.4V400.9M516.00 391.1V400.3M516.50 390.6V400.8M517.00 391.2V400.3M517.50 391.6V401.1M518.00 390.2V400.9M518.50 391.3V400.6M519.00 390.9V399.9M519.50 391.2V401.0M520.00 390.6V400.6M520.50 391.4V400.5M521.00 390.2V399.9M521.50 391.2V401.1M522.00 391.1V400.3M522.50 390.1V400.8M523.00 391.1V400.1M523.50 391.2V399.7M524.00 390.8V399.9M524.50 391.2V400.9M525.00 391.4V399.8M525.50 391.5V400.6M526.00 391.2V400.0M526.50 390.8V400.8M527.00 390.1V399.7M527.50 391.0V399.6M528.00 391.0V400.7M528.50 391.0V400.3M529.00 391.1V401.2M529.50 390.3V401.0M530.00 390.6V401.0M530.50 390.6V399.8M531.00 391.4V401.1M531.50 390.7V400.8M532.00 390.7V401.0M532.50 391.3V399.9M533.00 391.2V400.8M533.50 390.6V400.5M534.00 391.3V400.3M534.50 391.1V399.8M535.00 390.1V400.9M535.50 390.3V400.2M536.00 390.3V400.9M536.50 391.2V401.1M537.00 390.3V399.7M537.50 391.4V399.8M538.00 390.5V399.9M538.50 391.3V399.7M539.00 390.9V400.1M539.50 390.0V401.2M540.00 390.0V402.9M540.50 390.0V401.2M541.00 390.0V401.2M541.50 390.0V405.4M542.00 388.3V404.0M542.50 390.0V403.4M543.00 390.0V401.2M543.50 389.4V401.2M544.00 386.4V401.2M544.50 388.5V409.8M545.00 390.0V401.2M545.50 390.0V405.6M546.00 384.9V407.3M546.50 389.8V408.3M547.00 390.0V404.4M547.50 389.8V401.2M548.00 389.4V405.5M548.50 390.0V401.2M549.00 390.0V403.6M549.50 390.0V401.2M550.00 390.0V401.2M550.50 390.0V401.2M551.00 390.0V401.2M551.50 390.0V401.2M552.00 391.1V401.1M552.50 391.1V400.5M553.00 391.5V401.2M553.50 390.8V400.4M554.00 390.1V400.3M554.50 391.5V400.2M555.00 391.5V399.7M555.50 390.2V400.9M556.00 390.4V400.6M556.50 391.0V400.5M557.00 391.1V400.6M557.50 390.4V400.2M558.00 391.2V400.1M558.50 391.2V401.1M559.00 390.3V400.1M559.50 391.4V400.4M560.00 390.4V400.1M560.50 390.4V400.2M561.00 391.3V400.9M561.50 390.5V400.2M562.00 390.5V400.1M562.50 390.4V400.7M563.00 390.7V400.1M563.50 390.6V400.0M564.00 390.1V400.5M564.50 390.4V399.7M565.00 391.4V400.1M565.50 391.3V400.2M566.00 390.6V400.8M566.50 391.4V400.7M567.00 391.4V400.8M567.50 390.2V400.7M568.00 391.0V400.2M568.50 390.4V401.0M569.00 391.4V400.0M569.50 390.2V400.8M570.00 391.2V399.9M570.50 391.5V400.1M571.00 390.2V400.5M571.50 391.3V399.9M572.00 391.4V400.2M572.50 391.4V399.8M573.00 390.7V399.9M573.50 391.6V399.7M574.00 390.4V400.7M574.50 391.6V401.1M575.00 390.2V399.6M575.50 390.2V399.6M576.00 391.2V399.8M576.50 390.7V400.7M577.00 391.2V400.5M577.50 390.3V399.7M578.00 391.3V400.8M578.50 391.6V400.1M579.00 391.2V400.5M579.50 391.6V399.6M580.00 390.6V400.8M580.50 391.5V400.6M581.00 391.2V400.9M581.50 390.5V400.6M582.00 391.2V400.3M582.50 390.0V400.4M583.00 390.5V400.8M583.50 391.1V400.1M584.00 390.1V400.7M584.50 391.3V400.5M585.00 390.0V401.2M585.50 390.0V401.2M586.00 390.0V401.2M586.50 390.0V401.2M587.00 389.9V401.8M587.50 389.6V401.2M588.00 389.4V401.2M588.50 384.9V402.1M589.00 385.1V402.3M589.50 388.1V403.3M590.00 383.4V401.2M590.50 390.0V401.9M591.00 381.8V401.2M591.50 390.0V401.2M592.00 387.9V401.2M592.50 390.0V401.2M593.00 390.0V404.2M593.50 390.0V401.2M594.00 390.0V401.2M594.50 390.0V401.2M595.00 390.0V401.2M595.50 388.2V401.2M596.00 390.0V401.2M596.50 390.0V401.2M597.00 390.0V401.2M597.50 391.0V400.2M598.00 390.6V401.2M598.50 390.6V400.9M599.00 390.9V399.7M599.50 390.2V400.4M600.00 390.5V400.1M600.50 390.3V399.9M601.00 390.7V401.1M601.50 390.4V399.7M602.00 390.2V401.1M602.50 390.1V400.0M603.00 391.6V400.5M603.50 390.6V399.8M604.00 390.8V399.7M604.50 391.4V401.1M605.00 390.6V400.1M605.50 390.7V399.8M606.00 391.0V400.7M606.50 391.1V399.8M607.00 390.1V399.8M607.50 390.6V400.3M608.00 390.7V400.8M608.50 391.2V400.3M609.00 391.1V400.3M609.50 390.6V400.3M610.00 390.3V400.7M610.50 390.5V400.2M611.00 391.1V400.5M611.50 390.6V400.4M612.00 390.0V399.9M612.50 390.7V401.2M613.00 391.1V400.8M613.50 390.5V401.0M614.00 391.0V400.1M614.50 390.4V400.8M615.00 390.6V400.4M615.50 391.4V400.4M616.00 391.0V400.8M616.50 390.0V400.4M617.00 390.3V400.2M617.50 390.9V400.7M618.00 391.3V400.4M618.50 391.5V400.2M619.00 390.2V401.2M619.50 391.2V400.5M620.00 390.8V399.7M620.50 391.3V400.7M621.00 391.4V401.0M621.50 390.1V400.1M622.00 391.5V399.7M622.50 391.4V401.0M623.00 390.6V401.2M623.50 390.6V400.8M624.00 390.9V400.6M624.50 390.1V399.9M625.00 391.4V399.7M625.50 391.0V400.1M626.00 391.1V400.3M626.50 390.8V400.4M627.00 391.1V401.0M627.50 391.3V400.8M628.00 390.5V399.7M628.50 391.0V401.1M629.00 390.8V399.8M629.50 390.3V399.9M630.00 390.7V400.8M630.50 391.6V401.2M631.00 391.5V399.6M631.50 391.2V399.7M632.00 390.6V400.3M632.50 390.8V400.5M633.00 391.4V400.2M633.50 390.1V401.0M634.00 390.7V400.4M634.50 390.3V401.1M635.00 391.5V400.3M635.50 390.0V400.8M636.00 390.6V400.7M636.50 391.5V400.7M637.00 390.8V399.7M637.50 391.4V399.9M638.00 391.0V400.0M638.50 390.6V400.7M639.00 390.3V400.6M639.50 390.0V401.2M640.00 390.0V401.2M640.50 390.0V401.2M641.00 390.0V405.8M641.50 390.0V404.6M642.00 390.0V401.2M642.50 389.8V401.2M643.00 390.0V404.3M643.50 387.5V402.8M644.00 390.0V402.0M644.50 387.4V402.7M645.00 384.9V407.2M645.50 390.0V402.7M646.00 390.0V401.2M646.50 390.0V401.2M647.00 387.9V403.4M647.50 390.0V401.2M648.00 390.0V401.2M648.50 391.2V400.8M649.00 391.5V399.9M649.50 391.5V400.2M650.00 390.9V400.7M650.50 391.2V399.7M651.00 390.7V399.8M651.50 390.4V400.5M652.00 391.0V400.5M652.50 391.5V400.5M653.00 390.8V401.1M653.50 390.1V401.0M654.00 391.5V400.0M654.50 390.0V401.1M655.00 390.1V400.7M655.50 391.3V400.2M656.00 391.0V400.9M656.50 391.3V400.5M657.00 390.7V401.1M657.50 390.3V400.8M658.00 390.4V400.3M658.50 391.0V400.4M659.00 391.3V401.1M659.50 391.5V400.5M660.00 390.1V401.1M660.50 391.2V400.1M661.00 391.2V401.2M661.50 390.3V400.2M662.00 390.0V400.5M662.50 391.1V400.6M663.00 390.6V401.0M663.50 391.1V401.2M664.00 390.4V400.0M664.50 391.2V399.8M665.00 390.2V400.3M665.50 390.2V400.6M666.00 391.5V399.8M666.50 390.5V399.9M667.00 391.4V400.8M667.50 390.0V400.2M668.00 390.0V401.2M668.50 390.8V400.5M669.00 391.2V401.1M669.50 390.1V400.8M670.00 391.0V400.1M670.50 391.5V401.1M671.00 390.6V400.1M671.50 391.4V400.6M672.00 390.0V400.9M672.50 391.4V400.7M673.00 391.5V401.1M673.50 390.4V400.3M674.00 390.6V400.4M674.50 390.8V400.5M675.00 390.2V400.7M675.50 390.0V400.4M676.00 390.3V400.6M676.50 390.4V400.9M677.00 390.8V401.0M677.50 391.0V399.7" fill="none" stroke="#ff0000" stroke-width="1.0"/>
<path d="M510.00,365.00V424.90H677.67" fill="none" stroke="#262626" stroke-width="1"/>
<line x1="510.00" y1="373.80" x2="512.60" y2="373.80" stroke="#262626" stroke-width="0.9"/>
<text x="504.00" y="377.20" font-size="9.8" text-anchor="end" font-weight="normal" fill="#000" >0.5</text>
<line x1="510.00" y1="384.70" x2="511.50" y2="384.70" stroke="#262626" stroke-width="0.9"/>
<line x1="510.00" y1="395.60" x2="512.60" y2="395.60" stroke="#262626" stroke-width="0.9"/>
<text x="504.00" y="399.00" font-size="9.8" text-anchor="end" font-weight="normal" fill="#000" >0.0</text>
<line x1="510.00" y1="406.15" x2="511.50" y2="406.15" stroke="#262626" stroke-width="0.9"/>
<line x1="510.00" y1="416.70" x2="512.60" y2="416.70" stroke="#262626" stroke-width="0.9"/>
<text x="504.00" y="420.10" font-size="9.8" text-anchor="end" font-weight="normal" fill="#000" >−0.5</text>
<line x1="510.00" y1="424.90" x2="510.00" y2="422.80" stroke="#262626" stroke-width="0.9"/>
<text x="510.00" y="437.40" font-size="9.8" text-anchor="middle" font-weight="normal" fill="#000" >0</text>
<line x1="519.32" y1="424.90" x2="519.32" y2="423.90" stroke="#262626" stroke-width="0.9"/>
<line x1="528.63" y1="424.90" x2="528.63" y2="422.80" stroke="#262626" stroke-width="0.9"/>
<text x="528.63" y="437.40" font-size="9.8" text-anchor="middle" font-weight="normal" fill="#000" >1</text>
<line x1="537.95" y1="424.90" x2="537.95" y2="423.90" stroke="#262626" stroke-width="0.9"/>
<line x1="547.26" y1="424.90" x2="547.26" y2="422.80" stroke="#262626" stroke-width="0.9"/>
<text x="547.26" y="437.40" font-size="9.8" text-anchor="middle" font-weight="normal" fill="#000" >2</text>
<line x1="556.58" y1="424.90" x2="556.58" y2="423.90" stroke="#262626" stroke-width="0.9"/>
<line x1="565.89" y1="424.90" x2="565.89" y2="422.80" stroke="#262626" stroke-width="0.9"/>
<text x="565.89" y="437.40" font-size="9.8" text-anchor="middle" font-weight="normal" fill="#000" >3</text>
<line x1="575.21" y1="424.90" x2="575.21" y2="423.90" stroke="#262626" stroke-width="0.9"/>
<line x1="584.52" y1="424.90" x2="584.52" y2="422.80" stroke="#262626" stroke-width="0.9"/>
<text x="584.52" y="437.40" font-size="9.8" text-anchor="middle" font-weight="normal" fill="#000" >4</text>
<line x1="593.84" y1="424.90" x2="593.84" y2="423.90" stroke="#262626" stroke-width="0.9"/>
<line x1="603.15" y1="424.90" x2="603.15" y2="422.80" stroke="#262626" stroke-width="0.9"/>
<text x="603.15" y="437.40" font-size="9.8" text-anchor="middle" font-weight="normal" fill="#000" >5</text>
<line x1="612.47" y1="424.90" x2="612.47" y2="423.90" stroke="#262626" stroke-width="0.9"/>
<line x1="621.78" y1="424.90" x2="621.78" y2="422.80" stroke="#262626" stroke-width="0.9"/>
<text x="621.78" y="437.40" font-size="9.8" text-anchor="middle" font-weight="normal" fill="#000" >6</text>
<line x1="631.10" y1="424.90" x2="631.10" y2="423.90" stroke="#262626" stroke-width="0.9"/>
<line x1="640.41" y1="424.90" x2="640.41" y2="422.80" stroke="#262626" stroke-width="0.9"/>
<text x="640.41" y="437.40" font-size="9.8" text-anchor="middle" font-weight="normal" fill="#000" >7</text>
<line x1="649.73" y1="424.90" x2="649.73" y2="423.90" stroke="#262626" stroke-width="0.9"/>
<line x1="659.04" y1="424.90" x2="659.04" y2="422.80" stroke="#262626" stroke-width="0.9"/>
<text x="659.04" y="437.40" font-size="9.8" text-anchor="middle" font-weight="normal" fill="#000" >8</text>
<line x1="668.36" y1="424.90" x2="668.36" y2="423.90" stroke="#262626" stroke-width="0.9"/>
<line x1="677.67" y1="424.90" x2="677.67" y2="422.80" stroke="#262626" stroke-width="0.9"/>
<text x="677.67" y="437.40" font-size="9.8" text-anchor="middle" font-weight="normal" fill="#000" >9</text>
<text x="593.84" y="453.30" font-size="10.5" text-anchor="middle" font-weight="normal" fill="#000" >Time (s)</text>
<text transform="translate(475.50,394.95) rotate(-90)" font-size="10.5" text-anchor="middle">sEMG (V)</text>
<text x="678.80" y="377.80" font-size="7.5" text-anchor="end" font-weight="normal" fill="#1a1a1a" >SNR = 2.9 ± 0.3 dB</text>
<text x="679.20" y="420.00" font-size="7.4" text-anchor="end" font-weight="normal" fill="#1a1a1a" >Ag/AgCl electrode</text>
<path d="M44.50 507.8V511.5M45.00 507.4V511.3M45.50 507.2V511.5M46.00 507.4V511.7M46.50 507.8V511.7M47.00 507.8V511.4M47.50 507.4V511.3M48.00 507.5V511.3M48.50 507.3V511.8M49.00 507.7V511.7M49.50 507.5V511.8M50.00 507.6V511.8M50.50 507.3V511.2M51.00 507.4V511.6M51.50 507.4V511.3M52.00 507.5V511.8M52.50 507.2V511.6M53.00 507.3V511.8M53.50 507.8V511.5M54.00 507.5V511.7M54.50 507.7V511.2M55.00 507.4V511.2M55.50 507.7V511.3M56.00 507.5V511.8M56.50 507.7V511.3M57.00 507.4V511.7M57.50 507.1V511.8M58.00 507.6V511.5M58.50 507.8V511.7M59.00 507.3V511.7M59.50 507.2V511.4M60.00 507.8V511.6M60.50 507.4V511.8M61.00 507.7V511.7M61.50 507.5V511.2M62.00 507.3V511.5M62.50 507.6V511.6M63.00 507.4V511.8M63.50 507.6V511.4M64.00 507.3V511.8M64.50 507.3V511.8M65.00 507.6V511.6M65.50 507.3V511.4M66.00 507.6V511.3M66.50 507.5V511.7M67.00 507.4V511.4M67.50 507.6V511.3M68.00 507.8V511.6M68.50 507.7V511.8M69.00 507.8V511.7M69.50 507.5V511.5M70.00 507.6V511.6M70.50 507.6V511.4M71.00 507.4V511.5M71.50 505.3V511.7M72.00 507.7V511.6M72.50 507.8V511.5M73.00 507.3V511.4M73.50 507.7V511.2M74.00 507.7V511.6M74.50 507.7V511.3M75.00 507.7V511.5M75.50 507.7V511.7M76.00 507.2V514.5M76.50 503.0V519.7M77.00 499.8V523.3M77.50 501.5V514.9M78.00 499.5V516.5M78.50 504.4V516.2M79.00 492.6V514.4M79.50 505.3V514.0M80.00 504.8V514.4M80.50 489.0V515.5M81.00 501.7V514.6M81.50 492.2V513.4M82.00 498.9V527.1M82.50 501.2V515.3M83.00 498.1V517.0M83.50 504.1V519.0M84.00 495.3V515.0M84.50 491.7V515.1M85.00 501.8V522.4M85.50 493.7V523.4M86.00 498.0V517.3M86.50 499.8V514.6M87.00 506.1V512.7M87.50 501.3V513.0M88.00 502.4V513.6M88.50 506.5V513.6M89.00 505.0V512.1M89.50 506.5V514.7M90.00 504.1V513.0M90.50 507.2V511.8M91.00 507.2V511.8M91.50 507.2V511.8M92.00 507.7V511.5M92.50 507.2V511.7M93.00 507.6V511.4M93.50 507.5V511.8M94.00 507.8V511.8M94.50 507.5V511.6M95.00 507.7V511.6M95.50 507.2V511.8M96.00 507.3V511.5M96.50 507.7V511.6M97.00 506.4V511.7M97.50 507.4V511.6M98.00 507.2V511.8M98.50 507.4V511.4M99.00 507.5V511.5M99.50 507.7V511.4M100.00 507.7V511.2M100.50 507.7V511.5M101.00 507.6V511.4M101.50 507.7V511.5M102.00 507.8V511.3M102.50 507.2V511.8M103.00 506.7V511.8M103.50 506.4V511.9M104.00 506.8V511.8M104.50 507.2V511.8M105.00 507.6V511.4M105.50 507.4V511.6M106.00 507.6V511.8M106.50 507.5V511.6M107.00 507.4V511.8M107.50 507.7V511.5M108.00 507.4V511.6M108.50 506.5V511.5M109.00 507.7V511.6M109.50 507.2V511.6M110.00 507.5V511.6M110.50 507.8V511.4M111.00 507.6V511.5M111.50 507.4V511.8M112.00 507.7V511.4M112.50 507.7V511.7M113.00 507.4V511.7M113.50 507.8V511.8M114.00 507.5V511.8M114.50 507.7V511.5M115.00 507.5V511.2M115.50 507.7V511.6M116.00 507.5V511.5M116.50 507.6V511.6M117.00 507.5V511.3M117.50 507.6V511.3M118.00 507.4V511.6M118.50 507.5V511.2M119.00 507.5V511.7M119.50 507.5V511.4M120.00 507.5V511.4M120.50 507.5V511.6M121.00 507.2V511.8M121.50 507.2V513.0M122.00 506.5V514.8M122.50 502.1V513.6M123.00 505.6V514.0M123.50 498.9V518.1M124.00 499.0V515.0M124.50 505.2V513.6M125.00 499.0V513.4M125.50 503.1V515.2M126.00 501.9V513.7M126.50 504.5V522.4M127.00 503.3V511.9M127.50 495.4V521.3M128.00 499.9V517.7M128.50 503.3V514.5M129.00 501.7V512.7M129.50 502.8V515.9M130.00 499.7V515.6M130.50 502.7V513.0M131.00 506.9V511.8M131.50 506.4V513.4M132.00 506.5V512.3M132.50 507.6V511.5M133.00 507.2V511.4M133.50 507.7V511.3M134.00 507.4V511.6M134.50 507.7V511.5M135.00 507.6V511.8M135.50 507.6V511.2M136.00 507.4V511.3M136.50 507.4V511.3M137.00 507.2V511.4M137.50 507.7V511.4M138.00 507.2V511.4M138.50 507.7V511.7M139.00 507.3V511.4M139.50 507.2V511.8M140.00 507.2V513.5M140.50 507.1V511.8M141.00 507.3V511.5M141.50 507.4V511.3M142.00 507.5V511.2M142.50 507.2V511.8M143.00 507.6V511.8M143.50 507.8V511.4M144.00 507.4V511.2M144.50 507.3V511.4M145.00 507.3V511.5M145.50 507.5V511.7M146.00 507.2V511.7M146.50 507.5V511.6M147.00 507.8V511.8M147.50 507.3V511.8M148.00 507.2V511.5M148.50 507.8V511.4M149.00 507.3V511.5M149.50 507.6V511.6M150.00 507.4V511.2M150.50 507.8V511.4M151.00 507.3V511.3M151.50 507.8V511.3M152.00 507.2V511.2M152.50 507.5V511.6M153.00 507.8V511.2M153.50 507.5V511.6M154.00 507.4V511.8M154.50 507.3V511.7M155.00 507.4V511.6M155.50 507.3V511.4M156.00 507.4V511.8M156.50 507.7V511.3M157.00 507.5V511.7M157.50 507.4V511.5M158.00 507.4V511.5M158.50 507.7V511.8M159.00 507.5V511.2M159.50 507.3V511.4M160.00 507.5V511.2M160.50 507.6V511.5M161.00 507.2V511.8M161.50 507.3V511.3M162.00 507.5V511.8M162.50 507.4V511.7M163.00 507.5V511.3M163.50 507.7V511.7M164.00 507.2V511.6M164.50 507.7V511.5M165.00 507.7V511.8M165.50 507.5V511.4M166.00 507.6V511.8M166.50 507.6V511.6M167.00 507.6V511.5M167.50 507.6V511.5M168.00 507.5V511.5M168.50 507.2V511.8M169.00 505.5V513.7M169.50 502.7V512.5M170.00 500.4V515.8M170.50 500.4V515.3M171.00 498.2V513.5M171.50 499.2V512.6M172.00 503.0V514.2M172.50 498.1V519.5M173.00 496.6V520.1M173.50 505.3V517.8M174.00 503.7V517.0M174.50 505.9V515.4M175.00 503.7V513.7M175.50 498.8V515.3M176.00 498.9V513.4M176.50 501.3V512.4M177.00 502.0V511.8M177.50 504.8V513.0M178.00 506.5V511.8M178.50 507.2V511.8M179.00 507.7V512.0M179.50 507.8V511.7M180.00 507.4V511.4M180.50 507.3V511.5M181.00 507.2V511.3M181.50 507.4V511.6M182.00 507.4V511.3M182.50 507.6V511.3M183.00 507.3V511.5M183.50 507.6V511.8M184.00 507.5V511.5M184.50 507.7V511.5M185.00 507.4V511.3M185.50 507.2V511.3M186.00 507.2V511.5M186.50 507.5V514.0M187.00 507.7V511.6M187.50 507.7V511.5M188.00 507.4V511.5M188.50 507.2V511.2M189.00 507.2V511.9M189.50 507.1V511.9M190.00 506.9V511.8M190.50 506.7V511.8M191.00 506.5V511.8M191.50 506.9V511.8M192.00 507.2V511.8M192.50 507.2V512.1M193.00 507.2V511.8M193.50 507.5V511.5M194.00 507.6V511.4M194.50 507.2V511.7M195.00 507.6V511.3M195.50 507.8V513.1M196.00 507.8V511.4M196.50 507.3V511.4M197.00 507.4V511.8M197.50 507.8V511.5M198.00 507.8V511.3M198.50 507.3V511.5M199.00 507.4V511.3M199.50 507.8V511.8M200.00 507.5V511.7M200.50 507.6V511.7M201.00 507.7V511.5M201.50 507.3V511.8M202.00 507.8V511.8M202.50 507.4V511.8M203.00 507.3V511.3M203.50 507.3V511.5M204.00 507.2V511.4M204.50 507.6V511.7M205.00 507.4V511.8M205.50 507.5V511.8M206.00 507.3V511.3M206.50 507.4V511.3M207.00 507.4V511.8M207.50 507.3V511.8M208.00 507.8V511.3M208.50 507.2V511.3M209.00 507.3V511.3M209.50 507.7V511.6" fill="none" stroke="#ff0000" stroke-width="1.0"/>
<path d="M44.50,480.10V538.50H209.70" fill="none" stroke="#262626" stroke-width="1"/>
<line x1="44.50" y1="480.10" x2="47.10" y2="480.10" stroke="#262626" stroke-width="0.9"/>
<text x="38.50" y="483.50" font-size="9.8" text-anchor="end" font-weight="normal" fill="#000" >0.5</text>
<line x1="44.50" y1="494.80" x2="46.00" y2="494.80" stroke="#262626" stroke-width="0.9"/>
<line x1="44.50" y1="509.50" x2="47.10" y2="509.50" stroke="#262626" stroke-width="0.9"/>
<text x="38.50" y="512.90" font-size="9.8" text-anchor="end" font-weight="normal" fill="#000" >0.0</text>
<line x1="44.50" y1="524.00" x2="46.00" y2="524.00" stroke="#262626" stroke-width="0.9"/>
<line x1="44.50" y1="538.50" x2="47.10" y2="538.50" stroke="#262626" stroke-width="0.9"/>
<text x="38.50" y="541.90" font-size="9.8" text-anchor="end" font-weight="normal" fill="#000" >−0.5</text>
<line x1="44.50" y1="538.50" x2="44.50" y2="536.40" stroke="#262626" stroke-width="0.9"/>
<text x="44.50" y="551.30" font-size="9.8" text-anchor="middle" font-weight="normal" fill="#000" >0</text>
<line x1="56.30" y1="538.50" x2="56.30" y2="537.50" stroke="#262626" stroke-width="0.9"/>
<line x1="68.10" y1="538.50" x2="68.10" y2="536.40" stroke="#262626" stroke-width="0.9"/>
<text x="68.10" y="551.30" font-size="9.8" text-anchor="middle" font-weight="normal" fill="#000" >1</text>
<line x1="79.90" y1="538.50" x2="79.90" y2="537.50" stroke="#262626" stroke-width="0.9"/>
<line x1="91.70" y1="538.50" x2="91.70" y2="536.40" stroke="#262626" stroke-width="0.9"/>
<text x="91.70" y="551.30" font-size="9.8" text-anchor="middle" font-weight="normal" fill="#000" >2</text>
<line x1="103.50" y1="538.50" x2="103.50" y2="537.50" stroke="#262626" stroke-width="0.9"/>
<line x1="115.30" y1="538.50" x2="115.30" y2="536.40" stroke="#262626" stroke-width="0.9"/>
<text x="115.30" y="551.30" font-size="9.8" text-anchor="middle" font-weight="normal" fill="#000" >3</text>
<line x1="127.10" y1="538.50" x2="127.10" y2="537.50" stroke="#262626" stroke-width="0.9"/>
<line x1="138.90" y1="538.50" x2="138.90" y2="536.40" stroke="#262626" stroke-width="0.9"/>
<text x="138.90" y="551.30" font-size="9.8" text-anchor="middle" font-weight="normal" fill="#000" >4</text>
<line x1="150.70" y1="538.50" x2="150.70" y2="537.50" stroke="#262626" stroke-width="0.9"/>
<line x1="162.50" y1="538.50" x2="162.50" y2="536.40" stroke="#262626" stroke-width="0.9"/>
<text x="162.50" y="551.30" font-size="9.8" text-anchor="middle" font-weight="normal" fill="#000" >5</text>
<line x1="174.30" y1="538.50" x2="174.30" y2="537.50" stroke="#262626" stroke-width="0.9"/>
<line x1="186.10" y1="538.50" x2="186.10" y2="536.40" stroke="#262626" stroke-width="0.9"/>
<text x="186.10" y="551.30" font-size="9.8" text-anchor="middle" font-weight="normal" fill="#000" >6</text>
<line x1="197.90" y1="538.50" x2="197.90" y2="537.50" stroke="#262626" stroke-width="0.9"/>
<line x1="209.70" y1="538.50" x2="209.70" y2="536.40" stroke="#262626" stroke-width="0.9"/>
<text x="209.70" y="551.30" font-size="9.8" text-anchor="middle" font-weight="normal" fill="#000" >7</text>
<text x="127.10" y="569.00" font-size="10.5" text-anchor="middle" font-weight="normal" fill="#000" >Time (s)</text>
<text transform="translate(10.00,509.30) rotate(-90)" font-size="10.5" text-anchor="middle">sEMG (V)</text>
<text x="211.20" y="535.00" font-size="7.4" text-anchor="end" font-weight="normal" fill="#1a1a1a" >Channel one</text>
<path d="M44.50 608.7V610.2M45.00 608.8V610.4M45.50 608.8V610.2M46.00 608.8V610.4M46.50 608.7V610.4M47.00 608.7V610.2M47.50 608.7V610.3M48.00 608.8V610.3M48.50 608.8V610.2M49.00 608.8V610.3M49.50 608.8V610.4M50.00 608.6V610.3M50.50 608.6V610.3M51.00 608.7V610.2M51.50 608.6V610.4M52.00 608.7V610.2M52.50 608.8V610.3M53.00 608.6V610.2M53.50 608.8V610.3M54.00 608.7V610.2M54.50 608.8V610.3M55.00 608.8V610.3M55.50 608.8V610.4M56.00 608.7V610.2M56.50 608.9V610.2M57.00 608.8V610.3M57.50 608.7V610.3M58.00 608.8V610.3M58.50 608.7V610.2M59.00 608.8V610.3M59.50 608.8V610.2M60.00 608.8V610.2M60.50 608.6V610.2M61.00 608.6V610.3M61.50 608.9V610.4M62.00 608.7V610.3M62.50 608.6V610.3M63.00 608.9V610.2M63.50 608.8V610.4M64.00 608.6V610.2M64.50 608.8V610.2M65.00 608.8V610.2M65.50 608.8V610.2M66.00 608.7V610.2M66.50 608.6V610.3M67.00 608.7V610.3M67.50 608.8V610.2M68.00 608.8V610.2M68.50 608.8V610.3M69.00 608.8V610.3M69.50 608.8V610.2M70.00 608.8V610.2M70.50 608.6V610.2M71.00 608.6V610.4M71.50 604.3V610.9M72.00 606.6V616.4M72.50 601.3V616.0M73.00 602.8V612.3M73.50 602.8V619.7M74.00 603.1V616.4M74.50 604.2V616.5M75.00 595.1V616.9M75.50 602.5V612.9M76.00 604.1V613.3M76.50 600.9V620.1M77.00 598.4V619.9M77.50 602.5V615.1M78.00 595.8V621.8M78.50 591.8V619.9M79.00 595.6V619.1M79.50 596.1V621.4M80.00 595.7V616.0M80.50 604.3V614.8M81.00 589.4V621.1M81.50 596.9V616.9M82.00 598.0V615.8M82.50 602.1V619.5M83.00 598.4V623.7M83.50 598.2V622.7M84.00 603.6V614.3M84.50 601.9V612.6M85.00 593.3V622.7M85.50 598.3V615.7M86.00 592.0V612.6M86.50 603.2V618.3M87.00 599.2V617.9M87.50 604.1V615.4M88.00 604.4V615.2M88.50 603.6V615.9M89.00 605.5V612.9M89.50 604.5V612.6M90.00 602.7V614.3M90.50 606.9V612.2M91.00 605.5V611.1M91.50 605.2V614.7M92.00 606.4V610.4M92.50 605.6V610.4M93.00 607.8V610.4M93.50 608.6V610.4M94.00 608.6V610.4M94.50 608.8V610.2M95.00 608.8V610.3M95.50 608.7V610.3M96.00 608.7V610.3M96.50 608.8V610.3M97.00 608.6V610.3M97.50 608.8V610.3M98.00 608.7V610.3M98.50 608.7V610.4M99.00 608.6V610.2M99.50 608.7V610.2M100.00 608.6V610.2M100.50 608.7V610.3M101.00 608.7V610.2M101.50 608.7V610.2M102.00 608.7V610.3M102.50 608.8V610.3M103.00 608.7V610.3M103.50 608.7V610.4M104.00 608.6V610.2M104.50 608.7V610.2M105.00 608.7V610.2M105.50 608.6V610.3M106.00 608.7V610.2M106.50 608.7V610.2M107.00 608.6V610.2M107.50 608.8V610.3M108.00 608.8V610.3M108.50 608.8V610.4M109.00 608.7V610.4M109.50 608.6V610.4M110.00 608.7V610.2M110.50 608.7V610.4M111.00 608.6V610.3M111.50 608.6V610.3M112.00 608.8V610.3M112.50 608.7V610.2M113.00 608.8V610.3M113.50 608.7V610.3M114.00 608.8V610.2M114.50 608.6V610.2M115.00 608.7V610.3M115.50 608.8V610.2M116.00 608.7V610.4M116.50 608.6V610.2M117.00 608.7V610.3M117.50 608.6V610.3M118.00 608.6V610.4M118.50 606.0V613.7M119.00 601.6V613.1M119.50 604.4V615.3M120.00 603.5V612.8M120.50 606.1V614.2M121.00 606.8V615.8M121.50 605.3V617.3M122.00 606.7V617.0M122.50 607.3V612.3M123.00 606.6V624.1M123.50 601.4V618.9M124.00 601.9V613.5M124.50 601.8V617.5M125.00 606.5V617.9M125.50 605.7V623.1M126.00 600.1V616.1M126.50 599.0V614.7M127.00 602.5V618.4M127.50 602.9V614.1M128.00 597.2V616.9M128.50 604.6V623.6M129.00 601.8V621.2M129.50 598.9V626.4M130.00 597.3V615.6M130.50 595.3V615.2M131.00 597.8V623.8M131.50 603.8V621.8M132.00 603.1V620.3M132.50 591.9V616.5M133.00 597.1V630.4M133.50 605.5V614.0M134.00 603.8V619.5M134.50 601.8V628.4M135.00 605.6V617.5M135.50 606.4V616.8M136.00 604.5V615.4M136.50 605.2V613.2M137.00 607.2V615.8M137.50 605.7V611.2M138.00 608.4V612.6M138.50 608.6V611.2M139.00 608.6V611.1M139.50 608.7V610.3M140.00 608.8V610.4M140.50 608.8V610.2M141.00 608.8V610.3M141.50 608.8V610.2M142.00 608.7V610.4M142.50 608.8V610.2M143.00 608.8V610.3M143.50 608.7V610.1M144.00 608.7V610.4M144.50 608.7V610.3M145.00 608.7V610.4M145.50 608.8V610.3M146.00 608.8V610.2M146.50 608.6V610.3M147.00 608.7V610.3M147.50 608.7V610.2M148.00 608.7V610.4M148.50 608.8V610.2M149.00 608.7V610.3M149.50 608.7V610.2M150.00 608.7V610.3M150.50 608.8V610.3M151.00 608.7V610.3M151.50 608.8V610.2M152.00 608.7V610.3M152.50 608.6V610.4M153.00 608.7V610.1M153.50 608.7V610.3M154.00 608.7V610.2M154.50 608.8V610.3M155.00 608.8V610.3M155.50 608.8V610.4M156.00 608.8V610.3M156.50 608.6V610.3M157.00 608.8V610.3M157.50 608.6V610.3M158.00 608.6V610.3M158.50 608.8V610.2M159.00 608.7V610.3M159.50 608.7V610.3M160.00 608.7V610.2M160.50 608.7V610.4M161.00 608.7V610.3M161.50 608.7V610.2M162.00 608.8V610.2M162.50 608.8V610.3M163.00 608.8V610.3M163.50 608.6V610.4M164.00 608.9V610.3M164.50 608.7V610.3M165.00 608.7V610.4M165.50 608.8V610.3M166.00 608.8V610.3M166.50 608.8V610.3M167.00 608.6V610.4M167.50 608.0V610.6M168.00 605.9V611.6M168.50 607.6V611.2M169.00 607.2V613.2M169.50 605.4V613.0M170.00 605.6V614.2M170.50 598.8V615.5M171.00 602.7V620.3M171.50 603.1V615.9M172.00 602.4V616.1M172.50 592.1V625.2M173.00 595.1V618.9M173.50 590.4V626.4M174.00 603.9V614.8M174.50 594.1V618.8M175.00 590.3V619.3M175.50 593.2V619.8M176.00 595.6V615.0M176.50 603.5V617.3M177.00 585.7V619.9M177.50 594.0V625.9M178.00 593.8V630.4M178.50 588.3V628.7M179.00 589.4V625.1M179.50 597.0V615.6M180.00 589.3V626.4M180.50 601.1V621.5M181.00 603.6V615.7M181.50 596.5V625.9M182.00 599.0V618.8M182.50 597.5V625.2M183.00 601.7V621.8M183.50 605.8V619.6M184.00 601.6V620.0M184.50 603.1V611.7M185.00 607.4V616.2M185.50 605.7V614.1M186.00 608.5V610.5M186.50 608.5V611.6M187.00 608.6V610.4M187.50 608.6V610.3M188.00 608.7V610.4M188.50 608.7V610.3M189.00 608.6V610.3M189.50 608.8V610.3M190.00 608.7V610.4M190.50 608.7V610.4M191.00 608.6V610.2M191.50 608.6V610.3M192.00 608.7V610.3M192.50 608.7V610.2M193.00 608.7V610.2M193.50 608.7V610.3M194.00 608.6V610.3M194.50 608.7V610.2M195.00 608.7V610.4M195.50 608.9V610.2M196.00 608.8V610.3M196.50 608.7V610.1M197.00 608.6V610.2M197.50 608.8V610.2M198.00 608.8V610.2M198.50 608.8V610.3M199.00 608.8V610.3M199.50 608.7V610.3M200.00 608.8V610.3M200.50 608.7V610.3M201.00 608.7V610.2M201.50 608.7V610.4M202.00 608.6V610.3M202.50 608.8V610.1M203.00 608.7V610.4M203.50 608.6V610.3M204.00 608.8V610.2M204.50 608.8V610.3M205.00 608.6V610.2M205.50 608.7V610.3M206.00 608.8V610.3M206.50 608.8V610.3M207.00 608.6V610.2M207.50 608.6V610.2M208.00 608.8V610.3M208.50 608.8V610.2M209.00 608.7V610.3M209.50 608.8V610.2" fill="none" stroke="#ff0000" stroke-width="1.0"/>
<path d="M44.50,579.60V638.70H209.70" fill="none" stroke="#262626" stroke-width="1"/>
<line x1="44.50" y1="579.60" x2="47.10" y2="579.60" stroke="#262626" stroke-width="0.9"/>
<text x="38.50" y="583.00" font-size="9.8" text-anchor="end" font-weight="normal" fill="#000" >2.0</text>
<line x1="44.50" y1="594.55" x2="46.00" y2="594.55" stroke="#262626" stroke-width="0.9"/>
<line x1="44.50" y1="609.50" x2="47.10" y2="609.50" stroke="#262626" stroke-width="0.9"/>
<text x="38.50" y="612.90" font-size="9.8" text-anchor="end" font-weight="normal" fill="#000" >0.0</text>
<line x1="44.50" y1="624.10" x2="46.00" y2="624.10" stroke="#262626" stroke-width="0.9"/>
<line x1="44.50" y1="638.70" x2="47.10" y2="638.70" stroke="#262626" stroke-width="0.9"/>
<text x="38.50" y="642.10" font-size="9.8" text-anchor="end" font-weight="normal" fill="#000" >−2.0</text>
<line x1="44.50" y1="638.70" x2="44.50" y2="636.60" stroke="#262626" stroke-width="0.9"/>
<text x="44.50" y="651.30" font-size="9.8" text-anchor="middle" font-weight="normal" fill="#000" >0</text>
<line x1="56.30" y1="638.70" x2="56.30" y2="637.70" stroke="#262626" stroke-width="0.9"/>
<line x1="68.10" y1="638.70" x2="68.10" y2="636.60" stroke="#262626" stroke-width="0.9"/>
<text x="68.10" y="651.30" font-size="9.8" text-anchor="middle" font-weight="normal" fill="#000" >1</text>
<line x1="79.90" y1="638.70" x2="79.90" y2="637.70" stroke="#262626" stroke-width="0.9"/>
<line x1="91.70" y1="638.70" x2="91.70" y2="636.60" stroke="#262626" stroke-width="0.9"/>
<text x="91.70" y="651.30" font-size="9.8" text-anchor="middle" font-weight="normal" fill="#000" >2</text>
<line x1="103.50" y1="638.70" x2="103.50" y2="637.70" stroke="#262626" stroke-width="0.9"/>
<line x1="115.30" y1="638.70" x2="115.30" y2="636.60" stroke="#262626" stroke-width="0.9"/>
<text x="115.30" y="651.30" font-size="9.8" text-anchor="middle" font-weight="normal" fill="#000" >3</text>
<line x1="127.10" y1="638.70" x2="127.10" y2="637.70" stroke="#262626" stroke-width="0.9"/>
<line x1="138.90" y1="638.70" x2="138.90" y2="636.60" stroke="#262626" stroke-width="0.9"/>
<text x="138.90" y="651.30" font-size="9.8" text-anchor="middle" font-weight="normal" fill="#000" >4</text>
<line x1="150.70" y1="638.70" x2="150.70" y2="637.70" stroke="#262626" stroke-width="0.9"/>
<line x1="162.50" y1="638.70" x2="162.50" y2="636.60" stroke="#262626" stroke-width="0.9"/>
<text x="162.50" y="651.30" font-size="9.8" text-anchor="middle" font-weight="normal" fill="#000" >5</text>
<line x1="174.30" y1="638.70" x2="174.30" y2="637.70" stroke="#262626" stroke-width="0.9"/>
<line x1="186.10" y1="638.70" x2="186.10" y2="636.60" stroke="#262626" stroke-width="0.9"/>
<text x="186.10" y="651.30" font-size="9.8" text-anchor="middle" font-weight="normal" fill="#000" >6</text>
<line x1="197.90" y1="638.70" x2="197.90" y2="637.70" stroke="#262626" stroke-width="0.9"/>
<line x1="209.70" y1="638.70" x2="209.70" y2="636.60" stroke="#262626" stroke-width="0.9"/>
<text x="209.70" y="651.30" font-size="9.8" text-anchor="middle" font-weight="normal" fill="#000" >7</text>
<text x="127.10" y="667.80" font-size="10.5" text-anchor="middle" font-weight="normal" fill="#000" >Time (s)</text>
<text transform="translate(10.00,609.15) rotate(-90)" font-size="10.5" text-anchor="middle">sEMG (V)</text>
<text x="211.30" y="635.60" font-size="7.4" text-anchor="end" font-weight="normal" fill="#1a1a1a" >Channel two</text>
<path d="M509.80 501.1V508.2M510.30 496.6V507.8M510.80 498.6V508.9M511.30 501.1V507.1M511.80 501.1V510.5M512.30 501.1V507.1M512.80 501.5V506.7M513.30 501.3V506.9M513.80 501.5V506.9M514.30 498.1V507.0M514.80 501.8V506.6M515.30 501.3V506.3M515.80 501.7V507.0M516.30 501.8V506.7M516.80 501.9V506.7M517.30 501.3V510.4M517.80 495.9V506.6M518.30 501.4V506.6M518.80 501.7V506.3M519.30 501.6V506.9M519.80 501.1V507.1M520.30 498.9V507.1M520.80 501.1V507.1M521.30 501.2V506.8M521.80 501.8V506.5M522.30 501.5V507.0M522.80 501.5V506.7M523.30 501.6V506.8M523.80 500.6V506.5M524.30 501.7V506.3M524.80 501.7V507.0M525.30 501.4V506.9M525.80 501.9V506.7M526.30 501.1V506.6M526.80 501.8V506.3M527.30 501.4V506.4M527.80 501.2V506.8M528.30 501.1V506.4M528.80 501.3V506.8M529.30 501.5V506.7M529.80 501.9V506.5M530.30 500.1V506.3M530.80 501.6V507.0M531.30 501.9V506.8M531.80 501.5V506.9M532.30 501.4V506.7M532.80 501.3V507.0M533.30 501.7V506.7M533.80 501.3V506.8M534.30 501.3V506.7M534.80 501.9V506.6M535.30 501.2V506.9M535.80 501.8V507.0M536.30 501.8V506.3M536.80 501.5V506.3M537.30 501.5V506.9M537.80 501.8V506.7M538.30 501.5V506.6M538.80 501.9V506.4M539.30 502.0V506.6M539.80 501.2V506.4M540.30 501.1V507.1M540.80 497.9V507.1M541.30 498.6V507.1M541.80 496.5V507.8M542.30 501.1V513.2M542.80 499.3V509.4M543.30 498.6V510.2M543.80 497.4V507.1M544.30 496.3V515.7M544.80 501.1V514.3M545.30 495.1V510.6M545.80 491.7V514.8M546.30 498.5V517.7M546.80 492.1V517.1M547.30 501.1V519.0M547.80 498.7V507.1M548.30 501.1V520.1M548.80 495.9V513.8M549.30 501.1V507.1M549.80 499.0V509.8M550.30 497.0V512.9M550.80 495.6V513.4M551.30 490.4V511.2M551.80 494.1V512.2M552.30 500.1V507.5M552.80 500.3V508.3M553.30 498.1V516.0M553.80 500.6V509.8M554.30 499.8V510.5M554.80 499.3V508.0M555.30 494.6V507.1M555.80 494.7V509.0M556.30 501.1V511.5M556.80 498.5V509.6M557.30 501.1V507.1M557.80 501.1V511.5M558.30 500.9V509.4M558.80 501.1V507.1M559.30 501.1V507.1M559.80 501.6V506.8M560.30 501.4V506.5M560.80 501.9V506.6M561.30 501.4V506.5M561.80 501.3V506.8M562.30 501.4V506.8M562.80 501.5V507.0M563.30 501.8V506.7M563.80 501.5V506.5M564.30 501.7V506.9M564.80 501.7V506.7M565.30 501.7V506.6M565.80 501.5V506.4M566.30 501.5V506.7M566.80 501.2V506.8M567.30 501.5V506.6M567.80 499.5V506.6M568.30 501.9V506.5M568.80 501.6V506.4M569.30 501.6V506.5M569.80 500.6V506.9M570.30 501.2V506.8M570.80 501.2V506.8M571.30 501.3V506.3M571.80 501.3V506.6M572.30 501.9V507.0M572.80 501.6V506.9M573.30 501.6V506.4M573.80 500.6V506.5M574.30 501.9V506.6M574.80 502.0V506.6M575.30 501.8V506.7M575.80 501.9V507.0M576.30 501.8V506.8M576.80 501.8V506.7M577.30 501.7V508.7M577.80 501.3V506.5M578.30 501.7V506.9M578.80 501.2V506.6M579.30 501.9V506.6M579.80 498.6V507.0M580.30 499.1V506.3M580.80 501.2V506.8M581.30 501.7V506.5M581.80 501.8V506.3M582.30 501.1V507.1M582.80 496.1V507.1M583.30 499.7V509.3M583.80 500.3V508.0M584.30 497.9V509.3M584.80 500.8V515.4M585.30 500.0V511.0M585.80 498.8V510.8M586.30 496.6V510.4M586.80 495.5V516.6M587.30 495.5V512.6M587.80 490.6V516.8M588.30 497.4V513.0M588.80 501.1V509.8M589.30 491.1V507.9M589.80 492.6V523.7M590.30 494.3V523.2M590.80 500.4V514.6M591.30 491.4V510.4M591.80 489.1V516.1M592.30 498.5V519.1M592.80 492.1V511.8M593.30 495.5V524.0M593.80 500.0V517.8M594.30 496.2V509.2M594.80 491.8V510.1M595.30 489.7V509.8M595.80 499.7V522.0M596.30 500.7V518.8M596.80 496.2V530.3M597.30 487.1V508.8M597.80 500.1V515.1M598.30 499.3V511.7M598.80 485.3V515.5M599.30 495.9V513.6M599.80 499.7V509.3M600.30 484.7V528.8M600.80 496.5V524.8M601.30 488.2V524.1M601.80 500.6V510.4M602.30 495.3V508.8M602.80 495.1V525.9M603.30 498.0V523.7M603.80 501.0V523.0M604.30 497.3V524.3M604.80 488.7V524.1M605.30 490.7V520.2M605.80 500.2V507.3M606.30 497.8V507.4M606.80 495.2V509.0M607.30 498.0V510.6M607.80 501.1V512.8M608.30 497.4V508.0M608.80 500.2V508.2M609.30 501.1V507.1M609.80 499.7V507.1M610.30 501.1V507.1M610.80 501.1V507.1M611.30 501.6V506.3M611.80 501.8V507.0M612.30 501.9V506.5M612.80 501.4V507.0M613.30 501.4V506.6M613.80 501.6V506.9M614.30 501.4V506.9M614.80 501.6V506.7M615.30 501.5V506.5M615.80 501.5V506.6M616.30 500.2V506.3M616.80 501.2V506.6M617.30 501.4V507.0M617.80 501.2V507.5M618.30 501.7V506.8M618.80 501.1V506.7M619.30 496.6V506.8M619.80 501.6V506.9M620.30 501.3V507.0M620.80 501.6V506.6M621.30 501.8V506.5M621.80 497.8V506.7M622.30 501.8V506.6M622.80 501.1V506.9M623.30 501.6V506.7M623.80 501.2V511.1M624.30 501.2V507.0M624.80 501.6V506.4M625.30 501.2V506.8M625.80 498.1V506.9M626.30 501.7V512.4M626.80 501.1V506.6M627.30 501.5V506.7M627.80 501.7V506.7M628.30 496.0V506.8M628.80 501.2V506.5M629.30 501.1V507.1M629.80 501.1V507.8M630.30 501.1V507.4M630.80 501.1V508.9M631.30 501.1V513.1M631.80 501.1V508.2M632.30 498.1V508.0M632.80 500.1V516.6M633.30 495.1V508.9M633.80 500.2V508.3M634.30 496.5V512.9M634.80 499.6V512.7M635.30 501.1V508.5M635.80 496.7V509.3M636.30 499.5V510.2M636.80 495.6V508.6M637.30 493.2V514.5M637.80 498.0V512.3M638.30 498.5V507.1M638.80 492.5V513.2M639.30 497.3V520.4M639.80 495.9V507.2M640.30 492.0V510.5M640.80 501.1V511.0M641.30 498.7V519.9M641.80 500.5V511.7M642.30 501.0V508.5M642.80 499.0V512.2M643.30 498.1V513.0M643.80 497.7V508.0M644.30 496.3V509.3M644.80 491.0V521.0M645.30 491.1V525.8M645.80 489.3V519.0M646.30 500.8V514.9M646.80 501.1V507.5M647.30 498.8V513.8M647.80 496.0V520.6M648.30 501.1V510.5M648.80 500.0V514.0M649.30 501.1V513.1M649.80 495.5V509.6M650.30 501.1V515.4M650.80 501.1V507.1M651.30 501.1V510.6M651.80 499.6V510.5M652.30 501.1V507.9M652.80 501.1V507.1M653.30 501.1V507.1M653.80 501.5V507.1M654.30 501.8V508.9M654.80 501.8V506.7M655.30 501.2V509.7M655.80 501.3V509.7M656.30 501.7V506.9M656.80 501.7V511.0M657.30 501.3V506.5M657.80 498.6V506.7M658.30 501.9V507.0M658.80 501.5V506.4M659.30 501.8V506.7M659.80 501.2V506.4M660.30 501.8V507.0M660.80 501.7V506.6M661.30 501.5V506.7M661.80 501.5V506.2M662.30 501.3V507.0M662.80 501.4V506.6M663.30 501.5V506.9M663.80 501.8V506.6M664.30 501.3V507.0M664.80 500.4V506.7M665.30 501.5V512.1M665.80 501.4V506.4M666.30 501.5V506.5M666.80 501.4V506.7M667.30 501.1V506.4M667.80 501.6V506.3M668.30 501.4V507.0M668.80 498.0V506.8M669.30 501.4V506.9M669.80 501.7V506.9M670.30 501.8V506.8M670.80 497.1V506.9M671.30 501.9V506.6M671.80 501.9V506.4M672.30 501.8V507.0M672.80 497.2V506.5M673.30 501.5V506.8" fill="none" stroke="#ff0000" stroke-width="1.0"/>
<path d="M509.80,480.10V538.50H673.60" fill="none" stroke="#262626" stroke-width="1"/>
<line x1="509.80" y1="481.30" x2="512.40" y2="481.30" stroke="#262626" stroke-width="0.9"/>
<text x="503.80" y="484.70" font-size="9.8" text-anchor="end" font-weight="normal" fill="#000" >0.2</text>
<line x1="509.80" y1="492.70" x2="511.30" y2="492.70" stroke="#262626" stroke-width="0.9"/>
<line x1="509.80" y1="504.10" x2="512.40" y2="504.10" stroke="#262626" stroke-width="0.9"/>
<text x="503.80" y="507.50" font-size="9.8" text-anchor="end" font-weight="normal" fill="#000" >0.0</text>
<line x1="509.80" y1="515.50" x2="511.30" y2="515.50" stroke="#262626" stroke-width="0.9"/>
<line x1="509.80" y1="526.90" x2="512.40" y2="526.90" stroke="#262626" stroke-width="0.9"/>
<text x="503.80" y="530.30" font-size="9.8" text-anchor="end" font-weight="normal" fill="#000" >−0.2</text>
<line x1="509.80" y1="538.50" x2="509.80" y2="536.40" stroke="#262626" stroke-width="0.9"/>
<text x="509.80" y="551.30" font-size="9.8" text-anchor="middle" font-weight="normal" fill="#000" >0</text>
<line x1="521.50" y1="538.50" x2="521.50" y2="537.50" stroke="#262626" stroke-width="0.9"/>
<line x1="533.20" y1="538.50" x2="533.20" y2="536.40" stroke="#262626" stroke-width="0.9"/>
<text x="533.20" y="551.30" font-size="9.8" text-anchor="middle" font-weight="normal" fill="#000" >1</text>
<line x1="544.90" y1="538.50" x2="544.90" y2="537.50" stroke="#262626" stroke-width="0.9"/>
<line x1="556.60" y1="538.50" x2="556.60" y2="536.40" stroke="#262626" stroke-width="0.9"/>
<text x="556.60" y="551.30" font-size="9.8" text-anchor="middle" font-weight="normal" fill="#000" >2</text>
<line x1="568.30" y1="538.50" x2="568.30" y2="537.50" stroke="#262626" stroke-width="0.9"/>
<line x1="580.00" y1="538.50" x2="580.00" y2="536.40" stroke="#262626" stroke-width="0.9"/>
<text x="580.00" y="551.30" font-size="9.8" text-anchor="middle" font-weight="normal" fill="#000" >3</text>
<line x1="591.70" y1="538.50" x2="591.70" y2="537.50" stroke="#262626" stroke-width="0.9"/>
<line x1="603.40" y1="538.50" x2="603.40" y2="536.40" stroke="#262626" stroke-width="0.9"/>
<text x="603.40" y="551.30" font-size="9.8" text-anchor="middle" font-weight="normal" fill="#000" >4</text>
<line x1="615.10" y1="538.50" x2="615.10" y2="537.50" stroke="#262626" stroke-width="0.9"/>
<line x1="626.80" y1="538.50" x2="626.80" y2="536.40" stroke="#262626" stroke-width="0.9"/>
<text x="626.80" y="551.30" font-size="9.8" text-anchor="middle" font-weight="normal" fill="#000" >5</text>
<line x1="638.50" y1="538.50" x2="638.50" y2="537.50" stroke="#262626" stroke-width="0.9"/>
<line x1="650.20" y1="538.50" x2="650.20" y2="536.40" stroke="#262626" stroke-width="0.9"/>
<text x="650.20" y="551.30" font-size="9.8" text-anchor="middle" font-weight="normal" fill="#000" >6</text>
<line x1="661.90" y1="538.50" x2="661.90" y2="537.50" stroke="#262626" stroke-width="0.9"/>
<line x1="673.60" y1="538.50" x2="673.60" y2="536.40" stroke="#262626" stroke-width="0.9"/>
<text x="673.60" y="551.30" font-size="9.8" text-anchor="middle" font-weight="normal" fill="#000" >7</text>
<line x1="509.80" y1="492.70" x2="511.30" y2="492.70" stroke="#262626" stroke-width="0.9"/>
<line x1="509.80" y1="515.50" x2="511.30" y2="515.50" stroke="#262626" stroke-width="0.9"/>
<text x="591.70" y="569.00" font-size="10.5" text-anchor="middle" font-weight="normal" fill="#000" >Time (s)</text>
<text transform="translate(475.30,509.30) rotate(-90)" font-size="10.5" text-anchor="middle">sEMG (V)</text>
<text x="675.30" y="534.80" font-size="7.4" text-anchor="end" font-weight="normal" fill="#1a1a1a" >Channel one</text>
<path d="M509.80 608.7V611.5M510.30 608.6V611.1M510.80 606.0V613.1M511.30 607.5V613.4M511.80 607.5V611.8M512.30 608.7V611.7M512.80 608.9V610.9M513.30 609.0V610.9M513.80 608.9V611.0M514.30 608.8V611.0M514.80 608.8V610.9M515.30 608.9V611.1M515.80 608.8V610.9M516.30 608.7V611.0M516.80 608.8V611.1M517.30 608.9V611.1M517.80 608.9V610.9M518.30 608.9V610.8M518.80 608.8V611.1M519.30 608.9V611.1M519.80 609.0V610.9M520.30 608.7V611.0M520.80 609.0V611.0M521.30 609.0V611.0M521.80 608.9V611.0M522.30 608.8V610.8M522.80 608.8V611.0M523.30 608.8V610.8M523.80 609.0V611.0M524.30 608.7V610.9M524.80 609.0V610.9M525.30 609.0V610.9M525.80 608.7V611.0M526.30 609.0V611.1M526.80 608.8V610.9M527.30 609.0V611.0M527.80 608.9V610.8M528.30 608.7V610.9M528.80 609.0V610.8M529.30 608.7V610.9M529.80 608.9V610.8M530.30 609.0V610.8M530.80 609.0V610.9M531.30 608.9V611.0M531.80 608.8V611.0M532.30 609.0V610.9M532.80 609.0V610.9M533.30 608.9V610.9M533.80 608.8V610.9M534.30 609.0V611.0M534.80 609.0V611.1M535.30 609.0V610.8M535.80 609.0V610.9M536.30 608.8V610.8M536.80 608.7V611.1M537.30 608.7V611.1M537.80 608.7V612.9M538.30 608.2V611.1M538.80 606.4V615.0M539.30 606.6V615.4M539.80 605.6V617.8M540.30 602.7V615.4M540.80 602.2V616.3M541.30 593.9V615.7M541.80 603.7V621.8M542.30 594.9V615.9M542.80 604.7V614.3M543.30 598.8V620.3M543.80 606.2V613.9M544.30 600.3V617.0M544.80 603.2V618.2M545.30 603.8V614.2M545.80 603.6V615.3M546.30 602.0V615.9M546.80 604.8V618.0M547.30 605.2V615.1M547.80 602.2V625.3M548.30 602.4V614.4M548.80 589.2V619.0M549.30 604.0V617.9M549.80 603.9V614.3M550.30 596.8V626.5M550.80 602.4V613.6M551.30 603.5V617.5M551.80 604.5V615.9M552.30 606.0V614.0M552.80 602.3V617.6M553.30 593.9V615.0M553.80 599.8V614.6M554.30 599.8V618.0M554.80 599.0V616.9M555.30 603.9V616.9M555.80 605.6V618.0M556.30 599.9V613.1M556.80 599.7V615.3M557.30 599.9V616.2M557.80 602.7V612.6M558.30 606.5V614.6M558.80 604.9V613.8M559.30 608.6V611.3M559.80 608.7V611.1M560.30 607.0V612.2M560.80 607.1V612.0M561.30 607.8V611.1M561.80 608.7V611.1M562.30 608.9V610.8M562.80 608.9V611.0M563.30 608.8V611.0M563.80 608.9V610.8M564.30 609.0V610.8M564.80 608.9V610.9M565.30 608.7V610.9M565.80 608.8V611.0M566.30 608.8V611.0M566.80 608.8V611.0M567.30 608.9V611.0M567.80 609.0V610.8M568.30 609.0V610.8M568.80 609.0V610.8M569.30 608.9V611.0M569.80 608.7V611.0M570.30 608.8V610.9M570.80 609.0V611.0M571.30 608.9V610.9M571.80 608.8V611.1M572.30 609.0V610.8M572.80 608.9V610.9M573.30 608.9V610.9M573.80 609.0V610.9M574.30 609.0V610.9M574.80 608.8V611.0M575.30 608.8V610.8M575.80 608.9V610.8M576.30 609.0V610.8M576.80 609.0V611.0M577.30 609.0V611.0M577.80 608.9V610.8M578.30 608.8V610.9M578.80 609.0V610.8M579.30 608.9V610.8M579.80 608.9V610.9M580.30 608.7V610.8M580.80 608.8V610.8M581.30 609.0V611.0M581.80 608.8V610.9M582.30 608.7V610.8M582.80 608.7V611.2M583.30 608.7V611.9M583.80 608.4V613.4M584.30 605.5V615.0M584.80 607.5V612.5M585.30 604.1V617.0M585.80 607.2V619.3M586.30 602.7V614.8M586.80 599.5V619.4M587.30 605.0V621.9M587.80 598.2V621.3M588.30 598.7V615.5M588.80 596.5V619.1M589.30 602.8V626.0M589.80 595.7V623.4M590.30 603.0V614.8M590.80 599.7V620.4M591.30 604.9V626.3M591.80 604.8V615.2M592.30 603.1V616.7M592.80 600.5V620.0M593.30 599.3V617.8M593.80 595.9V627.1M594.30 601.1V625.8M594.80 595.7V627.0M595.30 593.3V627.0M595.80 600.2V622.2M596.30 593.6V629.0M596.80 603.4V621.6M597.30 601.1V630.6M597.80 596.2V622.3M598.30 601.6V627.6M598.80 593.6V616.6M599.30 601.1V616.0M599.80 596.3V622.7M600.30 592.1V617.6M600.80 596.4V618.7M601.30 600.0V627.0M601.80 596.4V625.1M602.30 605.4V622.7M602.80 595.3V616.5M603.30 595.8V616.7M603.80 603.2V618.6M604.30 602.4V622.9M604.80 596.4V616.4M605.30 598.5V614.7M605.80 605.9V615.9M606.30 606.6V614.0M606.80 605.5V618.2M607.30 601.9V615.8M607.80 602.0V615.6M608.30 607.4V614.3M608.80 607.9V612.6M609.30 608.4V612.2M609.80 605.8V613.0M610.30 608.7V611.1M610.80 607.7V612.6M611.30 608.7V611.5M611.80 608.7V611.1M612.30 609.0V611.1M612.80 609.0V610.9M613.30 608.9V610.9M613.80 608.9V610.9M614.30 608.8V610.8M614.80 608.9V610.9M615.30 608.9V610.8M615.80 608.8V610.9M616.30 608.7V611.0M616.80 609.0V611.1M617.30 608.9V610.9M617.80 608.9V610.9M618.30 608.8V610.8M618.80 609.0V611.0M619.30 608.9V610.9M619.80 609.0V611.1M620.30 608.8V610.8M620.80 609.0V610.8M621.30 609.0V610.8M621.80 609.0V610.9M622.30 608.7V610.9M622.80 609.0V611.0M623.30 609.0V611.0M623.80 608.9V610.9M624.30 609.0V610.8M624.80 608.8V611.0M625.30 608.9V610.9M625.80 608.8V610.9M626.30 608.8V611.0M626.80 609.0V610.8M627.30 608.9V610.8M627.80 608.8V611.0M628.30 608.8V610.9M628.80 608.9V611.1M629.30 608.9V611.1M629.80 608.7V611.1M630.30 608.7V611.4M630.80 605.6V612.5M631.30 604.1V612.1M631.80 605.1V612.8M632.30 602.2V613.7M632.80 606.0V613.9M633.30 599.1V615.7M633.80 601.7V612.8M634.30 606.0V615.8M634.80 604.7V613.7M635.30 604.0V624.9M635.80 596.5V619.9M636.30 604.5V623.8M636.80 604.4V618.6M637.30 605.0V614.7M637.80 606.0V616.2M638.30 597.6V614.6M638.80 594.5V614.2M639.30 598.7V618.1M639.80 600.7V617.2M640.30 602.9V615.1M640.80 600.9V616.3M641.30 604.9V613.6M641.80 604.0V629.0M642.30 605.2V623.4M642.80 602.6V617.3M643.30 600.5V615.0M643.80 603.8V613.5M644.30 606.3V620.2M644.80 602.5V616.4M645.30 605.5V630.0M645.80 604.9V615.1M646.30 599.3V628.5M646.80 588.3V617.8M647.30 606.2V614.9M647.80 605.2V620.2M648.30 601.7V621.4M648.80 603.0V630.6M649.30 600.6V618.9M649.80 605.9V614.8M650.30 592.4V620.6M650.80 603.9V620.6M651.30 601.7V616.4M651.80 596.0V614.6M652.30 603.9V614.9M652.80 601.6V614.4M653.30 599.1V619.7M653.80 604.5V617.2M654.30 603.3V612.7M654.80 606.9V612.9M655.30 606.0V614.0M655.80 606.3V612.6M656.30 608.5V613.0M656.80 608.7V612.2M657.30 608.7V611.6M657.80 608.8V610.9M658.30 608.9V610.9M658.80 608.9V610.9M659.30 608.8V610.9M659.80 608.8V610.9M660.30 608.9V610.9M660.80 608.7V611.1M661.30 609.0V610.9M661.80 608.9V611.0M662.30 608.8V611.0M662.80 609.0V611.1M663.30 608.9V610.8M663.80 608.9V611.0M664.30 608.7V611.0M664.80 608.8V610.8M665.30 608.9V611.0M665.80 609.0V610.8M666.30 608.9V610.8M666.80 609.0V610.8M667.30 608.9V611.0M667.80 608.8V610.8M668.30 608.8V611.1M668.80 608.7V611.0M669.30 608.8V610.8M669.80 609.0V611.0M670.30 608.9V611.1M670.80 608.7V611.1M671.30 609.0V611.0M671.80 608.8V611.1M672.30 608.8V610.8M672.80 608.9V610.9M673.30 608.9V611.0" fill="none" stroke="#ff0000" stroke-width="1.0"/>
<path d="M509.80,579.60V638.70H673.60" fill="none" stroke="#262626" stroke-width="1"/>
<line x1="509.80" y1="580.20" x2="512.40" y2="580.20" stroke="#262626" stroke-width="0.9"/>
<text x="503.80" y="583.60" font-size="9.8" text-anchor="end" font-weight="normal" fill="#000" >1.0</text>
<line x1="509.80" y1="595.05" x2="511.30" y2="595.05" stroke="#262626" stroke-width="0.9"/>
<line x1="509.80" y1="609.90" x2="512.40" y2="609.90" stroke="#262626" stroke-width="0.9"/>
<text x="503.80" y="613.30" font-size="9.8" text-anchor="end" font-weight="normal" fill="#000" >0.0</text>
<line x1="509.80" y1="624.30" x2="511.30" y2="624.30" stroke="#262626" stroke-width="0.9"/>
<line x1="509.80" y1="638.70" x2="512.40" y2="638.70" stroke="#262626" stroke-width="0.9"/>
<text x="503.80" y="642.10" font-size="9.8" text-anchor="end" font-weight="normal" fill="#000" >−1.0</text>
<line x1="509.80" y1="638.70" x2="509.80" y2="636.60" stroke="#262626" stroke-width="0.9"/>
<text x="509.80" y="651.30" font-size="9.8" text-anchor="middle" font-weight="normal" fill="#000" >0</text>
<line x1="521.50" y1="638.70" x2="521.50" y2="637.70" stroke="#262626" stroke-width="0.9"/>
<line x1="533.20" y1="638.70" x2="533.20" y2="636.60" stroke="#262626" stroke-width="0.9"/>
<text x="533.20" y="651.30" font-size="9.8" text-anchor="middle" font-weight="normal" fill="#000" >1</text>
<line x1="544.90" y1="638.70" x2="544.90" y2="637.70" stroke="#262626" stroke-width="0.9"/>
<line x1="556.60" y1="638.70" x2="556.60" y2="636.60" stroke="#262626" stroke-width="0.9"/>
<text x="556.60" y="651.30" font-size="9.8" text-anchor="middle" font-weight="normal" fill="#000" >2</text>
<line x1="568.30" y1="638.70" x2="568.30" y2="637.70" stroke="#262626" stroke-width="0.9"/>
<line x1="580.00" y1="638.70" x2="580.00" y2="636.60" stroke="#262626" stroke-width="0.9"/>
<text x="580.00" y="651.30" font-size="9.8" text-anchor="middle" font-weight="normal" fill="#000" >3</text>
<line x1="591.70" y1="638.70" x2="591.70" y2="637.70" stroke="#262626" stroke-width="0.9"/>
<line x1="603.40" y1="638.70" x2="603.40" y2="636.60" stroke="#262626" stroke-width="0.9"/>
<text x="603.40" y="651.30" font-size="9.8" text-anchor="middle" font-weight="normal" fill="#000" >4</text>
<line x1="615.10" y1="638.70" x2="615.10" y2="637.70" stroke="#262626" stroke-width="0.9"/>
<line x1="626.80" y1="638.70" x2="626.80" y2="636.60" stroke="#262626" stroke-width="0.9"/>
<text x="626.80" y="651.30" font-size="9.8" text-anchor="middle" font-weight="normal" fill="#000" >5</text>
<line x1="638.50" y1="638.70" x2="638.50" y2="637.70" stroke="#262626" stroke-width="0.9"/>
<line x1="650.20" y1="638.70" x2="650.20" y2="636.60" stroke="#262626" stroke-width="0.9"/>
<text x="650.20" y="651.30" font-size="9.8" text-anchor="middle" font-weight="normal" fill="#000" >6</text>
<line x1="661.90" y1="638.70" x2="661.90" y2="637.70" stroke="#262626" stroke-width="0.9"/>
<line x1="673.60" y1="638.70" x2="673.60" y2="636.60" stroke="#262626" stroke-width="0.9"/>
<text x="673.60" y="651.30" font-size="9.8" text-anchor="middle" font-weight="normal" fill="#000" >7</text>
<text x="591.70" y="667.80" font-size="10.5" text-anchor="middle" font-weight="normal" fill="#000" >Time (s)</text>
<text transform="translate(475.30,609.15) rotate(-90)" font-size="10.5" text-anchor="middle">sEMG (V)</text>
<text x="675.30" y="635.60" font-size="7.4" text-anchor="end" font-weight="normal" fill="#1a1a1a" >Channel two</text>
<path d="M44.70 721.0V725.5M45.20 721.0V726.0M45.70 720.7V725.7M46.20 720.5V725.5M46.70 720.7V725.7M47.20 721.1V726.1M47.70 717.6V725.6M48.20 721.1V725.7M48.70 721.1V725.8M49.20 721.0V727.6M49.70 720.5V726.0M50.20 720.9V725.6M50.70 720.7V726.2M51.20 720.8V726.0M51.70 721.0V729.8M52.20 720.7V725.5M52.70 720.6V725.5M53.20 720.6V725.8M53.70 720.4V726.2M54.20 717.7V728.8M54.70 717.3V726.2M55.20 720.5V726.2M55.70 721.1V725.9M56.20 720.6V726.1M56.70 720.7V728.1M57.20 720.4V726.2M57.70 720.4V725.7M58.20 721.0V725.9M58.70 720.6V730.3M59.20 721.0V725.5M59.70 715.0V725.9M60.20 720.8V725.9M60.70 720.4V725.8M61.20 720.5V726.2M61.70 720.9V726.2M62.20 718.4V726.2M62.70 720.6V725.8M63.20 720.8V725.6M63.70 720.6V725.7M64.20 721.1V725.9M64.70 719.4V725.9M65.20 720.4V726.2M65.70 717.2V728.8M66.20 720.0V727.4M66.70 721.0V725.9M67.20 720.5V726.0M67.70 720.4V725.9M68.20 720.4V726.2M68.70 718.4V726.8M69.20 719.6V728.0M69.70 719.4V726.9M70.20 719.5V731.0M70.70 715.6V740.5M71.20 717.0V731.1M71.70 717.7V729.3M72.20 713.4V731.2M72.70 712.8V734.7M73.20 714.1V731.3M73.70 717.0V734.5M74.20 718.8V743.7M74.70 711.4V732.2M75.20 708.6V729.7M75.70 713.6V733.8M76.20 718.7V744.7M76.70 715.3V742.0M77.20 710.3V734.9M77.70 709.5V735.0M78.20 713.8V739.0M78.70 715.0V731.7M79.20 714.8V731.5M79.70 718.5V731.4M80.20 719.4V732.3M80.70 718.3V726.2M81.20 720.4V726.2M81.70 720.4V729.3M82.20 720.6V726.0M82.70 720.4V725.6M83.20 716.9V725.8M83.70 720.4V725.6M84.20 720.6V725.9M84.70 720.4V725.6M85.20 718.3V725.9M85.70 721.0V725.7M86.20 720.5V725.5M86.70 721.1V728.7M87.20 720.5V725.5M87.70 720.4V725.6M88.20 721.0V725.7M88.70 721.1V725.5M89.20 720.5V727.5M89.70 720.7V725.4M90.20 720.9V725.6M90.70 720.2V726.8M91.20 718.4V726.2M91.70 718.0V726.2M92.20 720.4V730.4M92.70 720.4V726.2M93.20 720.4V726.2M93.70 720.8V726.2M94.20 721.1V725.8M94.70 721.0V726.1M95.20 720.5V725.5M95.70 720.9V725.8M96.20 720.8V731.2M96.70 720.4V725.9M97.20 720.7V725.8M97.70 720.9V726.2M98.20 720.4V725.5M98.70 720.9V726.1M99.20 714.6V725.7M99.70 720.5V725.9M100.20 720.6V725.6M100.70 720.9V726.0M101.20 720.4V725.9M101.70 721.1V725.8M102.20 720.6V725.4M102.70 720.7V726.1M103.20 721.1V726.0M103.70 720.7V726.0M104.20 720.7V729.8M104.70 720.5V725.6M105.20 720.4V725.8M105.70 720.9V726.2M106.20 720.6V726.2M106.70 720.5V725.8M107.20 720.5V725.8M107.70 720.9V725.7M108.20 716.6V726.2M108.70 720.4V726.2M109.20 720.6V725.7M109.70 721.0V726.1M110.20 721.0V725.6M110.70 720.9V726.0M111.20 721.1V725.7M111.70 720.4V726.2M112.20 720.4V725.5M112.70 721.1V725.6M113.20 720.4V726.2M113.70 716.5V726.2M114.20 716.3V728.4M114.70 719.0V731.1M115.20 719.2V732.0M115.70 707.5V731.5M116.20 715.8V728.2M116.70 709.7V728.9M117.20 708.2V732.2M117.70 706.6V733.6M118.20 716.9V727.2M118.70 704.7V728.2M119.20 717.5V726.9M119.70 714.9V733.4M120.20 715.4V729.3M120.70 713.8V732.1M121.20 711.4V735.1M121.70 705.6V729.6M122.20 708.2V737.3M122.70 716.2V729.9M123.20 701.9V727.1M123.70 711.1V729.3M124.20 712.4V730.9M124.70 717.6V727.0M125.20 716.1V726.2M125.70 720.2V726.2M126.20 720.5V726.1M126.70 720.8V730.5M127.20 720.4V726.2M127.70 721.1V726.1M128.20 720.9V726.1M128.70 720.8V726.2M129.20 720.9V726.1M129.70 720.6V725.6M130.20 720.7V725.7M130.70 721.1V725.6M131.20 720.9V725.5M131.70 720.5V725.8M132.20 721.2V725.4M132.70 720.4V726.0M133.20 720.8V725.7M133.70 720.5V727.2M134.20 720.8V725.5M134.70 720.4V726.1M135.20 720.6V725.6M135.70 719.6V726.2M136.20 721.1V725.7M136.70 720.6V729.0M137.20 720.9V725.6M137.70 720.9V725.5M138.20 720.6V727.4M138.70 720.4V725.8M139.20 720.8V725.4M139.70 721.1V725.5M140.20 720.6V726.1M140.70 720.7V725.7M141.20 720.5V726.0M141.70 721.0V726.0M142.20 720.7V725.5M142.70 720.8V726.2M143.20 721.1V725.8M143.70 720.8V725.9M144.20 720.7V725.9M144.70 720.4V726.2M145.20 720.1V726.2M145.70 720.2V726.2M146.20 718.5V726.2M146.70 714.7V726.2M147.20 720.4V726.2M147.70 720.5V725.8M148.20 721.0V725.5M148.70 720.9V726.2M149.20 720.8V725.9M149.70 720.6V726.0M150.20 720.9V725.7M150.70 715.8V725.8M151.20 720.6V726.2M151.70 720.7V725.4M152.20 721.1V727.2M152.70 720.6V725.9M153.20 721.0V725.7M153.70 721.0V725.9M154.20 721.1V725.8M154.70 720.7V725.7M155.20 720.9V726.1M155.70 720.8V726.0M156.20 720.6V725.6M156.70 721.1V725.6M157.20 720.4V726.1M157.70 720.6V726.2M158.20 720.5V725.8M158.70 720.7V725.9M159.20 720.7V725.8M159.70 721.1V726.0M160.20 721.1V726.2M160.70 720.5V725.8M161.20 720.9V725.5M161.70 721.0V725.8M162.20 720.4V725.6M162.70 720.5V726.2M163.20 720.6V725.5M163.70 720.6V731.4M164.20 721.1V725.9M164.70 720.5V725.7M165.20 720.6V725.6M165.70 720.7V725.8M166.20 721.1V726.2M166.70 720.9V726.0M167.20 720.4V725.6M167.70 720.6V726.0M168.20 720.7V730.4M168.70 720.5V725.5M169.20 720.7V725.8M169.70 720.6V726.2M170.20 720.5V726.1M170.70 721.0V725.8M171.20 720.4V726.2M171.70 720.4V726.2M172.20 719.5V727.5M172.70 718.6V726.2M173.20 715.2V726.3M173.70 715.8V730.8M174.20 718.4V731.4M174.70 718.5V729.2M175.20 718.0V728.4M175.70 720.4V730.5M176.20 719.5V727.6M176.70 718.5V727.8M177.20 718.9V733.2M177.70 718.3V729.8M178.20 716.2V731.1M178.70 712.2V732.3M179.20 716.5V740.3M179.70 713.8V727.2M180.20 720.1V727.9M180.70 720.4V733.8M181.20 720.4V730.2M181.70 720.2V738.1M182.20 714.7V729.0M182.70 718.6V730.9M183.20 716.0V728.0M183.70 715.8V729.0M184.20 717.8V733.0M184.70 719.8V731.4M185.20 720.4V729.6M185.70 720.4V726.4M186.20 720.4V726.2M186.70 715.8V726.0M187.20 720.5V726.2M187.70 720.6V725.8M188.20 721.1V725.7M188.70 720.9V726.2M189.20 720.6V726.2M189.70 720.5V726.1M190.20 721.2V725.5M190.70 720.7V726.2M191.20 717.1V726.1M191.70 720.9V725.8M192.20 721.0V726.2M192.70 720.9V725.9M193.20 720.7V725.8M193.70 720.9V725.7M194.20 721.1V725.7M194.70 720.7V726.2M195.20 721.1V726.0M195.70 720.4V729.1M196.20 720.6V725.5M196.70 720.6V726.2M197.20 720.7V726.1M197.70 720.9V725.5M198.20 720.7V726.0M198.70 721.1V725.6M199.20 720.8V725.8M199.70 720.7V726.2M200.20 720.7V725.8M200.70 718.4V726.1M201.20 721.1V726.2M201.70 720.9V732.0M202.20 721.0V729.3M202.70 720.8V726.2M203.20 720.6V725.8M203.70 720.7V725.9M204.20 720.9V725.7M204.70 720.8V725.7M205.20 721.0V726.9M205.70 720.4V725.6M206.20 720.4V725.9M206.70 720.5V726.2M207.20 720.5V726.2M207.70 720.4V726.0M208.20 720.6V725.6M208.70 720.4V727.9M209.20 720.4V727.3" fill="none" stroke="#ff0000" stroke-width="1.0"/>
<path d="M44.70,693.70V752.30H209.55" fill="none" stroke="#262626" stroke-width="1"/>
<line x1="44.70" y1="693.70" x2="47.30" y2="693.70" stroke="#262626" stroke-width="0.9"/>
<text x="38.70" y="697.10" font-size="9.8" text-anchor="end" font-weight="normal" fill="#000" >0.4</text>
<line x1="44.70" y1="708.50" x2="46.20" y2="708.50" stroke="#262626" stroke-width="0.9"/>
<line x1="44.70" y1="723.30" x2="47.30" y2="723.30" stroke="#262626" stroke-width="0.9"/>
<text x="38.70" y="726.70" font-size="9.8" text-anchor="end" font-weight="normal" fill="#000" >0.0</text>
<line x1="44.70" y1="737.80" x2="46.20" y2="737.80" stroke="#262626" stroke-width="0.9"/>
<line x1="44.70" y1="752.30" x2="47.30" y2="752.30" stroke="#262626" stroke-width="0.9"/>
<text x="38.70" y="755.70" font-size="9.8" text-anchor="end" font-weight="normal" fill="#000" >−0.4</text>
<line x1="44.70" y1="752.30" x2="44.70" y2="750.20" stroke="#262626" stroke-width="0.9"/>
<text x="44.70" y="764.80" font-size="9.8" text-anchor="middle" font-weight="normal" fill="#000" >0</text>
<line x1="56.48" y1="752.30" x2="56.48" y2="751.30" stroke="#262626" stroke-width="0.9"/>
<line x1="68.25" y1="752.30" x2="68.25" y2="750.20" stroke="#262626" stroke-width="0.9"/>
<text x="68.25" y="764.80" font-size="9.8" text-anchor="middle" font-weight="normal" fill="#000" >1</text>
<line x1="80.03" y1="752.30" x2="80.03" y2="751.30" stroke="#262626" stroke-width="0.9"/>
<line x1="91.80" y1="752.30" x2="91.80" y2="750.20" stroke="#262626" stroke-width="0.9"/>
<text x="91.80" y="764.80" font-size="9.8" text-anchor="middle" font-weight="normal" fill="#000" >2</text>
<line x1="103.58" y1="752.30" x2="103.58" y2="751.30" stroke="#262626" stroke-width="0.9"/>
<line x1="115.35" y1="752.30" x2="115.35" y2="750.20" stroke="#262626" stroke-width="0.9"/>
<text x="115.35" y="764.80" font-size="9.8" text-anchor="middle" font-weight="normal" fill="#000" >3</text>
<line x1="127.13" y1="752.30" x2="127.13" y2="751.30" stroke="#262626" stroke-width="0.9"/>
<line x1="138.90" y1="752.30" x2="138.90" y2="750.20" stroke="#262626" stroke-width="0.9"/>
<text x="138.90" y="764.80" font-size="9.8" text-anchor="middle" font-weight="normal" fill="#000" >4</text>
<line x1="150.68" y1="752.30" x2="150.68" y2="751.30" stroke="#262626" stroke-width="0.9"/>
<line x1="162.45" y1="752.30" x2="162.45" y2="750.20" stroke="#262626" stroke-width="0.9"/>
<text x="162.45" y="764.80" font-size="9.8" text-anchor="middle" font-weight="normal" fill="#000" >5</text>
<line x1="174.22" y1="752.30" x2="174.22" y2="751.30" stroke="#262626" stroke-width="0.9"/>
<line x1="186.00" y1="752.30" x2="186.00" y2="750.20" stroke="#262626" stroke-width="0.9"/>
<text x="186.00" y="764.80" font-size="9.8" text-anchor="middle" font-weight="normal" fill="#000" >6</text>
<line x1="197.78" y1="752.30" x2="197.78" y2="751.30" stroke="#262626" stroke-width="0.9"/>
<line x1="209.55" y1="752.30" x2="209.55" y2="750.20" stroke="#262626" stroke-width="0.9"/>
<text x="209.55" y="764.80" font-size="9.8" text-anchor="middle" font-weight="normal" fill="#000" >7</text>
<text x="127.12" y="779.00" font-size="10.5" text-anchor="middle" font-weight="normal" fill="#000" >Time (s)</text>
<text transform="translate(10.20,723.00) rotate(-90)" font-size="10.5" text-anchor="middle">sEMG (V)</text>
<text x="209.60" y="748.30" font-size="7.4" text-anchor="end" font-weight="normal" fill="#1a1a1a" >Channel one</text>
<path d="M44.70 819.5V820.8M45.20 819.4V821.0M45.70 819.3V821.0M46.20 819.5V820.9M46.70 819.5V820.9M47.20 819.5V821.1M47.70 819.5V821.0M48.20 819.4V821.0M48.70 819.4V820.8M49.20 819.5V821.0M49.70 819.4V821.1M50.20 819.4V820.9M50.70 819.5V821.0M51.20 819.6V821.1M51.70 819.5V821.0M52.20 819.4V820.9M52.70 819.5V821.0M53.20 819.4V820.8M53.70 819.4V821.0M54.20 819.4V820.9M54.70 819.6V821.0M55.20 819.4V820.9M55.70 819.4V821.0M56.20 819.4V821.0M56.70 819.4V821.0M57.20 819.4V820.8M57.70 819.4V820.9M58.20 819.5V820.9M58.70 819.5V820.9M59.20 819.5V820.9M59.70 819.5V820.9M60.20 819.5V821.0M60.70 819.5V821.0M61.20 819.3V821.0M61.70 819.4V821.0M62.20 819.5V820.9M62.70 819.4V820.9M63.20 819.5V821.0M63.70 819.4V820.9M64.20 819.5V821.0M64.70 819.4V821.1M65.20 819.4V820.9M65.70 819.4V821.1M66.20 819.3V821.2M66.70 818.9V824.2M67.20 817.0V837.2M67.70 812.1V834.1M68.20 815.1V828.0M68.70 816.1V826.1M69.20 817.0V833.7M69.70 814.3V831.4M70.20 804.9V827.0M70.70 814.8V834.9M71.20 815.6V836.8M71.70 810.1V830.1M72.20 808.3V829.4M72.70 801.1V846.7M73.20 813.0V831.6M73.70 813.9V826.5M74.20 810.4V829.2M74.70 804.8V828.4M75.20 813.3V829.2M75.70 815.1V831.9M76.20 807.9V837.4M76.70 813.7V827.4M77.20 812.4V834.0M77.70 809.3V831.7M78.20 811.0V827.9M78.70 817.1V829.4M79.20 814.7V828.1M79.70 815.8V836.9M80.20 817.6V824.6M80.70 817.3V823.3M81.20 818.2V825.4M81.70 817.5V825.2M82.20 816.0V822.9M82.70 818.7V822.1M83.20 818.4V823.0M83.70 819.2V822.1M84.20 817.9V822.5M84.70 819.3V821.2M85.20 818.8V821.2M85.70 819.3V821.7M86.20 819.2V821.9M86.70 819.3V821.1M87.20 819.3V821.1M87.70 819.4V821.0M88.20 819.5V820.9M88.70 819.5V821.0M89.20 819.5V821.0M89.70 819.3V821.0M90.20 819.4V820.9M90.70 819.5V821.0M91.20 819.4V821.1M91.70 819.5V820.8M92.20 819.5V821.0M92.70 819.5V821.0M93.20 819.4V821.0M93.70 819.3V820.9M94.20 819.3V820.9M94.70 819.4V821.0M95.20 819.5V820.9M95.70 819.4V820.9M96.20 819.5V820.8M96.70 819.4V820.9M97.20 819.5V820.9M97.70 819.4V820.9M98.20 819.5V820.9M98.70 819.5V821.0M99.20 819.5V821.0M99.70 819.3V821.1M100.20 819.5V821.0M100.70 819.5V820.8M101.20 819.4V821.0M101.70 819.5V820.9M102.20 819.4V821.0M102.70 819.5V821.0M103.20 819.6V820.9M103.70 819.4V820.9M104.20 819.5V821.0M104.70 819.3V820.9M105.20 819.5V820.9M105.70 819.3V820.8M106.20 819.4V821.0M106.70 819.3V820.9M107.20 819.4V820.9M107.70 819.3V821.1M108.20 819.4V821.0M108.70 819.5V820.9M109.20 819.3V821.0M109.70 819.5V820.9M110.20 819.4V821.0M110.70 819.4V821.0M111.20 819.3V821.8M111.70 817.6V823.5M112.20 817.5V824.4M112.70 807.4V823.4M113.20 817.6V826.0M113.70 816.4V831.4M114.20 811.0V831.8M114.70 813.5V837.7M115.20 814.2V825.6M115.70 807.1V826.6M116.20 810.4V826.7M116.70 811.5V838.1M117.20 814.7V836.8M117.70 808.3V829.4M118.20 809.8V833.2M118.70 810.0V828.0M119.20 811.0V830.5M119.70 808.7V829.6M120.20 812.3V839.2M120.70 803.3V841.5M121.20 810.4V825.8M121.70 813.9V827.5M122.20 808.9V831.5M122.70 815.7V832.5M123.20 814.5V828.1M123.70 814.3V825.4M124.20 815.8V836.9M124.70 814.6V825.7M125.20 815.1V829.4M125.70 810.8V823.8M126.20 812.5V823.7M126.70 816.4V830.6M127.20 813.9V830.1M127.70 814.7V825.1M128.20 817.0V830.2M128.70 815.1V827.2M129.20 818.1V823.1M129.70 818.6V824.8M130.20 817.1V825.0M130.70 817.0V821.6M131.20 817.5V822.2M131.70 818.2V823.0M132.20 819.3V821.8M132.70 819.3V821.1M133.20 819.3V821.1M133.70 819.4V820.9M134.20 819.6V821.1M134.70 819.5V821.0M135.20 819.5V821.1M135.70 819.5V820.9M136.20 819.4V820.9M136.70 819.5V820.9M137.20 819.4V821.0M137.70 819.4V820.9M138.20 819.5V821.1M138.70 819.5V820.9M139.20 819.5V820.9M139.70 819.5V820.9M140.20 819.4V821.0M140.70 819.3V821.1M141.20 819.5V821.0M141.70 819.5V821.1M142.20 819.4V820.9M142.70 819.4V820.9M143.20 819.6V820.8M143.70 819.5V821.0M144.20 819.5V820.9M144.70 819.4V820.9M145.20 819.5V820.9M145.70 819.6V821.1M146.20 819.4V820.8M146.70 819.6V820.9M147.20 819.5V820.9M147.70 819.4V821.0M148.20 819.4V820.8M148.70 819.4V821.0M149.20 819.4V820.9M149.70 819.4V820.9M150.20 819.4V821.0M150.70 819.4V821.0M151.20 819.3V820.9M151.70 819.5V820.9M152.20 819.4V820.9M152.70 819.5V821.0M153.20 819.4V820.8M153.70 819.4V820.9M154.20 819.5V821.0M154.70 819.4V820.9M155.20 819.5V820.9M155.70 819.3V820.9M156.20 819.4V820.9M156.70 819.4V820.9M157.20 819.4V821.1M157.70 819.5V821.0M158.20 819.3V821.0M158.70 819.4V821.0M159.20 819.4V820.9M159.70 819.4V820.9M160.20 819.4V821.0M160.70 819.3V821.1M161.20 819.5V820.9M161.70 819.4V820.9M162.20 819.4V820.9M162.70 819.4V821.0M163.20 819.5V820.8M163.70 819.5V821.0M164.20 819.4V821.1M164.70 819.5V821.0M165.20 819.5V821.0M165.70 819.5V820.8M166.20 819.4V820.9M166.70 819.4V821.0M167.20 819.6V821.0M167.70 818.1V822.9M168.20 817.9V822.6M168.70 815.1V830.0M169.20 814.2V825.5M169.70 815.9V830.1M170.20 814.7V832.4M170.70 815.6V829.0M171.20 814.8V826.9M171.70 810.6V829.1M172.20 814.3V830.4M172.70 809.7V825.6M173.20 810.9V836.6M173.70 816.3V828.5M174.20 809.0V825.3M174.70 806.3V831.5M175.20 811.7V831.4M175.70 815.2V840.0M176.20 811.9V832.9M176.70 802.6V827.2M177.20 810.9V839.7M177.70 803.4V826.3M178.20 808.0V834.1M178.70 806.7V828.5M179.20 811.3V837.5M179.70 812.6V826.6M180.20 814.3V832.1M180.70 812.7V825.4M181.20 808.9V834.7M181.70 807.1V833.6M182.20 812.5V828.7M182.70 816.1V828.9M183.20 816.9V824.7M183.70 811.1V825.5M184.20 815.2V824.4M184.70 817.7V827.6M185.20 816.2V823.3M185.70 815.3V822.4M186.20 817.9V822.0M186.70 817.2V821.5M187.20 817.5V821.7M187.70 818.8V823.6M188.20 818.1V823.3M188.70 818.1V822.4M189.20 819.1V821.6M189.70 819.3V821.2M190.20 819.3V821.1M190.70 819.3V821.1M191.20 819.5V821.1M191.70 819.5V820.9M192.20 819.4V820.9M192.70 819.3V821.0M193.20 819.6V820.9M193.70 819.4V821.0M194.20 819.6V821.0M194.70 819.5V821.0M195.20 819.4V820.9M195.70 819.3V821.0M196.20 819.6V820.9M196.70 819.3V821.1M197.20 819.4V821.0M197.70 819.5V821.0M198.20 819.4V821.1M198.70 819.5V821.1M199.20 819.4V820.9M199.70 819.5V821.0M200.20 819.5V821.0M200.70 819.5V820.9M201.20 819.4V821.1M201.70 819.4V821.0M202.20 819.5V821.0M202.70 819.4V821.1M203.20 819.4V820.9M203.70 819.6V821.0M204.20 819.5V821.1M204.70 819.4V820.9M205.20 819.5V821.0M205.70 819.3V821.0M206.20 819.4V821.0M206.70 819.4V821.0M207.20 819.5V821.1M207.70 819.6V821.1M208.20 819.5V821.0M208.70 819.4V820.9M209.20 819.5V821.0" fill="none" stroke="#ff0000" stroke-width="1.0"/>
<path d="M44.70,790.80V849.10H209.55" fill="none" stroke="#262626" stroke-width="1"/>
<line x1="44.70" y1="790.80" x2="47.30" y2="790.80" stroke="#262626" stroke-width="0.9"/>
<text x="38.70" y="794.20" font-size="9.8" text-anchor="end" font-weight="normal" fill="#000" >2.0</text>
<line x1="44.70" y1="805.50" x2="46.20" y2="805.50" stroke="#262626" stroke-width="0.9"/>
<line x1="44.70" y1="820.20" x2="47.30" y2="820.20" stroke="#262626" stroke-width="0.9"/>
<text x="38.70" y="823.60" font-size="9.8" text-anchor="end" font-weight="normal" fill="#000" >0.0</text>
<line x1="44.70" y1="834.65" x2="46.20" y2="834.65" stroke="#262626" stroke-width="0.9"/>
<line x1="44.70" y1="849.10" x2="47.30" y2="849.10" stroke="#262626" stroke-width="0.9"/>
<text x="38.70" y="852.50" font-size="9.8" text-anchor="end" font-weight="normal" fill="#000" >−2.0</text>
<line x1="44.70" y1="849.10" x2="44.70" y2="847.00" stroke="#262626" stroke-width="0.9"/>
<text x="44.70" y="861.80" font-size="9.8" text-anchor="middle" font-weight="normal" fill="#000" >0</text>
<line x1="56.48" y1="849.10" x2="56.48" y2="848.10" stroke="#262626" stroke-width="0.9"/>
<line x1="68.25" y1="849.10" x2="68.25" y2="847.00" stroke="#262626" stroke-width="0.9"/>
<text x="68.25" y="861.80" font-size="9.8" text-anchor="middle" font-weight="normal" fill="#000" >1</text>
<line x1="80.03" y1="849.10" x2="80.03" y2="848.10" stroke="#262626" stroke-width="0.9"/>
<line x1="91.80" y1="849.10" x2="91.80" y2="847.00" stroke="#262626" stroke-width="0.9"/>
<text x="91.80" y="861.80" font-size="9.8" text-anchor="middle" font-weight="normal" fill="#000" >2</text>
<line x1="103.58" y1="849.10" x2="103.58" y2="848.10" stroke="#262626" stroke-width="0.9"/>
<line x1="115.35" y1="849.10" x2="115.35" y2="847.00" stroke="#262626" stroke-width="0.9"/>
<text x="115.35" y="861.80" font-size="9.8" text-anchor="middle" font-weight="normal" fill="#000" >3</text>
<line x1="127.13" y1="849.10" x2="127.13" y2="848.10" stroke="#262626" stroke-width="0.9"/>
<line x1="138.90" y1="849.10" x2="138.90" y2="847.00" stroke="#262626" stroke-width="0.9"/>
<text x="138.90" y="861.80" font-size="9.8" text-anchor="middle" font-weight="normal" fill="#000" >4</text>
<line x1="150.68" y1="849.10" x2="150.68" y2="848.10" stroke="#262626" stroke-width="0.9"/>
<line x1="162.45" y1="849.10" x2="162.45" y2="847.00" stroke="#262626" stroke-width="0.9"/>
<text x="162.45" y="861.80" font-size="9.8" text-anchor="middle" font-weight="normal" fill="#000" >5</text>
<line x1="174.22" y1="849.10" x2="174.22" y2="848.10" stroke="#262626" stroke-width="0.9"/>
<line x1="186.00" y1="849.10" x2="186.00" y2="847.00" stroke="#262626" stroke-width="0.9"/>
<text x="186.00" y="861.80" font-size="9.8" text-anchor="middle" font-weight="normal" fill="#000" >6</text>
<line x1="197.78" y1="849.10" x2="197.78" y2="848.10" stroke="#262626" stroke-width="0.9"/>
<line x1="209.55" y1="849.10" x2="209.55" y2="847.00" stroke="#262626" stroke-width="0.9"/>
<text x="209.55" y="861.80" font-size="9.8" text-anchor="middle" font-weight="normal" fill="#000" >7</text>
<text x="127.12" y="878.20" font-size="10.5" text-anchor="middle" font-weight="normal" fill="#000" >Time (s)</text>
<text transform="translate(10.20,819.95) rotate(-90)" font-size="10.5" text-anchor="middle">sEMG (V)</text>
<text x="211.30" y="846.80" font-size="7.4" text-anchor="end" font-weight="normal" fill="#1a1a1a" >Channel two</text>
<path d="M278.70 722.1V724.4M279.20 722.0V724.3M279.70 722.1V724.3M280.20 722.1V724.5M280.70 722.0V724.5M281.20 722.1V724.4M281.70 722.1V724.5M282.20 722.1V724.5M282.70 722.1V724.6M283.20 722.1V724.6M283.70 722.1V724.4M284.20 722.1V724.4M284.70 722.0V724.6M285.20 722.0V724.6M285.70 722.1V724.4M286.20 722.2V724.5M286.70 722.0V724.4M287.20 722.3V724.5M287.70 722.0V724.3M288.20 722.3V724.3M288.70 722.1V724.6M289.20 722.3V724.5M289.70 722.3V724.3M290.20 722.1V724.5M290.70 722.2V724.5M291.20 722.2V724.4M291.70 722.2V724.3M292.20 722.3V724.4M292.70 722.1V724.3M293.20 722.3V724.6M293.70 722.0V724.6M294.20 720.6V726.3M294.70 720.5V725.7M295.20 720.3V726.0M295.70 720.1V733.6M296.20 718.5V730.8M296.70 716.0V736.7M297.20 710.5V735.9M297.70 715.7V735.0M298.20 709.3V737.5M298.70 713.0V728.6M299.20 717.1V729.4M299.70 718.1V736.9M300.20 711.4V728.8M300.70 712.0V733.7M301.20 710.3V740.6M301.70 717.4V738.0M302.20 708.9V735.9M302.70 715.3V737.2M303.20 706.3V738.2M303.70 718.0V729.7M304.20 708.1V739.8M304.70 711.1V738.6M305.20 706.9V729.1M305.70 717.4V736.6M306.20 707.1V736.5M306.70 708.0V731.8M307.20 712.9V727.8M307.70 714.1V727.8M308.20 716.9V736.9M308.70 719.9V732.0M309.20 715.1V736.1M309.70 718.7V730.2M310.20 716.9V727.4M310.70 718.2V725.6M311.20 718.4V729.7M311.70 718.6V726.5M312.20 719.4V725.1M312.70 721.7V725.1M313.20 719.2V725.7M313.70 721.5V727.1M314.20 722.0V724.6M314.70 722.0V724.6M315.20 721.1V726.4M315.70 721.6V725.6M316.20 722.0V724.9M316.70 722.0V724.6M317.20 721.3V724.6M317.70 722.0V724.6M318.20 722.2V724.5M318.70 722.1V724.4M319.20 722.1V724.6M319.70 722.2V724.6M320.20 722.3V724.5M320.70 722.0V724.4M321.20 722.2V724.4M321.70 722.2V724.4M322.20 722.2V724.3M322.70 722.1V724.3M323.20 722.3V724.4M323.70 722.0V724.4M324.20 722.3V724.5M324.70 722.1V724.3M325.20 722.0V724.3M325.70 722.1V724.3M326.20 722.0V724.4M326.70 722.1V724.5M327.20 722.1V724.4M327.70 722.2V724.5M328.20 722.2V724.5M328.70 722.3V724.3M329.20 722.3V724.5M329.70 722.3V724.5M330.20 722.2V724.6M330.70 722.1V724.6M331.20 722.3V724.6M331.70 722.2V724.3M332.20 722.0V724.3M332.70 722.1V724.3M333.20 722.2V724.4M333.70 722.2V724.6M334.20 722.2V724.6M334.70 722.3V724.6M335.20 722.2V724.5M335.70 722.0V724.5M336.20 722.0V724.3M336.70 722.0V724.3M337.20 722.1V724.6M337.70 722.1V724.5M338.20 722.1V724.6M338.70 722.3V724.6M339.20 722.1V724.3M339.70 722.2V724.4M340.20 722.3V724.6M340.70 722.0V724.5M341.20 722.3V724.5M341.70 722.0V724.5M342.20 722.0V724.6M342.70 722.1V724.5M343.20 722.2V724.5M343.70 722.2V724.3M344.20 722.2V724.4M344.70 722.3V724.3M345.20 722.2V724.3M345.70 722.3V724.5M346.20 722.0V724.4M346.70 722.1V724.6M347.20 722.3V724.5M347.70 722.1V724.3M348.20 722.0V724.5M348.70 722.2V724.4M349.20 722.0V724.6M349.70 721.8V724.9M350.20 718.6V726.5M350.70 716.9V726.3M351.20 714.1V730.6M351.70 716.5V732.4M352.20 714.8V728.2M352.70 718.8V731.3M353.20 711.2V731.5M353.70 716.0V733.4M354.20 717.8V739.2M354.70 718.6V730.8M355.20 718.2V730.2M355.70 716.0V738.3M356.20 712.1V736.2M356.70 717.5V734.8M357.20 708.1V729.0M357.70 718.7V728.4M358.20 714.2V732.4M358.70 718.0V740.6M359.20 714.3V733.2M359.70 717.2V738.0M360.20 712.1V731.4M360.70 715.8V727.3M361.20 718.4V738.9M361.70 716.3V730.3M362.20 713.9V728.9M362.70 717.3V731.1M363.20 713.2V732.5M363.70 720.4V733.8M364.20 718.2V730.0M364.70 719.0V732.3M365.20 720.3V726.9M365.70 719.7V728.1M366.20 720.6V726.0M366.70 721.6V725.2M367.20 721.5V725.1M367.70 721.1V725.0M368.20 721.4V724.6M368.70 721.4V724.6M369.20 722.0V724.6M369.70 722.2V724.4M370.20 722.3V724.5M370.70 722.1V724.3M371.20 722.3V724.3M371.70 722.3V724.4M372.20 722.1V724.6M372.70 722.0V724.3M373.20 722.3V724.3M373.70 722.3V724.3M374.20 722.2V724.6M374.70 722.0V724.3M375.20 722.3V724.4M375.70 722.0V724.3M376.20 722.2V724.6M376.70 722.1V724.3M377.20 722.2V724.5M377.70 722.3V724.6M378.20 722.1V724.4M378.70 722.2V724.3M379.20 722.0V724.3M379.70 722.1V724.5M380.20 722.1V724.5M380.70 722.2V724.5M381.20 722.3V724.5M381.70 722.1V724.4M382.20 722.1V724.5M382.70 722.3V724.3M383.20 722.3V724.5M383.70 722.0V724.3M384.20 722.0V724.3M384.70 722.2V724.6M385.20 722.2V724.6M385.70 722.3V724.4M386.20 722.0V724.5M386.70 722.3V724.4M387.20 722.2V724.3M387.70 722.0V724.3M388.20 722.0V724.5M388.70 722.1V724.4M389.20 722.3V724.4M389.70 722.0V724.3M390.20 722.2V724.5M390.70 722.0V724.5M391.20 722.0V724.5M391.70 722.2V724.6M392.20 722.3V724.5M392.70 722.3V724.3M393.20 722.3V724.4M393.70 722.1V724.5M394.20 722.1V724.4M394.70 722.2V724.4M395.20 722.2V724.4M395.70 722.1V724.3M396.20 722.0V724.3M396.70 722.0V724.3M397.20 722.3V724.6M397.70 722.2V724.4M398.20 722.1V724.3M398.70 722.1V724.6M399.20 722.2V724.3M399.70 722.3V724.6M400.20 722.3V724.5M400.70 722.1V724.5M401.20 722.1V724.4M401.70 722.1V724.5M402.20 722.3V724.3M402.70 722.1V724.5M403.20 722.1V724.4M403.70 722.0V724.5M404.20 722.2V724.3M404.70 722.3V724.4M405.20 722.1V724.4M405.70 722.0V724.6M406.20 720.8V725.9M406.70 720.2V726.1M407.20 714.5V729.3M407.70 718.1V728.1M408.20 716.1V730.4M408.70 716.4V737.5M409.20 710.7V732.8M409.70 705.8V731.2M410.20 712.2V731.3M410.70 710.7V735.5M411.20 714.4V732.3M411.70 717.9V732.2M412.20 715.0V734.0M412.70 710.0V736.0M413.20 717.5V730.8M413.70 714.1V738.1M414.20 711.7V733.1M414.70 718.4V740.9M415.20 717.7V727.8M415.70 717.0V727.4M416.20 711.0V731.1M416.70 713.6V728.9M417.20 703.4V731.8M417.70 710.9V727.7M418.20 704.9V733.6M418.70 718.0V735.3M419.20 717.5V738.0M419.70 714.8V735.8M420.20 706.7V727.6M420.70 717.2V727.7M421.20 716.7V734.1M421.70 716.0V728.2M422.20 719.1V733.8M422.70 714.5V728.6M423.20 712.7V726.7M423.70 719.9V725.4M424.20 718.6V725.6M424.70 721.2V727.1M425.20 716.9V726.3M425.70 719.1V724.6M426.20 719.9V724.7M426.70 719.9V724.6M427.20 722.0V724.6M427.70 722.0V724.6M428.20 722.0V724.6M428.70 722.2V724.3M429.20 722.0V724.5M429.70 722.2V724.3M430.20 722.2V724.4M430.70 722.3V724.6M431.20 722.1V724.5M431.70 722.2V724.6M432.20 722.1V724.4M432.70 722.2V724.6M433.20 722.1V724.5M433.70 722.3V724.6M434.20 722.1V724.6M434.70 722.2V724.3M435.20 722.3V724.4M435.70 722.2V724.3M436.20 722.1V724.3M436.70 722.0V724.3M437.20 722.3V724.3M437.70 722.1V724.6M438.20 722.1V724.3M438.70 722.0V724.5M439.20 722.3V724.6M439.70 722.1V724.3M440.20 722.2V724.3M440.70 722.3V724.3M441.20 722.0V724.4M441.70 722.1V724.6M442.20 722.2V724.3M442.70 722.3V724.6M443.20 722.2V724.3M443.70 722.3V724.4" fill="none" stroke="#ff0000" stroke-width="1.0"/>
<path d="M278.70,693.70V752.30H443.90" fill="none" stroke="#262626" stroke-width="1"/>
<line x1="278.70" y1="693.80" x2="281.30" y2="693.80" stroke="#262626" stroke-width="0.9"/>
<text x="270.20" y="697.20" font-size="9.8" text-anchor="end" font-weight="normal" fill="#000" >1.0</text>
<line x1="278.70" y1="708.60" x2="280.20" y2="708.60" stroke="#262626" stroke-width="0.9"/>
<line x1="278.70" y1="723.40" x2="281.30" y2="723.40" stroke="#262626" stroke-width="0.9"/>
<text x="270.20" y="726.80" font-size="9.8" text-anchor="end" font-weight="normal" fill="#000" >0.0</text>
<line x1="278.70" y1="737.90" x2="280.20" y2="737.90" stroke="#262626" stroke-width="0.9"/>
<line x1="278.70" y1="752.40" x2="281.30" y2="752.40" stroke="#262626" stroke-width="0.9"/>
<text x="270.20" y="755.80" font-size="9.8" text-anchor="end" font-weight="normal" fill="#000" >−1.0</text>
<line x1="278.70" y1="752.30" x2="278.70" y2="750.20" stroke="#262626" stroke-width="0.9"/>
<text x="278.70" y="764.80" font-size="9.8" text-anchor="middle" font-weight="normal" fill="#000" >0</text>
<line x1="290.50" y1="752.30" x2="290.50" y2="751.30" stroke="#262626" stroke-width="0.9"/>
<line x1="302.30" y1="752.30" x2="302.30" y2="750.20" stroke="#262626" stroke-width="0.9"/>
<text x="302.30" y="764.80" font-size="9.8" text-anchor="middle" font-weight="normal" fill="#000" >1</text>
<line x1="314.10" y1="752.30" x2="314.10" y2="751.30" stroke="#262626" stroke-width="0.9"/>
<line x1="325.90" y1="752.30" x2="325.90" y2="750.20" stroke="#262626" stroke-width="0.9"/>
<text x="325.90" y="764.80" font-size="9.8" text-anchor="middle" font-weight="normal" fill="#000" >2</text>
<line x1="337.70" y1="752.30" x2="337.70" y2="751.30" stroke="#262626" stroke-width="0.9"/>
<line x1="349.50" y1="752.30" x2="349.50" y2="750.20" stroke="#262626" stroke-width="0.9"/>
<text x="349.50" y="764.80" font-size="9.8" text-anchor="middle" font-weight="normal" fill="#000" >3</text>
<line x1="361.30" y1="752.30" x2="361.30" y2="751.30" stroke="#262626" stroke-width="0.9"/>
<line x1="373.10" y1="752.30" x2="373.10" y2="750.20" stroke="#262626" stroke-width="0.9"/>
<text x="373.10" y="764.80" font-size="9.8" text-anchor="middle" font-weight="normal" fill="#000" >4</text>
<line x1="384.90" y1="752.30" x2="384.90" y2="751.30" stroke="#262626" stroke-width="0.9"/>
<line x1="396.70" y1="752.30" x2="396.70" y2="750.20" stroke="#262626" stroke-width="0.9"/>
<text x="396.70" y="764.80" font-size="9.8" text-anchor="middle" font-weight="normal" fill="#000" >5</text>
<line x1="408.50" y1="752.30" x2="408.50" y2="751.30" stroke="#262626" stroke-width="0.9"/>
<line x1="420.30" y1="752.30" x2="420.30" y2="750.20" stroke="#262626" stroke-width="0.9"/>
<text x="420.30" y="764.80" font-size="9.8" text-anchor="middle" font-weight="normal" fill="#000" >6</text>
<line x1="432.10" y1="752.30" x2="432.10" y2="751.30" stroke="#262626" stroke-width="0.9"/>
<line x1="443.90" y1="752.30" x2="443.90" y2="750.20" stroke="#262626" stroke-width="0.9"/>
<text x="443.90" y="764.80" font-size="9.8" text-anchor="middle" font-weight="normal" fill="#000" >7</text>
<text x="361.30" y="779.00" font-size="10.5" text-anchor="middle" font-weight="normal" fill="#000" >Time (s)</text>
<text transform="translate(242.70,723.00) rotate(-90)" font-size="10.5" text-anchor="middle">sEMG (V)</text>
<text x="444.10" y="748.70" font-size="7.4" text-anchor="end" font-weight="normal" fill="#1a1a1a" >Channel one</text>
<path d="M278.70 819.0V821.6M279.20 818.8V821.6M279.70 818.9V821.5M280.20 819.0V821.5M280.70 819.1V821.6M281.20 819.0V821.6M281.70 818.8V821.3M282.20 819.1V821.5M282.70 819.0V821.5M283.20 818.8V821.4M283.70 819.1V821.5M284.20 818.9V821.5M284.70 819.1V821.4M285.20 818.9V821.6M285.70 819.0V821.4M286.20 819.0V821.6M286.70 819.0V821.6M287.20 818.9V821.5M287.70 819.1V821.6M288.20 819.0V821.4M288.70 819.0V821.6M289.20 818.8V821.6M289.70 818.7V821.4M290.20 818.7V821.6M290.70 818.8V821.6M291.20 819.1V821.3M291.70 819.1V821.6M292.20 818.9V821.3M292.70 818.9V821.6M293.20 819.1V821.5M293.70 819.0V821.5M294.20 818.7V821.7M294.70 817.3V821.7M295.20 817.9V822.4M295.70 814.8V825.9M296.20 817.1V822.7M296.70 817.6V823.6M297.20 815.2V823.4M297.70 816.7V823.3M298.20 816.3V824.6M298.70 817.0V823.6M299.20 816.9V832.6M299.70 815.4V823.5M300.20 809.8V825.0M300.70 813.0V826.7M301.20 814.3V832.2M301.70 816.2V826.9M302.20 810.4V824.5M302.70 816.9V829.0M303.20 812.4V825.7M303.70 815.9V834.9M304.20 817.0V832.3M304.70 805.0V829.4M305.20 811.2V825.1M305.70 815.4V827.3M306.20 815.6V824.6M306.70 816.4V826.9M307.20 809.5V826.3M307.70 809.9V829.3M308.20 807.3V830.2M308.70 812.0V829.5M309.20 808.4V827.1M309.70 815.3V827.2M310.20 815.5V823.7M310.70 815.5V831.3M311.20 809.6V827.4M311.70 814.0V822.6M312.20 817.5V822.1M312.70 816.9V824.7M313.20 815.6V823.0M313.70 815.3V823.7M314.20 817.4V822.2M314.70 816.9V821.7M315.20 816.6V823.6M315.70 818.1V822.0M316.20 817.2V824.2M316.70 818.4V822.2M317.20 817.2V821.9M317.70 818.7V821.7M318.20 818.7V821.8M318.70 818.7V821.7M319.20 818.7V821.7M319.70 818.9V821.5M320.20 818.8V821.6M320.70 819.1V821.5M321.20 819.0V821.6M321.70 819.1V821.6M322.20 819.0V821.4M322.70 819.0V821.3M323.20 819.1V821.4M323.70 818.8V821.3M324.20 818.9V821.4M324.70 819.1V821.4M325.20 819.1V821.5M325.70 818.8V821.5M326.20 819.0V821.3M326.70 818.8V821.4M327.20 819.1V821.5M327.70 819.0V821.6M328.20 819.1V821.4M328.70 818.9V821.4M329.20 819.1V821.6M329.70 818.7V821.3M330.20 818.8V821.5M330.70 818.9V821.7M331.20 819.0V821.4M331.70 819.1V821.5M332.20 819.0V821.4M332.70 818.8V821.6M333.20 818.8V821.5M333.70 818.9V821.3M334.20 818.9V821.4M334.70 818.9V821.4M335.20 818.7V821.3M335.70 819.1V821.3M336.20 819.1V821.6M336.70 819.1V821.5M337.20 819.0V821.4M337.70 818.8V821.5M338.20 819.1V821.4M338.70 818.8V821.5M339.20 818.8V821.4M339.70 819.0V821.3M340.20 818.8V821.5M340.70 818.8V821.6M341.20 818.9V821.6M341.70 819.1V821.6M342.20 818.9V821.5M342.70 819.1V821.5M343.20 819.0V821.5M343.70 819.1V821.6M344.20 819.1V821.5M344.70 819.0V821.6M345.20 819.1V821.3M345.70 818.9V821.6M346.20 819.0V821.5M346.70 819.0V821.5M347.20 818.9V821.4M347.70 818.9V821.5M348.20 818.7V821.7M348.70 818.3V821.8M349.20 817.5V821.7M349.70 813.5V822.4M350.20 816.0V823.7M350.70 816.1V822.7M351.20 815.2V822.4M351.70 813.7V824.1M352.20 811.5V827.7M352.70 815.4V823.6M353.20 811.6V823.7M353.70 812.3V825.3M354.20 801.7V834.5M354.70 816.5V824.0M355.20 809.7V826.0M355.70 813.0V830.2M356.20 814.8V825.8M356.70 809.7V826.0M357.20 809.5V824.7M357.70 804.0V828.0M358.20 812.3V836.3M358.70 798.8V831.7M359.20 813.1V827.6M359.70 813.4V824.3M360.20 811.4V823.0M360.70 811.0V833.7M361.20 812.9V825.2M361.70 811.3V835.8M362.20 810.0V828.8M362.70 812.5V832.3M363.20 813.8V828.8M363.70 813.7V824.4M364.20 810.9V824.4M364.70 808.0V827.1M365.20 812.4V824.3M365.70 815.0V826.5M366.20 813.0V827.0M366.70 813.6V822.6M367.20 816.3V822.9M367.70 814.1V825.4M368.20 817.2V824.0M368.70 816.8V824.3M369.20 818.3V821.7M369.70 817.1V822.3M370.20 818.7V821.9M370.70 818.7V821.7M371.20 818.8V821.4M371.70 818.8V821.3M372.20 818.8V821.5M372.70 818.8V821.5M373.20 818.8V821.4M373.70 818.8V821.7M374.20 819.1V821.3M374.70 818.8V821.6M375.20 819.0V821.6M375.70 819.0V821.4M376.20 818.8V821.5M376.70 819.1V821.4M377.20 818.7V821.4M377.70 818.9V821.5M378.20 819.1V821.6M378.70 819.0V821.5M379.20 819.0V821.6M379.70 818.9V821.5M380.20 819.0V821.6M380.70 819.0V821.4M381.20 819.0V821.4M381.70 819.0V821.6M382.20 818.8V821.6M382.70 819.1V821.5M383.20 819.0V821.3M383.70 818.9V821.6M384.20 818.8V821.3M384.70 818.8V821.3M385.20 819.0V821.3M385.70 819.1V821.5M386.20 818.8V821.5M386.70 818.8V821.5M387.20 819.0V821.3M387.70 818.8V821.4M388.20 819.1V821.5M388.70 818.8V821.7M389.20 819.0V821.6M389.70 818.8V821.6M390.20 818.8V821.4M390.70 819.0V821.4M391.20 819.1V821.3M391.70 818.9V821.6M392.20 818.9V821.3M392.70 818.9V821.4M393.20 819.1V821.4M393.70 818.9V821.6M394.20 818.9V821.5M394.70 818.8V821.7M395.20 818.8V821.6M395.70 819.1V821.6M396.20 818.8V821.5M396.70 819.1V821.6M397.20 819.1V821.6M397.70 818.9V821.3M398.20 818.9V821.6M398.70 818.9V821.5M399.20 818.8V821.3M399.70 818.9V821.6M400.20 819.1V821.4M400.70 818.8V821.3M401.20 818.8V821.3M401.70 818.8V821.5M402.20 818.8V821.3M402.70 818.8V821.4M403.20 818.8V821.4M403.70 819.1V821.3M404.20 819.1V821.6M404.70 818.8V821.4M405.20 818.8V821.5M405.70 818.8V821.6M406.20 819.0V821.5M406.70 818.7V821.7M407.20 818.7V821.9M407.70 818.1V823.7M408.20 817.3V822.3M408.70 815.0V826.2M409.20 818.5V822.6M409.70 818.2V824.2M410.20 815.2V823.9M410.70 816.0V825.6M411.20 817.6V823.5M411.70 812.0V828.5M412.20 814.1V823.1M412.70 815.0V825.5M413.20 816.4V825.6M413.70 809.5V823.9M414.20 816.3V829.7M414.70 810.1V825.2M415.20 816.2V826.2M415.70 812.8V831.9M416.20 814.6V828.2M416.70 811.0V827.4M417.20 809.2V830.5M417.70 811.9V831.8M418.20 815.8V835.3M418.70 815.4V833.1M419.20 806.7V829.4M419.70 816.2V825.2M420.20 814.7V833.6M420.70 811.1V835.4M421.20 810.1V826.8M421.70 807.8V832.6M422.20 809.7V825.2M422.70 809.9V827.3M423.20 809.2V826.9M423.70 814.0V828.3M424.20 812.4V824.5M424.70 814.0V823.8M425.20 818.2V826.0M425.70 818.4V826.5M426.20 817.0V822.5M426.70 816.1V824.3M427.20 818.7V822.0M427.70 816.7V821.7M428.20 817.8V823.5M428.70 818.7V822.2M429.20 818.7V821.7M429.70 818.8V821.5M430.20 818.8V821.3M430.70 819.1V821.3M431.20 819.0V821.5M431.70 818.9V821.3M432.20 819.1V821.6M432.70 819.0V821.3M433.20 819.1V821.3M433.70 818.8V821.6M434.20 819.0V821.5M434.70 818.8V821.6M435.20 819.0V821.6M435.70 818.9V821.5M436.20 818.8V821.3M436.70 819.1V821.4M437.20 819.1V821.4M437.70 818.9V821.3M438.20 818.8V821.4M438.70 818.9V821.3M439.20 819.1V821.6M439.70 819.0V821.3M440.20 819.0V821.6M440.70 818.8V821.3M441.20 818.8V821.3M441.70 819.1V821.3M442.20 819.0V821.5M442.70 818.8V821.4M443.20 818.9V821.4M443.70 818.9V821.6" fill="none" stroke="#ff0000" stroke-width="1.0"/>
<path d="M278.70,790.80V849.10H443.90" fill="none" stroke="#262626" stroke-width="1"/>
<line x1="278.70" y1="790.70" x2="281.30" y2="790.70" stroke="#262626" stroke-width="0.9"/>
<text x="270.20" y="794.10" font-size="9.8" text-anchor="end" font-weight="normal" fill="#000" >1.0</text>
<line x1="278.70" y1="805.40" x2="280.20" y2="805.40" stroke="#262626" stroke-width="0.9"/>
<line x1="278.70" y1="820.10" x2="281.30" y2="820.10" stroke="#262626" stroke-width="0.9"/>
<text x="270.20" y="823.50" font-size="9.8" text-anchor="end" font-weight="normal" fill="#000" >0.0</text>
<line x1="278.70" y1="834.65" x2="280.20" y2="834.65" stroke="#262626" stroke-width="0.9"/>
<line x1="278.70" y1="849.20" x2="281.30" y2="849.20" stroke="#262626" stroke-width="0.9"/>
<text x="270.20" y="852.60" font-size="9.8" text-anchor="end" font-weight="normal" fill="#000" >−1.0</text>
<line x1="278.70" y1="849.10" x2="278.70" y2="847.00" stroke="#262626" stroke-width="0.9"/>
<text x="278.70" y="861.80" font-size="9.8" text-anchor="middle" font-weight="normal" fill="#000" >0</text>
<line x1="290.50" y1="849.10" x2="290.50" y2="848.10" stroke="#262626" stroke-width="0.9"/>
<line x1="302.30" y1="849.10" x2="302.30" y2="847.00" stroke="#262626" stroke-width="0.9"/>
<text x="302.30" y="861.80" font-size="9.8" text-anchor="middle" font-weight="normal" fill="#000" >1</text>
<line x1="314.10" y1="849.10" x2="314.10" y2="848.10" stroke="#262626" stroke-width="0.9"/>
<line x1="325.90" y1="849.10" x2="325.90" y2="847.00" stroke="#262626" stroke-width="0.9"/>
<text x="325.90" y="861.80" font-size="9.8" text-anchor="middle" font-weight="normal" fill="#000" >2</text>
<line x1="337.70" y1="849.10" x2="337.70" y2="848.10" stroke="#262626" stroke-width="0.9"/>
<line x1="349.50" y1="849.10" x2="349.50" y2="847.00" stroke="#262626" stroke-width="0.9"/>
<text x="349.50" y="861.80" font-size="9.8" text-anchor="middle" font-weight="normal" fill="#000" >3</text>
<line x1="361.30" y1="849.10" x2="361.30" y2="848.10" stroke="#262626" stroke-width="0.9"/>
<line x1="373.10" y1="849.10" x2="373.10" y2="847.00" stroke="#262626" stroke-width="0.9"/>
<text x="373.10" y="861.80" font-size="9.8" text-anchor="middle" font-weight="normal" fill="#000" >4</text>
<line x1="384.90" y1="849.10" x2="384.90" y2="848.10" stroke="#262626" stroke-width="0.9"/>
<line x1="396.70" y1="849.10" x2="396.70" y2="847.00" stroke="#262626" stroke-width="0.9"/>
<text x="396.70" y="861.80" font-size="9.8" text-anchor="middle" font-weight="normal" fill="#000" >5</text>
<line x1="408.50" y1="849.10" x2="408.50" y2="848.10" stroke="#262626" stroke-width="0.9"/>
<line x1="420.30" y1="849.10" x2="420.30" y2="847.00" stroke="#262626" stroke-width="0.9"/>
<text x="420.30" y="861.80" font-size="9.8" text-anchor="middle" font-weight="normal" fill="#000" >6</text>
<line x1="432.10" y1="849.10" x2="432.10" y2="848.10" stroke="#262626" stroke-width="0.9"/>
<line x1="443.90" y1="849.10" x2="443.90" y2="847.00" stroke="#262626" stroke-width="0.9"/>
<text x="443.90" y="861.80" font-size="9.8" text-anchor="middle" font-weight="normal" fill="#000" >7</text>
<text x="361.30" y="878.20" font-size="10.5" text-anchor="middle" font-weight="normal" fill="#000" >Time (s)</text>
<text transform="translate(242.70,819.95) rotate(-90)" font-size="10.5" text-anchor="middle">sEMG (V)</text>
<text x="445.40" y="846.00" font-size="7.4" text-anchor="end" font-weight="normal" fill="#1a1a1a" >Channel two</text>
<path d="M509.80 722.3V724.4M510.30 722.0V724.3M510.80 722.1V724.3M511.30 722.0V724.5M511.80 722.0V724.6M512.30 722.2V724.3M512.80 722.1V724.6M513.30 722.1V724.5M513.80 722.3V724.3M514.30 722.0V724.3M514.80 722.3V724.4M515.30 722.0V729.1M515.80 722.0V724.6M516.30 722.3V724.3M516.80 722.3V724.3M517.30 722.0V724.4M517.80 722.0V724.5M518.30 722.3V727.9M518.80 718.3V724.5M519.30 722.3V724.5M519.80 719.0V724.5M520.30 722.2V724.3M520.80 722.2V724.5M521.30 722.3V724.4M521.80 722.1V724.5M522.30 722.1V724.5M522.80 722.0V724.6M523.30 722.0V724.6M523.80 721.9V727.6M524.30 721.4V725.2M524.80 718.1V725.7M525.30 713.6V734.1M525.80 719.1V733.5M526.30 718.1V736.6M526.80 711.2V729.4M527.30 716.4V728.3M527.80 711.4V729.7M528.30 709.4V729.0M528.80 716.1V732.3M529.30 698.6V745.9M529.80 715.6V741.9M530.30 710.3V734.9M530.80 711.2V730.4M531.30 716.8V734.1M531.80 707.3V733.3M532.30 718.8V728.2M532.80 719.0V735.2M533.30 701.8V734.9M533.80 715.0V730.3M534.30 708.6V727.7M534.80 717.9V729.2M535.30 709.1V730.1M535.80 718.7V731.0M536.30 709.8V742.2M536.80 714.1V728.2M537.30 715.9V733.2M537.80 715.5V729.0M538.30 717.3V731.5M538.80 717.5V730.7M539.30 714.1V726.5M539.80 714.9V726.2M540.30 715.0V726.8M540.80 718.5V726.7M541.30 720.6V725.4M541.80 720.3V725.0M542.30 720.8V725.2M542.80 722.0V725.4M543.30 722.0V724.6M543.80 722.0V724.6M544.30 722.1V724.3M544.80 722.3V724.6M545.30 722.3V724.4M545.80 722.3V724.3M546.30 722.1V724.3M546.80 722.1V724.4M547.30 722.0V724.5M547.80 722.0V724.6M548.30 722.1V724.4M548.80 722.3V724.4M549.30 722.2V724.3M549.80 722.3V724.3M550.30 722.0V724.3M550.80 722.1V724.6M551.30 720.8V725.2M551.80 719.3V724.6M552.30 719.4V725.5M552.80 717.9V725.9M553.30 718.2V726.4M553.80 720.7V725.1M554.30 720.3V728.2M554.80 722.0V724.6M555.30 722.0V724.6M555.80 722.2V724.5M556.30 722.0V725.1M556.80 716.7V724.8M557.30 719.2V724.6M557.80 722.3V724.4M558.30 722.1V724.4M558.80 722.3V724.5M559.30 722.2V724.3M559.80 722.1V724.3M560.30 722.3V724.4M560.80 722.2V724.6M561.30 722.2V724.3M561.80 722.3V724.3M562.30 722.2V724.5M562.80 722.2V724.3M563.30 722.3V724.4M563.80 722.2V724.5M564.30 722.1V724.3M564.80 722.2V724.5M565.30 722.2V724.3M565.80 722.1V724.5M566.30 722.2V724.4M566.80 722.1V724.3M567.30 722.0V724.6M567.80 722.1V724.5M568.30 722.0V724.3M568.80 722.3V724.4M569.30 722.2V724.3M569.80 722.1V724.4M570.30 722.0V724.4M570.80 722.2V724.6M571.30 722.2V724.4M571.80 722.0V724.5M572.30 722.3V724.3M572.80 722.2V724.6M573.30 722.1V724.6M573.80 721.9V725.7M574.30 722.0V726.8M574.80 721.0V727.3M575.30 717.8V729.4M575.80 720.8V727.5M576.30 720.0V730.2M576.80 720.5V729.1M577.30 720.6V726.6M577.80 718.6V730.3M578.30 717.3V731.2M578.80 718.3V733.8M579.30 706.4V741.4M579.80 716.1V727.0M580.30 719.6V733.4M580.80 718.1V732.3M581.30 718.6V728.6M581.80 712.0V737.8M582.30 714.0V737.6M582.80 718.5V732.7M583.30 710.1V745.9M583.80 710.4V734.5M584.30 703.3V737.9M584.80 708.5V734.2M585.30 717.2V732.8M585.80 704.9V743.1M586.30 710.3V732.5M586.80 717.3V732.9M587.30 719.2V734.6M587.80 716.5V729.9M588.30 707.3V728.3M588.80 717.0V729.5M589.30 709.2V734.2M589.80 718.7V727.4M590.30 716.1V735.9M590.80 716.5V726.2M591.30 721.3V728.5M591.80 720.5V725.5M592.30 720.8V725.4M592.80 719.7V726.7M593.30 721.4V725.9M593.80 721.0V724.8M594.30 721.3V724.6M594.80 722.0V724.6M595.30 722.1V724.5M595.80 722.3V724.4M596.30 722.0V724.3M596.80 722.3V724.4M597.30 722.0V724.3M597.80 722.1V724.4M598.30 722.2V724.5M598.80 722.3V724.5M599.30 722.2V724.6M599.80 722.2V726.3M600.30 722.3V724.3M600.80 722.1V724.6M601.30 722.3V724.5M601.80 722.2V724.3M602.30 722.1V724.4M602.80 722.1V724.6M603.30 722.3V724.4M603.80 722.3V724.3M604.30 722.2V724.5M604.80 722.1V724.4M605.30 722.2V724.5M605.80 722.1V724.5M606.30 722.2V724.5M606.80 722.0V724.7M607.30 721.9V724.7M607.80 720.4V726.5M608.30 718.2V727.7M608.80 720.0V724.9M609.30 719.7V724.7M609.80 722.0V724.8M610.30 722.0V724.6M610.80 722.2V726.4M611.30 722.2V724.3M611.80 722.2V724.6M612.30 722.3V724.3M612.80 722.3V724.4M613.30 722.0V724.4M613.80 722.1V724.5M614.30 722.1V724.6M614.80 722.0V724.4M615.30 722.3V724.5M615.80 722.1V724.5M616.30 722.3V724.6M616.80 722.0V724.5M617.30 722.3V724.4M617.80 722.1V724.4M618.30 722.3V724.3M618.80 722.3V724.5M619.30 722.2V724.3M619.80 722.1V724.3M620.30 722.0V724.5M620.80 722.3V724.3M621.30 722.2V724.3M621.80 722.3V724.4M622.30 722.1V724.4M622.80 722.2V724.5M623.30 722.1V724.6M623.80 722.0V724.6M624.30 721.9V724.6M624.80 722.0V724.6M625.30 721.9V724.6M625.80 721.8V724.6M626.30 718.8V725.3M626.80 719.4V727.2M627.30 720.3V726.2M627.80 715.7V729.5M628.30 714.0V726.2M628.80 718.8V726.5M629.30 709.5V726.7M629.80 714.1V727.9M630.30 708.6V732.8M630.80 716.6V726.6M631.30 711.4V733.3M631.80 713.6V734.9M632.30 715.0V731.9M632.80 704.5V729.1M633.30 698.5V731.7M633.80 699.0V728.6M634.30 711.0V732.1M634.80 705.2V730.5M635.30 696.1V734.5M635.80 707.5V731.7M636.30 711.3V734.8M636.80 693.0V740.8M637.30 690.4V728.6M637.80 701.4V734.6M638.30 696.0V743.3M638.80 700.1V739.2M639.30 692.7V737.3M639.80 712.5V732.6M640.30 708.2V729.7M640.80 716.0V731.3M641.30 704.4V732.5M641.80 708.7V727.9M642.30 717.4V730.2M642.80 720.1V727.3M643.30 720.8V725.3M643.80 722.0V724.6M644.30 722.1V724.4M644.80 722.1V724.3M645.30 722.3V724.5M645.80 722.2V724.3M646.30 722.0V724.4M646.80 722.1V724.3M647.30 722.1V724.6M647.80 722.3V724.3M648.30 722.2V724.3M648.80 722.1V724.5M649.30 722.3V724.6M649.80 722.0V724.6M650.30 721.6V724.6M650.80 720.9V725.2M651.30 722.0V725.1M651.80 721.6V724.6M652.30 722.3V724.4M652.80 722.0V724.4M653.30 722.2V724.4M653.80 722.2V724.3M654.30 722.3V724.3M654.80 722.1V724.3M655.30 722.3V724.4M655.80 722.2V724.4M656.30 722.3V724.5M656.80 722.2V724.4M657.30 722.1V724.5M657.80 722.2V724.3M658.30 722.2V724.6M658.80 722.3V724.6M659.30 722.2V724.6M659.80 722.1V724.5M660.30 722.3V724.4M660.80 722.0V724.5M661.30 722.0V724.4M661.80 722.3V724.4M662.30 722.0V724.4M662.80 722.2V724.3M663.30 722.2V724.3M663.80 722.3V724.6M664.30 722.2V724.5M664.80 722.1V724.3M665.30 722.0V724.3M665.80 722.1V724.3M666.30 722.1V724.3M666.80 722.0V724.3M667.30 722.3V724.5M667.80 722.0V724.4M668.30 722.3V724.4M668.80 722.3V724.4M669.30 722.2V724.6M669.80 722.0V724.5M670.30 722.2V724.3M670.80 722.0V724.3M671.30 722.0V724.6M671.80 722.2V724.5M672.30 722.3V724.4M672.80 722.0V726.3M673.30 720.1V726.8M673.80 722.0V725.1M674.30 722.3V724.3" fill="none" stroke="#ff0000" stroke-width="1.0"/>
<path d="M509.80,693.70V752.30H674.30" fill="none" stroke="#262626" stroke-width="1"/>
<line x1="509.80" y1="693.80" x2="512.40" y2="693.80" stroke="#262626" stroke-width="0.9"/>
<text x="503.80" y="697.20" font-size="9.8" text-anchor="end" font-weight="normal" fill="#000" >1.0</text>
<line x1="509.80" y1="708.55" x2="511.30" y2="708.55" stroke="#262626" stroke-width="0.9"/>
<line x1="509.80" y1="723.30" x2="512.40" y2="723.30" stroke="#262626" stroke-width="0.9"/>
<text x="503.80" y="726.70" font-size="9.8" text-anchor="end" font-weight="normal" fill="#000" >0.0</text>
<line x1="509.80" y1="737.80" x2="511.30" y2="737.80" stroke="#262626" stroke-width="0.9"/>
<line x1="509.80" y1="752.30" x2="512.40" y2="752.30" stroke="#262626" stroke-width="0.9"/>
<text x="503.80" y="755.70" font-size="9.8" text-anchor="end" font-weight="normal" fill="#000" >−1.0</text>
<line x1="509.80" y1="752.30" x2="509.80" y2="750.20" stroke="#262626" stroke-width="0.9"/>
<text x="509.80" y="764.80" font-size="9.8" text-anchor="middle" font-weight="normal" fill="#000" >0</text>
<line x1="521.55" y1="752.30" x2="521.55" y2="751.30" stroke="#262626" stroke-width="0.9"/>
<line x1="533.30" y1="752.30" x2="533.30" y2="750.20" stroke="#262626" stroke-width="0.9"/>
<text x="533.30" y="764.80" font-size="9.8" text-anchor="middle" font-weight="normal" fill="#000" >1</text>
<line x1="545.05" y1="752.30" x2="545.05" y2="751.30" stroke="#262626" stroke-width="0.9"/>
<line x1="556.80" y1="752.30" x2="556.80" y2="750.20" stroke="#262626" stroke-width="0.9"/>
<text x="556.80" y="764.80" font-size="9.8" text-anchor="middle" font-weight="normal" fill="#000" >2</text>
<line x1="568.55" y1="752.30" x2="568.55" y2="751.30" stroke="#262626" stroke-width="0.9"/>
<line x1="580.30" y1="752.30" x2="580.30" y2="750.20" stroke="#262626" stroke-width="0.9"/>
<text x="580.30" y="764.80" font-size="9.8" text-anchor="middle" font-weight="normal" fill="#000" >3</text>
<line x1="592.05" y1="752.30" x2="592.05" y2="751.30" stroke="#262626" stroke-width="0.9"/>
<line x1="603.80" y1="752.30" x2="603.80" y2="750.20" stroke="#262626" stroke-width="0.9"/>
<text x="603.80" y="764.80" font-size="9.8" text-anchor="middle" font-weight="normal" fill="#000" >4</text>
<line x1="615.55" y1="752.30" x2="615.55" y2="751.30" stroke="#262626" stroke-width="0.9"/>
<line x1="627.30" y1="752.30" x2="627.30" y2="750.20" stroke="#262626" stroke-width="0.9"/>
<text x="627.30" y="764.80" font-size="9.8" text-anchor="middle" font-weight="normal" fill="#000" >5</text>
<line x1="639.05" y1="752.30" x2="639.05" y2="751.30" stroke="#262626" stroke-width="0.9"/>
<line x1="650.80" y1="752.30" x2="650.80" y2="750.20" stroke="#262626" stroke-width="0.9"/>
<text x="650.80" y="764.80" font-size="9.8" text-anchor="middle" font-weight="normal" fill="#000" >6</text>
<line x1="662.55" y1="752.30" x2="662.55" y2="751.30" stroke="#262626" stroke-width="0.9"/>
<line x1="674.30" y1="752.30" x2="674.30" y2="750.20" stroke="#262626" stroke-width="0.9"/>
<text x="674.30" y="764.80" font-size="9.8" text-anchor="middle" font-weight="normal" fill="#000" >7</text>
<text x="592.05" y="779.00" font-size="10.5" text-anchor="middle" font-weight="normal" fill="#000" >Time (s)</text>
<text transform="translate(475.30,723.00) rotate(-90)" font-size="10.5" text-anchor="middle">sEMG (V)</text>
<text x="676.30" y="749.40" font-size="7.4" text-anchor="end" font-weight="normal" fill="#1a1a1a" >Channel one</text>
<path d="M509.80 818.1V823.2M510.30 811.8V826.1M510.80 812.6V827.9M511.30 817.8V821.5M511.80 819.1V821.5M512.30 819.0V821.2M512.80 819.1V821.2M513.30 819.1V821.2M513.80 819.2V821.3M514.30 819.1V821.2M514.80 819.0V821.4M515.30 819.1V821.5M515.80 819.1V821.5M516.30 819.2V821.4M516.80 819.0V821.3M517.30 819.1V821.3M517.80 819.2V821.2M518.30 819.1V821.3M518.80 819.1V821.2M519.30 819.1V821.4M519.80 819.2V821.4M520.30 819.0V821.4M520.80 819.2V821.5M521.30 819.2V821.2M521.80 818.9V821.4M522.30 818.9V821.5M522.80 818.9V821.5M523.30 818.3V821.5M523.80 818.9V822.8M524.30 817.9V823.2M524.80 818.9V821.5M525.30 819.0V821.3M525.80 819.0V821.3M526.30 819.0V821.2M526.80 819.0V821.3M527.30 819.2V821.4M527.80 819.1V821.3M528.30 819.0V821.4M528.80 819.0V821.4M529.30 819.2V821.4M529.80 819.0V821.3M530.30 814.6V821.4M530.80 819.0V821.3M531.30 819.2V821.4M531.80 819.0V821.3M532.30 818.9V821.4M532.80 818.7V821.5M533.30 818.7V821.5M533.80 818.0V821.5M534.30 818.9V821.5M534.80 817.5V821.8M535.30 818.2V823.1M535.80 818.9V821.7M536.30 818.9V822.3M536.80 817.3V823.0M537.30 818.9V822.0M537.80 818.2V821.9M538.30 818.9V821.5M538.80 818.9V821.5M539.30 819.1V821.5M539.80 818.9V821.3M540.30 819.1V821.5M540.80 819.2V821.4M541.30 819.2V821.4M541.80 818.9V821.2M542.30 819.2V821.5M542.80 818.9V821.4M543.30 819.0V821.5M543.80 819.2V821.5M544.30 819.0V821.5M544.80 819.0V821.3M545.30 818.9V821.2M545.80 819.1V821.2M546.30 819.1V821.3M546.80 819.3V821.2M547.30 818.9V821.4M547.80 819.0V821.2M548.30 819.1V821.2M548.80 818.9V822.8M549.30 816.4V823.7M549.80 816.6V826.6M550.30 814.6V829.4M550.80 810.4V825.3M551.30 811.8V833.7M551.80 813.5V835.7M552.30 807.9V826.9M552.80 809.9V827.9M553.30 811.4V831.0M553.80 813.4V826.8M554.30 814.5V831.0M554.80 809.7V837.7M555.30 815.2V836.2M555.80 815.7V837.5M556.30 814.6V837.8M556.80 803.4V830.2M557.30 808.6V826.3M557.80 815.0V833.5M558.30 802.6V840.4M558.80 809.2V826.0M559.30 807.7V827.7M559.80 815.1V825.8M560.30 812.8V829.5M560.80 816.4V824.2M561.30 809.4V828.6M561.80 811.2V830.9M562.30 813.8V827.3M562.80 810.7V823.5M563.30 818.1V823.1M563.80 813.8V825.8M564.30 817.9V826.7M564.80 818.8V825.1M565.30 818.9V821.5M565.80 818.9V821.9M566.30 819.2V821.2M566.80 819.2V821.2M567.30 819.0V821.4M567.80 819.1V821.2M568.30 815.7V821.5M568.80 818.9V821.4M569.30 818.9V821.4M569.80 819.2V821.2M570.30 819.0V821.3M570.80 819.1V821.3M571.30 818.9V821.5M571.80 818.9V821.5M572.30 819.2V821.2M572.80 819.0V821.2M573.30 819.2V821.5M573.80 819.1V821.4M574.30 819.1V821.5M574.80 819.1V821.4M575.30 818.9V821.4M575.80 819.0V821.3M576.30 819.1V821.3M576.80 819.1V821.4M577.30 818.9V821.4M577.80 818.9V821.2M578.30 818.9V823.8M578.80 818.9V821.4M579.30 819.2V821.3M579.80 819.2V821.2M580.30 818.9V821.2M580.80 818.9V821.2M581.30 819.2V821.4M581.80 818.9V823.5M582.30 819.0V821.5M582.80 818.9V821.4M583.30 819.0V821.5M583.80 818.9V821.4M584.30 819.1V821.4M584.80 819.0V821.4M585.30 818.9V821.5M585.80 818.6V821.5M586.30 818.9V821.5M586.80 818.9V821.5M587.30 818.9V821.5M587.80 818.9V821.5M588.30 818.9V821.5M588.80 818.0V822.0M589.30 818.9V823.6M589.80 818.6V821.6M590.30 818.9V821.5M590.80 818.9V821.5M591.30 818.9V821.5M591.80 818.9V821.5M592.30 818.9V821.4M592.80 819.1V821.5M593.30 819.2V821.4M593.80 819.1V821.2M594.30 819.0V821.3M594.80 818.9V821.5M595.30 819.2V821.2M595.80 819.2V821.4M596.30 819.1V821.5M596.80 819.2V821.5M597.30 818.9V821.4M597.80 818.1V821.5M598.30 816.5V823.5M598.80 816.4V823.1M599.30 812.9V827.2M599.80 815.2V824.6M600.30 811.0V825.9M600.80 806.7V825.1M601.30 803.8V824.7M601.80 813.4V826.5M602.30 814.1V827.4M602.80 808.8V832.0M603.30 808.6V828.3M603.80 815.0V824.7M604.30 813.2V831.9M604.80 813.7V823.9M605.30 806.0V824.1M605.80 807.2V834.9M606.30 798.8V825.5M606.80 801.8V832.3M607.30 808.3V832.5M607.80 806.2V832.7M608.30 810.2V828.3M608.80 815.7V824.1M609.30 815.0V825.9M609.80 813.8V822.6M610.30 817.5V822.3M610.80 818.8V821.5M611.30 818.9V821.2M611.80 819.2V821.3M612.30 819.1V821.4M612.80 819.1V821.3M613.30 818.9V821.3M613.80 817.8V821.3M614.30 819.0V821.3M614.80 819.0V821.5M615.30 818.9V821.2M615.80 819.0V821.3M616.30 819.0V821.2M616.80 819.1V821.4M617.30 819.2V821.2M617.80 818.9V821.2M618.30 819.2V821.4M618.80 819.2V821.5M619.30 819.0V821.5M619.80 817.8V821.3M620.30 819.1V821.2M620.80 819.0V821.5M621.30 819.2V825.8M621.80 818.9V821.5M622.30 819.2V821.4M622.80 819.2V821.4M623.30 819.0V821.5M623.80 819.0V821.5M624.30 819.0V821.3M624.80 819.0V821.2M625.30 819.1V821.5M625.80 818.9V821.4M626.30 819.2V821.5M626.80 819.0V821.4M627.30 819.2V821.2M627.80 819.0V821.2M628.30 818.9V821.2M628.80 818.9V821.5M629.30 818.9V821.5M629.80 818.3V821.8M630.30 818.9V821.5M630.80 818.9V822.7M631.30 818.9V821.5M631.80 818.9V823.4M632.30 817.8V821.8M632.80 818.9V821.6M633.30 818.4V821.5M633.80 818.9V821.5M634.30 818.9V821.5M634.80 818.9V821.6M635.30 819.2V821.5M635.80 818.9V821.5M636.30 819.2V821.4M636.80 818.9V821.2M637.30 819.0V821.2M637.80 819.1V821.4M638.30 818.9V821.2M638.80 819.2V821.2M639.30 819.1V821.4M639.80 819.0V821.4M640.30 819.1V821.4M640.80 819.0V821.5M641.30 819.2V821.4M641.80 819.0V821.5M642.30 819.2V821.3M642.80 819.2V821.2M643.30 819.1V821.3M643.80 819.1V821.2M644.30 819.1V821.4M644.80 819.1V821.5M645.30 819.2V821.2M645.80 818.9V821.4M646.30 818.1V821.5M646.80 816.8V821.9M647.30 815.7V822.1M647.80 816.9V822.6M648.30 816.4V825.9M648.80 815.4V830.5M649.30 812.9V822.7M649.80 815.6V830.9M650.30 816.3V828.8M650.80 814.1V823.5M651.30 816.3V823.0M651.80 815.9V829.6M652.30 815.7V823.4M652.80 813.9V826.0M653.30 811.0V834.9M653.80 813.8V826.4M654.30 804.1V828.2M654.80 811.9V826.4M655.30 815.0V831.8M655.80 815.1V833.5M656.30 809.7V828.7M656.80 807.8V827.2M657.30 813.0V825.1M657.80 810.2V823.3M658.30 807.4V825.3M658.80 814.8V823.8M659.30 813.5V825.8M659.80 818.5V821.9M660.30 814.4V826.4M660.80 818.4V823.4M661.30 818.9V821.5M661.80 818.9V821.5M662.30 818.9V823.9M662.80 819.0V821.2M663.30 819.1V821.3M663.80 819.2V821.4M664.30 819.2V821.4M664.80 819.1V821.5M665.30 819.1V821.3M665.80 816.3V821.5M666.30 819.2V821.5M666.80 819.1V821.5M667.30 819.2V821.4M667.80 818.9V821.4M668.30 819.2V821.3M668.80 819.1V821.5M669.30 819.0V821.5M669.80 819.0V821.5M670.30 819.2V821.4M670.80 818.9V825.2M671.30 818.9V821.2M671.80 819.0V821.3M672.30 819.0V821.2M672.80 818.9V821.2M673.30 819.2V821.5M673.80 819.0V821.2M674.30 819.2V821.2" fill="none" stroke="#ff0000" stroke-width="1.0"/>
<path d="M509.80,790.80V849.10H674.30" fill="none" stroke="#262626" stroke-width="1"/>
<line x1="509.80" y1="790.70" x2="512.40" y2="790.70" stroke="#262626" stroke-width="0.9"/>
<text x="503.80" y="794.10" font-size="9.8" text-anchor="end" font-weight="normal" fill="#000" >1.0</text>
<line x1="509.80" y1="805.40" x2="511.30" y2="805.40" stroke="#262626" stroke-width="0.9"/>
<line x1="509.80" y1="820.10" x2="512.40" y2="820.10" stroke="#262626" stroke-width="0.9"/>
<text x="503.80" y="823.50" font-size="9.8" text-anchor="end" font-weight="normal" fill="#000" >0.0</text>
<line x1="509.80" y1="834.65" x2="511.30" y2="834.65" stroke="#262626" stroke-width="0.9"/>
<line x1="509.80" y1="849.20" x2="512.40" y2="849.20" stroke="#262626" stroke-width="0.9"/>
<text x="503.80" y="852.60" font-size="9.8" text-anchor="end" font-weight="normal" fill="#000" >−1.0</text>
<line x1="509.80" y1="849.10" x2="509.80" y2="847.00" stroke="#262626" stroke-width="0.9"/>
<text x="509.80" y="861.80" font-size="9.8" text-anchor="middle" font-weight="normal" fill="#000" >0</text>
<line x1="521.55" y1="849.10" x2="521.55" y2="848.10" stroke="#262626" stroke-width="0.9"/>
<line x1="533.30" y1="849.10" x2="533.30" y2="847.00" stroke="#262626" stroke-width="0.9"/>
<text x="533.30" y="861.80" font-size="9.8" text-anchor="middle" font-weight="normal" fill="#000" >1</text>
<line x1="545.05" y1="849.10" x2="545.05" y2="848.10" stroke="#262626" stroke-width="0.9"/>
<line x1="556.80" y1="849.10" x2="556.80" y2="847.00" stroke="#262626" stroke-width="0.9"/>
<text x="556.80" y="861.80" font-size="9.8" text-anchor="middle" font-weight="normal" fill="#000" >2</text>
<line x1="568.55" y1="849.10" x2="568.55" y2="848.10" stroke="#262626" stroke-width="0.9"/>
<line x1="580.30" y1="849.10" x2="580.30" y2="847.00" stroke="#262626" stroke-width="0.9"/>
<text x="580.30" y="861.80" font-size="9.8" text-anchor="middle" font-weight="normal" fill="#000" >3</text>
<line x1="592.05" y1="849.10" x2="592.05" y2="848.10" stroke="#262626" stroke-width="0.9"/>
<line x1="603.80" y1="849.10" x2="603.80" y2="847.00" stroke="#262626" stroke-width="0.9"/>
<text x="603.80" y="861.80" font-size="9.8" text-anchor="middle" font-weight="normal" fill="#000" >4</text>
<line x1="615.55" y1="849.10" x2="615.55" y2="848.10" stroke="#262626" stroke-width="0.9"/>
<line x1="627.30" y1="849.10" x2="627.30" y2="847.00" stroke="#262626" stroke-width="0.9"/>
<text x="627.30" y="861.80" font-size="9.8" text-anchor="middle" font-weight="normal" fill="#000" >5</text>
<line x1="639.05" y1="849.10" x2="639.05" y2="848.10" stroke="#262626" stroke-width="0.9"/>
<line x1="650.80" y1="849.10" x2="650.80" y2="847.00" stroke="#262626" stroke-width="0.9"/>
<text x="650.80" y="861.80" font-size="9.8" text-anchor="middle" font-weight="normal" fill="#000" >6</text>
<line x1="662.55" y1="849.10" x2="662.55" y2="848.10" stroke="#262626" stroke-width="0.9"/>
<line x1="674.30" y1="849.10" x2="674.30" y2="847.00" stroke="#262626" stroke-width="0.9"/>
<text x="674.30" y="861.80" font-size="9.8" text-anchor="middle" font-weight="normal" fill="#000" >7</text>
<text x="592.05" y="878.20" font-size="10.5" text-anchor="middle" font-weight="normal" fill="#000" >Time (s)</text>
<text transform="translate(475.30,819.95) rotate(-90)" font-size="10.5" text-anchor="middle">sEMG (V)</text>
<text x="675.30" y="845.50" font-size="7.4" text-anchor="end" font-weight="normal" fill="#1a1a1a" >Channel two</text>
<text x="-0.20" y="278.10" font-size="15" text-anchor="start" font-weight="bold" fill="#000" >c</text>
<text x="232.40" y="277.80" font-size="15" text-anchor="start" font-weight="bold" fill="#000" >d</text>
<text x="465.50" y="277.80" font-size="15" text-anchor="start" font-weight="bold" fill="#000" >e</text>
<text x="-0.60" y="479.60" font-size="15" text-anchor="start" font-weight="bold" fill="#000" >g</text>
<text x="232.40" y="479.30" font-size="15" text-anchor="start" font-weight="bold" fill="#000" >f</text>
<text x="465.60" y="479.20" font-size="15" text-anchor="start" font-weight="bold" fill="#000" >h</text>
<text x="-0.20" y="694.30" font-size="15" text-anchor="start" font-weight="bold" fill="#000" >i</text>
<text x="231.50" y="694.90" font-size="15" text-anchor="start" font-weight="bold" fill="#000" >j</text>
<text x="465.60" y="694.90" font-size="15" text-anchor="start" font-weight="bold" fill="#000" >k</text>
<defs>
<radialGradient id="bub" cx="0.5" cy="0.5" r="0.5">
<stop offset="0" stop-color="#ffffff"/><stop offset="0.5" stop-color="#fbfbfb"/><stop offset="0.76" stop-color="#e6e6ea"/><stop offset="0.91" stop-color="#c9c9cf"/><stop offset="0.97" stop-color="#c0c0c8"/><stop offset="1" stop-color="#d2d0da"/>
</radialGradient>
<linearGradient id="cone" x1="0" y1="0" x2="1" y2="0">
<stop offset="0" stop-color="#e2e2e6" stop-opacity="0.5"/><stop offset="1" stop-color="#b9b9c1" stop-opacity="1"/>
</linearGradient>
</defs>
<rect x="245.8" y="481.7" width="200.4" height="140.6" fill="none" stroke="#111" stroke-width="1.2" stroke-dasharray="3.2,1.8"/>
<path d="M284,580 L332,513 L365,520 L365,606 L282,601 Z" fill="url(#cone)"/>
<ellipse cx="379.6" cy="550" rx="61.5" ry="59.3" fill="url(#bub)"/>
<line x1="273.77" y1="550.04" x2="276.77" y2="524.52" stroke="#4a3a30" stroke-width="7.60" stroke-linecap="round"/>
<line x1="273.77" y1="550.04" x2="276.77" y2="524.52" stroke="#fbcfae" stroke-width="6.60" stroke-linecap="round"/>
<line x1="287.28" y1="535.03" x2="291.33" y2="506.81" stroke="#4a3a30" stroke-width="7.00" stroke-linecap="round"/>
<line x1="287.28" y1="535.03" x2="291.33" y2="506.81" stroke="#fbcfae" stroke-width="6.00" stroke-linecap="round"/>
<line x1="294.78" y1="533.53" x2="298.53" y2="503.51" stroke="#4a3a30" stroke-width="7.30" stroke-linecap="round"/>
<line x1="294.78" y1="533.53" x2="298.53" y2="503.51" stroke="#fbcfae" stroke-width="6.30" stroke-linecap="round"/>
<line x1="301.23" y1="535.03" x2="304.99" y2="507.71" stroke="#4a3a30" stroke-width="6.70" stroke-linecap="round"/>
<line x1="301.23" y1="535.03" x2="304.99" y2="507.71" stroke="#fbcfae" stroke-width="5.70" stroke-linecap="round"/>
<line x1="306.49" y1="539.53" x2="309.34" y2="517.77" stroke="#4a3a30" stroke-width="5.80" stroke-linecap="round"/>
<line x1="306.49" y1="539.53" x2="309.34" y2="517.77" stroke="#fbcfae" stroke-width="4.80" stroke-linecap="round"/>
<polygon points="247.50,605.57 258.01,592.06 267.01,580.06 273.02,574.05 276.02,568.05 295.53,569.55 293.73,574.80 291.03,586.06 287.28,598.07 284.72,608.57 283.52,619.08 247.50,619.08" fill="#fbcfae" stroke="#4a3a30" stroke-width="0.55" stroke-linejoin="round"/>
<polygon points="276.02,568.80 273.32,560.54 271.82,550.04 276.02,539.53 284.27,535.03 309.04,536.53 310.24,545.53 306.79,554.54 301.83,562.35 295.83,569.55" fill="#fbcfae" stroke="#4a3a30" stroke-width="0.55" stroke-linejoin="round"/>
<polygon points="276.32,568.35 295.53,569.25 294.78,571.05 276.77,570.30" fill="#fbcfae"/>
<polygon points="293.73,574.80 291.03,586.06 287.28,598.07 284.72,608.57 283.52,619.08 280.82,619.08 282.77,604.07 286.53,589.06 290.28,575.55" fill="#f2b08e"/>
<polyline points="282.02,539.53 295.53,544.03 306.04,545.53" fill="none" stroke="#6a5040" stroke-width="0.35"/>
<polyline points="285.02,550.04 294.03,553.04" fill="none" stroke="#6a5040" stroke-width="0.35"/>
<polyline points="278.27,568.05 291.03,568.05" fill="none" stroke="#6a5040" stroke-width="0.35"/>
<polyline points="285.02,565.05 284.27,574.05" fill="none" stroke="#6a5040" stroke-width="0.35"/>
<polyline points="284.27,560.54 291.03,556.04" fill="none" stroke="#6a5040" stroke-width="0.35"/>
<g transform="translate(273.2,595.5) rotate(21)">
<rect x="-8.2" y="-21.5" width="16.4" height="43" rx="3.5" fill="#efe2bd" stroke="#8a7550" stroke-width="0.5" opacity="0.95"/>
</g>
<circle cx="278.3" cy="583.8" r="4.2" fill="#9a6420"/>
<circle cx="278.3" cy="583.8" r="3.1" fill="#b4dcf5"/>
<circle cx="273.0" cy="594.3" r="4.2" fill="#9a6420"/>
<circle cx="273.0" cy="594.3" r="3.1" fill="#b4dcf5"/>
<circle cx="267.8" cy="605.6" r="4.2" fill="#9a6420"/>
<circle cx="267.8" cy="605.6" r="3.1" fill="#b4dcf5"/>
<path d="M263.5,611 L267,612.5 L265.5,617.5 L261,616 Z" fill="#b06f22"/>
<polygon points="327.19,548.51 335.95,540.63 351.28,546.03 354.20,543.84 367.34,545.30 368.80,548.95 360.04,551.87 363.69,559.90 373.91,558.44 377.55,553.33 390.69,553.33 391.42,558.44 376.09,565.74 387.04,575.22 397.99,573.76 402.37,562.82 418.43,562.82 420.62,570.11 406.75,575.95 401.64,581.06 390.69,583.55" fill="#e0891c"/>
<polygon points="327.19,547.41 335.95,539.53 351.28,544.93 354.20,542.74 367.34,544.20 368.80,547.85 360.04,550.77 363.69,558.80 373.91,557.34 377.55,552.23 390.69,552.23 391.42,557.34 376.09,564.64 387.04,574.12 397.99,572.66 402.37,561.72 418.43,561.72 420.62,569.01 406.75,574.85 401.64,579.96 390.69,582.45" fill="#85700f"/>
<polyline points="330.84,546.39 351.28,550.04 356.39,549.31" fill="none" stroke="#c98a22" stroke-width="0.5"/>
<polyline points="333.76,547.85 362.96,562.45 373.18,561.72 380.47,558.80" fill="none" stroke="#c98a22" stroke-width="0.5"/>
<polyline points="338.14,550.04 389.23,577.77 399.45,576.31 406.75,570.47" fill="none" stroke="#c98a22" stroke-width="0.5"/>
<polygon points="333.03,544.20 338.87,539.09 346.90,542.74 341.06,547.85" fill="#5a3e08"/>
<polygon points="327.19,547.41 333.03,544.20 341.06,547.85 335.95,550.77" fill="#9a7a18"/>
<ellipse cx="360.77" cy="542.28" rx="9.64" ry="5.84" fill="#e0891c"/>
<ellipse cx="360.77" cy="541.28" rx="9.64" ry="5.84" fill="#7e690e" stroke="#4a3c06" stroke-width="0.35"/>
<ellipse cx="360.77" cy="541.28" rx="7.71" ry="4.55" fill="#9c7616" stroke="#4a3c06" stroke-width="0.35"/>
<ellipse cx="384.12" cy="553.66" rx="9.93" ry="6.57" fill="#e0891c"/>
<ellipse cx="384.12" cy="552.66" rx="9.93" ry="6.57" fill="#7e690e" stroke="#4a3c06" stroke-width="0.35"/>
<ellipse cx="384.12" cy="552.66" rx="7.94" ry="5.12" fill="#9c7616" stroke="#4a3c06" stroke-width="0.35"/>
<ellipse cx="410.69" cy="566.36" rx="11.09" ry="7.59" fill="#e0891c"/>
<ellipse cx="410.69" cy="565.36" rx="11.09" ry="7.59" fill="#7e690e" stroke="#4a3c06" stroke-width="0.35"/>
<ellipse cx="410.69" cy="565.36" rx="8.88" ry="5.92" fill="#9c7616" stroke="#4a3c06" stroke-width="0.35"/>
<ellipse cx="365.1" cy="527.3" rx="9.4" ry="5.0" fill="#6f9fcf"/>
<ellipse cx="365.1" cy="526.0" rx="9.4" ry="5.0" fill="#bcdcf7"/>
<ellipse cx="390.7" cy="538.1999999999999" rx="9.4" ry="5.0" fill="#6f9fcf"/>
<ellipse cx="390.7" cy="536.9" rx="9.4" ry="5.0" fill="#bcdcf7"/>
<ellipse cx="415.5" cy="549.9" rx="9.4" ry="5.0" fill="#6f9fcf"/>
<ellipse cx="415.5" cy="548.6" rx="9.4" ry="5.0" fill="#bcdcf7"/>
<line x1="369.5" y1="523.5" x2="412.6" y2="523.5" stroke="#7030b0" stroke-width="0.9"/>
<circle cx="369.7" cy="523.5" r="0.9" fill="#7030b0"/>
<text x="373.70" y="519.40" font-size="9" text-anchor="start" font-weight="normal" fill="#1a1a1a" >Hydrogel</text>
<line x1="336.7" y1="571.2" x2="375.4" y2="571.2" stroke="#7030b0" stroke-width="0.9"/>
<circle cx="375.0" cy="571.2" r="0.9" fill="#7030b0"/>
<text x="336.50" y="569.70" font-size="8.7" text-anchor="start" font-weight="normal" fill="#1a1a1a" >FPC</text>
<line x1="187.88" y1="486.60" x2="186.31" y2="478.98" stroke="#c7957a" stroke-width="3.39" stroke-linecap="round"/>
<line x1="187.88" y1="486.60" x2="186.31" y2="478.98" stroke="#f2c4a2" stroke-width="2.89" stroke-linecap="round"/>
<circle cx="186.50" cy="479.89" r="1.21" fill="#f0ad92"/>
<line x1="191.82" y1="486.07" x2="191.04" y2="473.20" stroke="#c7957a" stroke-width="3.55" stroke-linecap="round"/>
<line x1="191.82" y1="486.07" x2="191.04" y2="473.20" stroke="#f2c4a2" stroke-width="3.05" stroke-linecap="round"/>
<circle cx="191.13" cy="474.74" r="1.28" fill="#f0ad92"/>
<line x1="196.82" y1="485.54" x2="197.24" y2="470.57" stroke="#c7957a" stroke-width="3.55" stroke-linecap="round"/>
<line x1="196.82" y1="485.54" x2="197.24" y2="470.57" stroke="#f2c4a2" stroke-width="3.05" stroke-linecap="round"/>
<circle cx="197.19" cy="472.37" r="1.28" fill="#f0ad92"/>
<polygon points="187.88,486.60 199.97,484.49 204.70,491.33 209.43,492.38 205.22,498.16 199.97,504.73 189.72,504.73 188.41,497.63" fill="#f2c4a2" stroke="#c7957a" stroke-width="0.4"/>
<polygon points="199.44,485.02 202.33,480.55 204.70,481.34 206.54,486.07 204.70,487.65 203.12,484.49" fill="#eebc9a" stroke="#c7957a" stroke-width="0.4"/>
<polygon points="203.12,493.43 206.27,486.60 208.64,486.07 209.69,492.38 206.27,495.53" fill="#f2c4a2" stroke="#c7957a" stroke-width="0.4"/>
<ellipse cx="203.65" cy="489.49" rx="1.47" ry="2.89" fill="#fff"/>
<polygon points="189.72,502.36 199.97,502.36 199.97,504.73 189.72,504.73" fill="#d8a588"/>
<polygon points="653.99,479.14 656.88,476.77 659.51,474.93 662.14,473.36 665.82,471.25 669.49,471.25 671.07,481.76 672.91,482.82 681.58,473.88 684.47,473.88 682.63,478.61 678.43,482.82 671.60,492.27 670.02,496.48 656.88,496.48 653.99,484.92" fill="#f2c4a2" stroke="#c7957a" stroke-width="0.4"/>
<polygon points="654.25,482.82 659.51,479.14 664.76,476.51 670.54,478.09 671.60,481.76 664.76,485.97 662.14,488.60 656.88,485.97" fill="#d1a08a"/>
<line x1="656.36" y1="483.87" x2="655.83" y2="478.61" stroke="#c7957a" stroke-width="4.18" stroke-linecap="round"/>
<line x1="656.36" y1="483.87" x2="655.83" y2="478.61" stroke="#f3cdb0" stroke-width="3.68" stroke-linecap="round"/>
<circle cx="655.89" cy="479.24" r="1.54" fill="#f6d2b8"/>
<line x1="660.04" y1="481.76" x2="659.51" y2="475.98" stroke="#c7957a" stroke-width="4.18" stroke-linecap="round"/>
<line x1="660.04" y1="481.76" x2="659.51" y2="475.98" stroke="#f3cdb0" stroke-width="3.68" stroke-linecap="round"/>
<circle cx="659.57" cy="476.68" r="1.54" fill="#f6d2b8"/>
<line x1="663.71" y1="479.66" x2="663.19" y2="474.41" stroke="#c7957a" stroke-width="4.18" stroke-linecap="round"/>
<line x1="663.71" y1="479.66" x2="663.19" y2="474.41" stroke="#f3cdb0" stroke-width="3.68" stroke-linecap="round"/>
<circle cx="663.25" cy="475.04" r="1.54" fill="#f6d2b8"/>
<line x1="667.65" y1="478.61" x2="667.65" y2="472.04" stroke="#c7957a" stroke-width="4.18" stroke-linecap="round"/>
<line x1="667.65" y1="478.61" x2="667.65" y2="472.04" stroke="#f3cdb0" stroke-width="3.68" stroke-linecap="round"/>
<circle cx="667.65" cy="472.83" r="1.54" fill="#f6d2b8"/>
<polygon points="662.14,489.12 671.07,481.76 678.43,481.76 681.58,474.41 684.21,474.15 680.53,480.71 671.60,492.27 664.76,493.33" fill="#f5c8aa"/>
<line x1="189.41" y1="701.85" x2="183.71" y2="690.93" stroke="#c7957a" stroke-width="3.58" stroke-linecap="round"/>
<line x1="189.41" y1="701.85" x2="183.71" y2="690.93" stroke="#f2c4a2" stroke-width="3.08" stroke-linecap="round"/>
<circle cx="184.39" cy="692.24" r="1.29" fill="#f0ad92"/>
<line x1="192.89" y1="700.86" x2="192.79" y2="686.96" stroke="#c7957a" stroke-width="3.58" stroke-linecap="round"/>
<line x1="192.89" y1="700.86" x2="192.79" y2="686.96" stroke="#f2c4a2" stroke-width="3.08" stroke-linecap="round"/>
<circle cx="192.80" cy="688.63" r="1.29" fill="#f0ad92"/>
<line x1="198.10" y1="701.11" x2="199.59" y2="687.96" stroke="#c7957a" stroke-width="3.58" stroke-linecap="round"/>
<line x1="198.10" y1="701.11" x2="199.59" y2="687.96" stroke="#f2c4a2" stroke-width="3.08" stroke-linecap="round"/>
<circle cx="199.41" cy="689.53" r="1.29" fill="#f0ad92"/>
<line x1="201.33" y1="702.84" x2="206.54" y2="695.40" stroke="#c7957a" stroke-width="3.38" stroke-linecap="round"/>
<line x1="201.33" y1="702.84" x2="206.54" y2="695.40" stroke="#f2c4a2" stroke-width="2.88" stroke-linecap="round"/>
<circle cx="205.91" cy="696.29" r="1.21" fill="#f0ad92"/>
<polygon points="187.43,700.86 202.32,700.86 201.82,709.79 198.84,716.24 188.92,716.24 185.94,706.81" fill="#f2c4a2" stroke="#c7957a" stroke-width="0.4"/>
<path d="M189.91,708.80 Q193.88,705.33 196.36,705.82 M193.88,706.81 L192.89,712.77" stroke="#9a6a55" stroke-width="0.9" fill="none"/>
<polygon points="188.67,714.26 198.84,714.26 198.35,716.24 189.17,716.24" fill="#c89078"/>
<line x1="439.60" y1="702.00" x2="439.60" y2="687.00" stroke="#c7957a" stroke-width="3.40" stroke-linecap="round"/>
<line x1="439.60" y1="702.00" x2="439.60" y2="687.00" stroke="#f2c4a2" stroke-width="2.90" stroke-linecap="round"/>
<circle cx="439.60" cy="688.80" r="1.22" fill="#f0ad92"/>
<polygon points="427.25,703.50 435.00,697.50 438.25,698.00 441.50,702.00 446.00,703.50 446.50,708.00 444.00,714.50 439.00,720.00 428.75,720.00 427.25,712.50" fill="#f2c4a2" stroke="#c7957a" stroke-width="0.4"/>
<polygon points="428.50,705.00 435.00,703.00 442.00,703.00 445.00,706.00 442.00,710.00 436.50,713.00 430.00,711.00" fill="#b88572"/>
<line x1="428.25" y1="704.00" x2="435.00" y2="699.00" stroke="#efc2a2" stroke-width="2.4" stroke-linecap="round"/>
<line x1="431.50" y1="703.50" x2="438.00" y2="698.50" stroke="#efc2a2" stroke-width="2.4" stroke-linecap="round"/>
<line x1="435.00" y1="703.50" x2="441.00" y2="702.50" stroke="#efc2a2" stroke-width="2.4" stroke-linecap="round"/>
<line x1="439.00" y1="704.00" x2="445.00" y2="704.00" stroke="#efc2a2" stroke-width="2.4" stroke-linecap="round"/>
<polygon points="427.50,711.00 436.50,713.00 443.50,709.00 446.00,708.00 443.50,714.50 439.00,718.50 428.75,718.50" fill="#f0c2a2"/>
<polygon points="428.75,717.00 440.00,717.00 439.00,720.00 428.75,720.00" fill="#c89078"/>
<polygon points="650.14,694.75 654.35,691.94 658.55,690.54 663.22,689.14 666.50,689.61 667.90,693.35 670.70,694.28 671.17,699.42 672.57,702.69 669.30,708.30 665.56,712.97 665.56,716.71 652.94,716.71 652.01,712.04 650.14,703.63" fill="#f2c4a2" stroke="#c7957a" stroke-width="0.4"/>
<polygon points="650.37,698.02 659.02,698.95 664.63,697.08 670.93,698.02 671.17,703.63 663.69,704.56 659.49,707.36 654.35,705.03 650.61,703.63" fill="#b07a65"/>
<line x1="652.01" y1="696.15" x2="652.71" y2="699.89" stroke="#f1c6a6" stroke-width="3.74" stroke-linecap="round"/>
<line x1="655.98" y1="694.28" x2="656.68" y2="699.42" stroke="#f1c6a6" stroke-width="4.21" stroke-linecap="round"/>
<line x1="660.42" y1="692.88" x2="661.12" y2="698.49" stroke="#f1c6a6" stroke-width="4.44" stroke-linecap="round"/>
<line x1="664.63" y1="691.48" x2="665.09" y2="695.68" stroke="#f1c6a6" stroke-width="3.74" stroke-linecap="round"/>
<polygon points="663.69,695.68 670.23,694.75 670.93,698.95 665.09,699.42" fill="#f0c4a4"/>
<polygon points="651.07,704.09 659.02,707.36 660.42,712.04 652.48,712.04" fill="#f0bea2"/>
<polygon points="659.49,706.43 664.63,704.09 671.64,702.69 669.30,707.83 665.56,712.04 659.95,712.04" fill="#efbda0"/>
<polygon points="652.94,712.04 658.55,712.04 658.55,716.71 652.94,716.71" fill="#b8846f"/>
<polygon points="660.42,712.04 665.56,712.04 665.56,716.71 660.42,716.71" fill="#b8846f"/>
<polygon points="658.55,712.04 660.42,712.04 660.42,716.71 658.55,716.71" fill="#e8b89c"/>
</svg></body></html>
